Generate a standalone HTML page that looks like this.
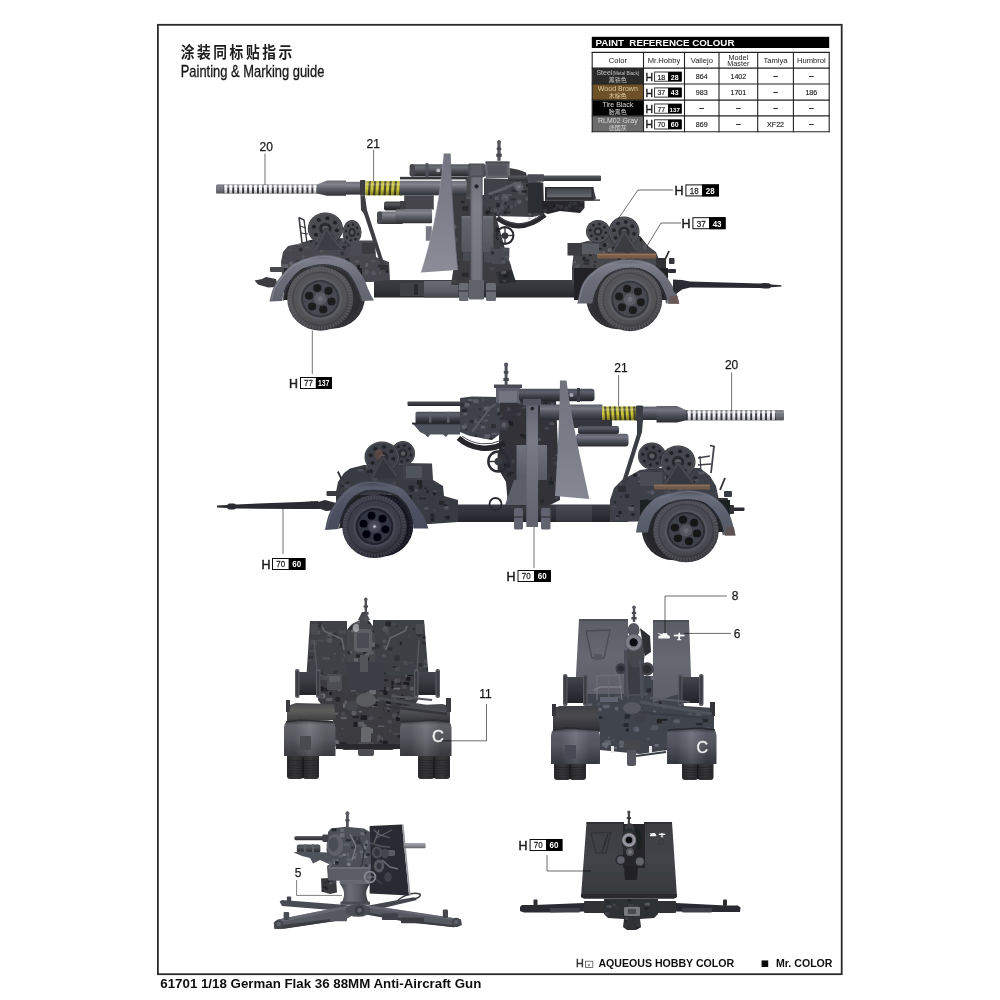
<!DOCTYPE html>
<html lang="zh">
<head>
<meta charset="utf-8">
<title>61701 1/18 German Flak 36 88MM Anti-Aircraft Gun - Painting &amp; Marking guide</title>
<style>
html,body{margin:0;padding:0;background:#fff;}
body{width:1000px;height:1000px;overflow:hidden;position:relative;font-family:"Liberation Sans","Noto Sans CJK SC",sans-serif;}
svg{position:absolute;left:0;top:0;display:block;}
</style>
</head>
<body>
<svg width="1000" height="1000" viewBox="0 0 1000 1000">
<defs>
<filter id="soft" x="-5%" y="-5%" width="110%" height="110%"><feGaussianBlur stdDeviation="0.7"/></filter>
<filter id="soft2" x="-5%" y="-5%" width="110%" height="110%"><feGaussianBlur stdDeviation="0.5"/></filter>
<linearGradient id="g1" x1="0" y1="0" x2="0" y2="1"><stop offset="0" stop-color="#6b6c75"/><stop offset="0.25" stop-color="#83848d"/><stop offset="0.55" stop-color="#5d5e66"/><stop offset="1" stop-color="#303136"/></linearGradient>
<linearGradient id="g2" x1="0" y1="0" x2="0" y2="1"><stop offset="0" stop-color="#55565e"/><stop offset="0.25" stop-color="#6c6d76"/><stop offset="0.6" stop-color="#484950"/><stop offset="1" stop-color="#26272b"/></linearGradient>
<linearGradient id="g3" x1="0" y1="0" x2="0" y2="1"><stop offset="0" stop-color="#3f4046"/><stop offset="0.3" stop-color="#55565d"/><stop offset="0.6" stop-color="#36373c"/><stop offset="1" stop-color="#1e1f22"/></linearGradient>
<linearGradient id="g4" x1="0" y1="0" x2="0" y2="1"><stop offset="0" stop-color="#3c3d43"/><stop offset="0.5" stop-color="#34353a"/><stop offset="1" stop-color="#26272b"/></linearGradient>
<linearGradient id="g5" x1="0" y1="0" x2="0" y2="1"><stop offset="0" stop-color="#6a6b74"/><stop offset="0.6" stop-color="#5c5d66"/><stop offset="1" stop-color="#44454c"/></linearGradient>
<clipPath id="c1"><polygon points="281,262 283,252 288,246 300,243.5 310,240 345,238 350,240.5 375,240.5 376,257 389,262 390,280 372,282 300,282 282,275"/></clipPath>
<radialGradient id="g6" cx="0.45" cy="0.38" r="0.64"><stop offset="0" stop-color="#55555a"/><stop offset="0.72" stop-color="#525257"/><stop offset="0.86" stop-color="#47474b"/><stop offset="1" stop-color="#343437"/></radialGradient>
<linearGradient id="g7" x1="0" y1="0" x2="0" y2="1"><stop offset="0" stop-color="#5a5c68"/><stop offset="0.12" stop-color="#7b7d8a"/><stop offset="0.5" stop-color="#6a6c78"/><stop offset="1" stop-color="#62646f"/></linearGradient>
<clipPath id="c2"><polygon points="572,268 574,250 580,243 592,240 600,236 640,236 648,246 656,252 660,262 664,272 664,282 572,284"/></clipPath>
<radialGradient id="g8" cx="0.45" cy="0.38" r="0.64"><stop offset="0" stop-color="#55555a"/><stop offset="0.72" stop-color="#525257"/><stop offset="0.86" stop-color="#47474b"/><stop offset="1" stop-color="#343437"/></radialGradient>
<linearGradient id="g9" x1="0" y1="0" x2="0" y2="1"><stop offset="0" stop-color="#5a5c68"/><stop offset="0.12" stop-color="#7b7d8a"/><stop offset="0.5" stop-color="#6a6c78"/><stop offset="1" stop-color="#62646f"/></linearGradient>
<linearGradient id="g10" x1="0" y1="0" x2="0" y2="1"><stop offset="0" stop-color="#000"/><stop offset="0.18" stop-color="#fff"/><stop offset="0.5" stop-color="#000"/><stop offset="1" stop-color="#000"/></linearGradient>
<linearGradient id="g11" x1="0" y1="0" x2="0" y2="1"><stop offset="0" stop-color="#000" stop-opacity="0.15"/><stop offset="0.22" stop-color="#fff" stop-opacity="0.1"/><stop offset="0.5" stop-color="#000" stop-opacity="0.0"/><stop offset="1" stop-color="#000" stop-opacity="0.3"/></linearGradient>
<linearGradient id="g12" x1="0" y1="0" x2="0" y2="1"><stop offset="0" stop-color="#000"/><stop offset="0.18" stop-color="#fff"/><stop offset="0.5" stop-color="#000"/><stop offset="1" stop-color="#000"/></linearGradient>
<linearGradient id="g13" x1="0" y1="0" x2="0" y2="1"><stop offset="0" stop-color="#000" stop-opacity="0.15"/><stop offset="0.22" stop-color="#fff" stop-opacity="0.25"/><stop offset="0.5" stop-color="#000" stop-opacity="0.0"/><stop offset="1" stop-color="#000" stop-opacity="0.4"/></linearGradient>
<clipPath id="c3"><polygon points="335,400 640,400 640,540 700,760 740,870 760,960 640,1000 340,1000 355,900"/></clipPath>
<linearGradient id="g14" x1="0" y1="0" x2="0" y2="1"><stop offset="0" stop-color="#70717a"/><stop offset="0.1" stop-color="#62636b"/><stop offset="1" stop-color="#55565d"/></linearGradient>
<linearGradient id="g15" x1="0" y1="0" x2="0" y2="1"><stop offset="0" stop-color="#70717a"/><stop offset="0.1" stop-color="#62636b"/><stop offset="1" stop-color="#55565d"/></linearGradient>
<linearGradient id="g16" x1="0" y1="0" x2="0" y2="1"><stop offset="0" stop-color="#5f6068"/><stop offset="0.25" stop-color="#70717a"/><stop offset="1" stop-color="#606169"/></linearGradient>
<linearGradient id="g17" x1="0" y1="0" x2="1" y2="0"><stop offset="0" stop-color="#000"/><stop offset="0.2" stop-color="#fff"/><stop offset="0.8" stop-color="#fff"/><stop offset="1" stop-color="#000"/></linearGradient>
<clipPath id="c4"><polygon points="560,288 850,296 955,318 962,528 885,546 640,540 598,500 560,478"/></clipPath>
<linearGradient id="g18" x1="0" y1="0" x2="0" y2="1"><stop offset="0" stop-color="#5c5d64"/><stop offset="0.4" stop-color="#4a4b51"/><stop offset="1" stop-color="#2c2d31"/></linearGradient>
<clipPath id="c5"><polygon points="600,748 730,752 728,820 700,862 615,860 596,810"/></clipPath>
<linearGradient id="g19" x1="0" y1="0" x2="0" y2="1"><stop offset="0" stop-color="#737481"/><stop offset="0.5" stop-color="#7e7f8b"/><stop offset="1" stop-color="#8b8c98"/></linearGradient>
<linearGradient id="g20" x1="0" y1="0" x2="0" y2="1"><stop offset="0" stop-color="#44454c"/><stop offset="0.5" stop-color="#55565e"/><stop offset="1" stop-color="#6a6b74"/></linearGradient>
<clipPath id="c6"><polygon points="542,201 584.5,201 584.5,208 580,213 560,211 548,214 542,212"/></clipPath>
<clipPath id="c7"><polygon points="496,272 512,270 516,282 500,284"/></clipPath>
<linearGradient id="g21" x1="0" y1="0" x2="0" y2="1"><stop offset="0" stop-color="#5c5e69"/><stop offset="0.25" stop-color="#747682"/><stop offset="0.55" stop-color="#4f515b"/><stop offset="1" stop-color="#2a2b31"/></linearGradient>
<linearGradient id="g22" x1="0" y1="0" x2="0" y2="1"><stop offset="0" stop-color="#4a4c56"/><stop offset="0.25" stop-color="#5e606b"/><stop offset="0.6" stop-color="#3e4049"/><stop offset="1" stop-color="#222328"/></linearGradient>
<linearGradient id="g23" x1="0" y1="0" x2="0" y2="1"><stop offset="0" stop-color="#3a3b42"/><stop offset="0.5" stop-color="#303137"/><stop offset="1" stop-color="#24252a"/></linearGradient>
<linearGradient id="g24" x1="0" y1="0" x2="0" y2="1"><stop offset="0" stop-color="#4a4c55"/><stop offset="1" stop-color="#34353c"/></linearGradient>
<clipPath id="c8"><polygon points="336,492 338,482 344,473 350,468.5 364,465 400,463 432,463.5 433,480 443,486 444,496 458,500 458,522 430,524 336,524"/></clipPath>
<radialGradient id="g25" cx="0.45" cy="0.38" r="0.64"><stop offset="0" stop-color="#3f3f4b"/><stop offset="0.72" stop-color="#3c3c48"/><stop offset="0.86" stop-color="#31313c"/><stop offset="1" stop-color="#1e1e28"/></radialGradient>
<linearGradient id="g26" x1="0" y1="0" x2="0" y2="1"><stop offset="0" stop-color="#5a5c68"/><stop offset="0.12" stop-color="#7b7d8a"/><stop offset="0.5" stop-color="#6a6c78"/><stop offset="1" stop-color="#62646f"/></linearGradient>
<linearGradient id="g27" x1="0" y1="0" x2="0" y2="1"><stop offset="0" stop-color="#3e4150"/><stop offset="0.15" stop-color="#5a5e6e"/><stop offset="0.6" stop-color="#4c5060"/><stop offset="1" stop-color="#484c5a"/></linearGradient>
<clipPath id="c9"><polygon points="610,500 614,488 622,480 640,470 655,468 700,468 710,476 716,486 719,500 722,512 722,520 610,522"/></clipPath>
<radialGradient id="g28" cx="0.45" cy="0.38" r="0.64"><stop offset="0" stop-color="#4d4d54"/><stop offset="0.72" stop-color="#4a4a51"/><stop offset="0.86" stop-color="#3f3f45"/><stop offset="1" stop-color="#2c2c31"/></radialGradient>
<linearGradient id="g29" x1="0" y1="0" x2="0" y2="1"><stop offset="0" stop-color="#5a5c68"/><stop offset="0.12" stop-color="#7b7d8a"/><stop offset="0.5" stop-color="#6a6c78"/><stop offset="1" stop-color="#62646f"/></linearGradient>
<linearGradient id="g30" x1="0" y1="0" x2="0" y2="1"><stop offset="0" stop-color="#484b59"/><stop offset="0.15" stop-color="#686c7b"/><stop offset="0.6" stop-color="#5a5e6c"/><stop offset="1" stop-color="#565a68"/></linearGradient>
<clipPath id="c10"><polygon points="500,400 556,400 560,500 548,506 508,506 506,482 499,470 499,440"/></clipPath>
<linearGradient id="g31" x1="0" y1="0" x2="0" y2="1"><stop offset="0" stop-color="#4a4c55"/><stop offset="0.5" stop-color="#3a3b42"/><stop offset="1" stop-color="#26272c"/></linearGradient>
<clipPath id="c11"><polygon points="460,398 472,396.5 497,397 500,404 500,434 492,440 470,436 460,432"/></clipPath>
<linearGradient id="g32" x1="0" y1="0" x2="0" y2="1"><stop offset="0" stop-color="#000"/><stop offset="0.18" stop-color="#fff"/><stop offset="0.5" stop-color="#000"/><stop offset="1" stop-color="#000"/></linearGradient>
<linearGradient id="g33" x1="0" y1="0" x2="0" y2="1"><stop offset="0" stop-color="#000" stop-opacity="0.15"/><stop offset="0.22" stop-color="#fff" stop-opacity="0.25"/><stop offset="0.5" stop-color="#000" stop-opacity="0.0"/><stop offset="1" stop-color="#000" stop-opacity="0.4"/></linearGradient>
<linearGradient id="g34" x1="0" y1="0" x2="0" y2="1"><stop offset="0" stop-color="#000"/><stop offset="0.18" stop-color="#fff"/><stop offset="0.5" stop-color="#000"/><stop offset="1" stop-color="#000"/></linearGradient>
<linearGradient id="g35" x1="0" y1="0" x2="0" y2="1"><stop offset="0" stop-color="#000" stop-opacity="0.15"/><stop offset="0.22" stop-color="#fff" stop-opacity="0.1"/><stop offset="0.5" stop-color="#000" stop-opacity="0.0"/><stop offset="1" stop-color="#000" stop-opacity="0.3"/></linearGradient>
<linearGradient id="g36" x1="0" y1="0" x2="0" y2="1"><stop offset="0" stop-color="#000"/><stop offset="0.18" stop-color="#fff"/><stop offset="0.5" stop-color="#000"/><stop offset="1" stop-color="#000"/></linearGradient>
<linearGradient id="g37" x1="0" y1="0" x2="0" y2="1"><stop offset="0" stop-color="#000" stop-opacity="0.15"/><stop offset="0.22" stop-color="#fff" stop-opacity="0.2"/><stop offset="0.5" stop-color="#000" stop-opacity="0.0"/><stop offset="1" stop-color="#000" stop-opacity="0.3"/></linearGradient>
<linearGradient id="g38" x1="0" y1="0" x2="0" y2="1"><stop offset="0" stop-color="#70727e"/><stop offset="1" stop-color="#585a65"/></linearGradient>
<linearGradient id="g39" x1="0" y1="0" x2="0" y2="1"><stop offset="0" stop-color="#70727e"/><stop offset="1" stop-color="#585a65"/></linearGradient>
<linearGradient id="g40" x1="0" y1="0" x2="0" y2="1"><stop offset="0" stop-color="#636571"/><stop offset="0.3" stop-color="#787a86"/><stop offset="1" stop-color="#60626d"/></linearGradient>
<linearGradient id="g41" x1="0" y1="0" x2="0" y2="1"><stop offset="0" stop-color="#70727e"/><stop offset="0.5" stop-color="#7a7c88"/><stop offset="1" stop-color="#858793"/></linearGradient>
<linearGradient id="g42" x1="0" y1="0" x2="1" y2="0"><stop offset="0" stop-color="#2a2a2d"/><stop offset="0.5" stop-color="#38383b"/><stop offset="1" stop-color="#2a2a2d"/></linearGradient>
<linearGradient id="g43" x1="0" y1="0" x2="1" y2="0"><stop offset="0" stop-color="#2a2a2d"/><stop offset="0.5" stop-color="#38383b"/><stop offset="1" stop-color="#2a2a2d"/></linearGradient>
<clipPath id="c12"><polygon points="320,672 414,672 418,700 402,722 400,746 392,750 344,750 335,746 334,722 318,700"/></clipPath>
<clipPath id="c13"><polygon points="310,621 347,621 347,675 306.5,675"/></clipPath>
<clipPath id="c14"><polygon points="373,620 424,620 428.5,675 373,675"/></clipPath>
<clipPath id="c15"><polygon points="347,630 352,624 360,620 368,620 373,626 375,640 375,670 347,670"/></clipPath>
<linearGradient id="g44" x1="0" y1="0" x2="0" y2="1"><stop offset="0" stop-color="#44454b"/><stop offset="0.4" stop-color="#3a3b41"/><stop offset="1" stop-color="#232428"/></linearGradient>
<linearGradient id="g45" x1="0" y1="0" x2="0" y2="1"><stop offset="0" stop-color="#44454b"/><stop offset="0.4" stop-color="#3a3b41"/><stop offset="1" stop-color="#232428"/></linearGradient>
<linearGradient id="g46" x1="0" y1="0" x2="0" y2="1"><stop offset="0" stop-color="#4a4a4c"/><stop offset="0.4" stop-color="#5e5d5c"/><stop offset="1" stop-color="#3a3a3c"/></linearGradient>
<linearGradient id="g47" x1="0" y1="0" x2="0" y2="1"><stop offset="0" stop-color="#45464a"/><stop offset="0.4" stop-color="#505156"/><stop offset="1" stop-color="#333437"/></linearGradient>
<linearGradient id="g48" x1="0" y1="0" x2="0" y2="1"><stop offset="0" stop-color="#3e3f45"/><stop offset="0.12" stop-color="#6c6d74"/><stop offset="0.5" stop-color="#606168"/><stop offset="1" stop-color="#3e3f45"/></linearGradient>
<linearGradient id="g49" x1="0" y1="0" x2="1" y2="0"><stop offset="0" stop-color="#000"/><stop offset="0.2" stop-color="#000"/><stop offset="0.5" stop-color="#fff"/><stop offset="0.8" stop-color="#000"/><stop offset="1" stop-color="#000"/></linearGradient>
<linearGradient id="g50" x1="0" y1="0" x2="0" y2="1"><stop offset="0" stop-color="#3c3d43"/><stop offset="0.12" stop-color="#696a71"/><stop offset="0.5" stop-color="#5c5d64"/><stop offset="1" stop-color="#3c3d43"/></linearGradient>
<linearGradient id="g51" x1="0" y1="0" x2="1" y2="0"><stop offset="0" stop-color="#000"/><stop offset="0.2" stop-color="#000"/><stop offset="0.5" stop-color="#fff"/><stop offset="0.8" stop-color="#000"/><stop offset="1" stop-color="#000"/></linearGradient>
<linearGradient id="g52" x1="0" y1="0" x2="1" y2="0"><stop offset="0" stop-color="#2a2a2d"/><stop offset="0.5" stop-color="#38383b"/><stop offset="1" stop-color="#2a2a2d"/></linearGradient>
<linearGradient id="g53" x1="0" y1="0" x2="1" y2="0"><stop offset="0" stop-color="#2a2a2d"/><stop offset="0.5" stop-color="#38383b"/><stop offset="1" stop-color="#2a2a2d"/></linearGradient>
<clipPath id="c16"><polygon points="588,676 680,676 684,706 714,708 714,730 668,732 667,750 640,754 600,750 600,732 553,730 553,710 586,706"/></clipPath>
<linearGradient id="g54" x1="0" y1="0" x2="0" y2="1"><stop offset="0" stop-color="#5c5d66"/><stop offset="0.5" stop-color="#666771"/><stop offset="1" stop-color="#5e5f69"/></linearGradient>
<radialGradient id="g55" cx="0.5" cy="0.5" r="0.5"><stop offset="0" stop-color="#111"/><stop offset="0.42" stop-color="#15161a"/><stop offset="0.5" stop-color="#6e707b"/><stop offset="0.75" stop-color="#858792"/><stop offset="1" stop-color="#50525c"/></radialGradient>
<linearGradient id="g56" x1="0" y1="0" x2="0" y2="1"><stop offset="0" stop-color="#44454b"/><stop offset="0.4" stop-color="#34353c"/><stop offset="1" stop-color="#232428"/></linearGradient>
<linearGradient id="g57" x1="0" y1="0" x2="0" y2="1"><stop offset="0" stop-color="#44454b"/><stop offset="0.4" stop-color="#34353c"/><stop offset="1" stop-color="#232428"/></linearGradient>
<linearGradient id="g58" x1="0" y1="0" x2="0" y2="1"><stop offset="0" stop-color="#3e3f45"/><stop offset="0.4" stop-color="#4a4a4e"/><stop offset="1" stop-color="#2e2f34"/></linearGradient>
<linearGradient id="g59" x1="0" y1="0" x2="0" y2="1"><stop offset="0" stop-color="#3a3c45"/><stop offset="0.12" stop-color="#656773"/><stop offset="0.5" stop-color="#5a5c67"/><stop offset="1" stop-color="#3a3c45"/></linearGradient>
<linearGradient id="g60" x1="0" y1="0" x2="1" y2="0"><stop offset="0" stop-color="#000"/><stop offset="0.2" stop-color="#000"/><stop offset="0.5" stop-color="#fff"/><stop offset="0.8" stop-color="#000"/><stop offset="1" stop-color="#000"/></linearGradient>
<linearGradient id="g61" x1="0" y1="0" x2="0" y2="1"><stop offset="0" stop-color="#383a43"/><stop offset="0.12" stop-color="#636571"/><stop offset="0.5" stop-color="#585a65"/><stop offset="1" stop-color="#383a43"/></linearGradient>
<linearGradient id="g62" x1="0" y1="0" x2="1" y2="0"><stop offset="0" stop-color="#000"/><stop offset="0.2" stop-color="#000"/><stop offset="0.5" stop-color="#fff"/><stop offset="0.8" stop-color="#000"/><stop offset="1" stop-color="#000"/></linearGradient>
<linearGradient id="g63" x1="0" y1="0" x2="1" y2="0"><stop offset="0" stop-color="#42444b"/><stop offset="0.3" stop-color="#6c6e77"/><stop offset="0.65" stop-color="#585a63"/><stop offset="1" stop-color="#33353b"/></linearGradient>
<clipPath id="c17"><polygon points="255,392 330,388 335,462 300,470 258,458"/></clipPath>
<clipPath id="c18"><polygon points="290,160 305,142 380,134 470,142 500,160 505,330 500,402 290,402 285,330 300,320 282,250 288,200"/></clipPath>
<linearGradient id="g64" x1="0" y1="0" x2="0" y2="1"><stop offset="0" stop-color="#6a6c74"/><stop offset="0.4" stop-color="#44464d"/><stop offset="1" stop-color="#2a2b30"/></linearGradient>
<linearGradient id="g65" x1="0" y1="0" x2="0" y2="1"><stop offset="0" stop-color="#45474e"/><stop offset="0.3" stop-color="#585a62"/><stop offset="1" stop-color="#1f2024"/></linearGradient>
<linearGradient id="g66" x1="0" y1="0" x2="0" y2="1"><stop offset="0" stop-color="#a8a9b0"/><stop offset="0.5" stop-color="#8c8d94"/><stop offset="1" stop-color="#64656c"/></linearGradient>
<clipPath id="c19"><polygon points="604,899 658,899 658,914 654,918 640,919 641,927 636,930 627,930 623,927 624,919 608,918 604,914"/></clipPath>
<linearGradient id="g67" x1="0" y1="0" x2="0" y2="1"><stop offset="0" stop-color="#3c3d42"/><stop offset="0.5" stop-color="#424348"/><stop offset="1" stop-color="#36373b"/></linearGradient>
<radialGradient id="g68" cx="0.5" cy="0.5" r="0.5"><stop offset="0" stop-color="#0c0c0d"/><stop offset="0.4" stop-color="#101012"/><stop offset="0.5" stop-color="#7c7d84"/><stop offset="0.78" stop-color="#a0a1a8"/><stop offset="1" stop-color="#45464c"/></radialGradient>
</defs>
<rect x="0" y="0" width="1000" height="1000" fill="#ffffff"/>
<g filter="url(#soft2)">
<rect x="157.9" y="24.8" width="683.8" height="949.4" fill="none" stroke="#2b2b2b" stroke-width="1.8"/>
<g transform="translate(180.8,57.7) scale(0.88,1)">
<text x="0" y="0" font-family="&quot;Liberation Sans&quot;, &quot;Noto Sans CJK SC&quot;, sans-serif" font-size="15.6" font-weight="bold" fill="#1a1a1a" text-anchor="start" letter-spacing="2.9">涂装同标贴指示</text>
</g>
<g transform="translate(180.7,77.3) scale(0.752,1)">
<text x="0" y="0" font-family="&quot;Liberation Sans&quot;, sans-serif" font-size="17.2" font-weight="normal" fill="#1a1a1a" text-anchor="start" stroke="#1a1a1a" stroke-width="0.35">Painting &amp; Marking guide</text>
</g>
<text x="160.3" y="987.8" font-family="&quot;Liberation Sans&quot;, sans-serif" font-size="13.3" font-weight="bold" fill="#111" text-anchor="start">61701 1/18 German Flak 36 88MM Anti-Aircraft Gun</text>
<text x="576" y="967.2" font-family="&quot;Liberation Sans&quot;, sans-serif" font-size="10.8" font-weight="normal" fill="#333" text-anchor="start" stroke="#333" stroke-width="0.4">H</text>
<rect x="585.4" y="961.2" width="7.4" height="6.2" fill="#fff" stroke="#555" stroke-width="0.8"/>
<text x="589.1" y="966.6" font-family="&quot;Liberation Sans&quot;, sans-serif" font-size="6" font-weight="normal" fill="#555" text-anchor="middle">×</text>
<text x="598.4" y="967.3" font-family="&quot;Liberation Sans&quot;, sans-serif" font-size="10.6" font-weight="bold" fill="#111" text-anchor="start">AQUEOUS HOBBY COLOR</text>
<rect x="761.6" y="960.4" width="6.6" height="6.6" fill="#111"/>
<text x="776" y="967.3" font-family="&quot;Liberation Sans&quot;, sans-serif" font-size="10.6" font-weight="bold" fill="#111" text-anchor="start">Mr. COLOR</text>
<rect x="591.8" y="36.8" width="237.4" height="11.2" fill="#000"/>
<text x="595.4" y="46.3" font-family="&quot;Liberation Sans&quot;, sans-serif" font-size="9.75" font-weight="bold" fill="#fff" text-anchor="start" style="white-space:pre">PAINT  REFERENCE COLOUR</text>
<rect x="592.2" y="68.1" width="51.3" height="15.9" fill="#2a2a2a"/>
<rect x="592.2" y="84" width="51.3" height="16.1" fill="#6e5126"/>
<rect x="592.2" y="100.1" width="51.3" height="15.8" fill="#050505"/>
<rect x="592.2" y="115.9" width="51.3" height="15.8" fill="#6c6c6c"/>
<line x1="592.2" y1="51.9" x2="592.2" y2="132.2" stroke="#222" stroke-width="1.1"/>
<line x1="643.5" y1="51.9" x2="643.5" y2="132.2" stroke="#222" stroke-width="1.1"/>
<line x1="684.5" y1="51.9" x2="684.5" y2="132.2" stroke="#222" stroke-width="1.1"/>
<line x1="719" y1="51.9" x2="719" y2="132.2" stroke="#222" stroke-width="1.1"/>
<line x1="757.7" y1="51.9" x2="757.7" y2="132.2" stroke="#222" stroke-width="1.1"/>
<line x1="793.4" y1="51.9" x2="793.4" y2="132.2" stroke="#222" stroke-width="1.1"/>
<line x1="829.2" y1="51.9" x2="829.2" y2="132.2" stroke="#222" stroke-width="1.1"/>
<line x1="591.7" y1="52.4" x2="829.7" y2="52.4" stroke="#222" stroke-width="1.1"/>
<line x1="591.7" y1="68.1" x2="829.7" y2="68.1" stroke="#222" stroke-width="1.1"/>
<line x1="591.7" y1="84" x2="829.7" y2="84" stroke="#222" stroke-width="1.1"/>
<line x1="591.7" y1="100.1" x2="829.7" y2="100.1" stroke="#222" stroke-width="1.1"/>
<line x1="591.7" y1="115.9" x2="829.7" y2="115.9" stroke="#222" stroke-width="1.1"/>
<line x1="591.7" y1="131.7" x2="829.7" y2="131.7" stroke="#222" stroke-width="1.1"/>
<text x="617.85" y="63.2" font-family="&quot;Liberation Sans&quot;, sans-serif" font-size="7.6" font-weight="normal" fill="#222" text-anchor="middle">Color</text>
<text x="664" y="63.2" font-family="&quot;Liberation Sans&quot;, sans-serif" font-size="7.6" font-weight="normal" fill="#222" text-anchor="middle">Mr.Hobby</text>
<text x="701.75" y="63.2" font-family="&quot;Liberation Sans&quot;, sans-serif" font-size="7.6" font-weight="normal" fill="#222" text-anchor="middle">Vallejo</text>
<text x="775.55" y="63.2" font-family="&quot;Liberation Sans&quot;, sans-serif" font-size="7.6" font-weight="normal" fill="#222" text-anchor="middle">Tamiya</text>
<text x="811.3" y="63.2" font-family="&quot;Liberation Sans&quot;, sans-serif" font-size="7.6" font-weight="normal" fill="#222" text-anchor="middle">Humbrol</text>
<text x="738.35" y="59.6" font-family="&quot;Liberation Sans&quot;, sans-serif" font-size="7.2" font-weight="normal" fill="#222" text-anchor="middle">Model</text>
<text x="738.35" y="65.6" font-family="&quot;Liberation Sans&quot;, sans-serif" font-size="7.2" font-weight="normal" fill="#222" text-anchor="middle">Master</text>
<text x="617.85" y="75.1" font-family="&quot;Liberation Sans&quot;, sans-serif" font-size="7.0" font-weight="normal" fill="#c0c0c0" text-anchor="middle">Steel<tspan font-size="4.6">(Metal Black)</tspan></text>
<text x="617.85" y="82.3" font-family="&quot;Liberation Sans&quot;, &quot;Noto Sans CJK SC&quot;, sans-serif" font-size="6.0" font-weight="normal" fill="#c0c0c0" text-anchor="middle">黑铁色</text>
<text x="617.85" y="91" font-family="&quot;Liberation Sans&quot;, sans-serif" font-size="7.0" font-weight="normal" fill="#dccba4" text-anchor="middle">Wood Brown</text>
<text x="617.85" y="98.2" font-family="&quot;Liberation Sans&quot;, &quot;Noto Sans CJK SC&quot;, sans-serif" font-size="6.0" font-weight="normal" fill="#dccba4" text-anchor="middle">木棕色</text>
<text x="617.85" y="107.1" font-family="&quot;Liberation Sans&quot;, sans-serif" font-size="7.0" font-weight="normal" fill="#d4d4d4" text-anchor="middle">Tire Black</text>
<text x="617.85" y="114.3" font-family="&quot;Liberation Sans&quot;, &quot;Noto Sans CJK SC&quot;, sans-serif" font-size="6.0" font-weight="normal" fill="#d4d4d4" text-anchor="middle">胎黑色</text>
<text x="617.85" y="122.9" font-family="&quot;Liberation Sans&quot;, sans-serif" font-size="7.0" font-weight="normal" fill="#dadada" text-anchor="middle">RLM02 Gray</text>
<text x="617.85" y="130.1" font-family="&quot;Liberation Sans&quot;, &quot;Noto Sans CJK SC&quot;, sans-serif" font-size="6.0" font-weight="normal" fill="#dadada" text-anchor="middle">德国灰</text>
<text x="701.75" y="78.9" font-family="&quot;Liberation Sans&quot;, sans-serif" font-size="7.1" font-weight="normal" fill="#222" text-anchor="middle" stroke="#222" stroke-width="0.15">864</text>
<text x="738.35" y="78.9" font-family="&quot;Liberation Sans&quot;, sans-serif" font-size="7.1" font-weight="normal" fill="#222" text-anchor="middle" stroke="#222" stroke-width="0.15">1402</text>
<text x="775.55" y="78.7" font-family="&quot;Liberation Sans&quot;, sans-serif" font-size="9.5" font-weight="bold" fill="#222" text-anchor="middle">–</text>
<text x="811.3" y="78.7" font-family="&quot;Liberation Sans&quot;, sans-serif" font-size="9.5" font-weight="bold" fill="#222" text-anchor="middle">–</text>
<text x="701.75" y="94.8" font-family="&quot;Liberation Sans&quot;, sans-serif" font-size="7.1" font-weight="normal" fill="#222" text-anchor="middle" stroke="#222" stroke-width="0.15">983</text>
<text x="738.35" y="94.8" font-family="&quot;Liberation Sans&quot;, sans-serif" font-size="7.1" font-weight="normal" fill="#222" text-anchor="middle" stroke="#222" stroke-width="0.15">1701</text>
<text x="775.55" y="94.6" font-family="&quot;Liberation Sans&quot;, sans-serif" font-size="9.5" font-weight="bold" fill="#222" text-anchor="middle">–</text>
<text x="811.3" y="94.8" font-family="&quot;Liberation Sans&quot;, sans-serif" font-size="7.1" font-weight="normal" fill="#222" text-anchor="middle" stroke="#222" stroke-width="0.15">186</text>
<text x="701.75" y="110.7" font-family="&quot;Liberation Sans&quot;, sans-serif" font-size="9.5" font-weight="bold" fill="#222" text-anchor="middle">–</text>
<text x="738.35" y="110.7" font-family="&quot;Liberation Sans&quot;, sans-serif" font-size="9.5" font-weight="bold" fill="#222" text-anchor="middle">–</text>
<text x="775.55" y="110.7" font-family="&quot;Liberation Sans&quot;, sans-serif" font-size="9.5" font-weight="bold" fill="#222" text-anchor="middle">–</text>
<text x="811.3" y="110.7" font-family="&quot;Liberation Sans&quot;, sans-serif" font-size="9.5" font-weight="bold" fill="#222" text-anchor="middle">–</text>
<text x="701.75" y="126.7" font-family="&quot;Liberation Sans&quot;, sans-serif" font-size="7.1" font-weight="normal" fill="#222" text-anchor="middle" stroke="#222" stroke-width="0.15">869</text>
<text x="738.35" y="126.5" font-family="&quot;Liberation Sans&quot;, sans-serif" font-size="9.5" font-weight="bold" fill="#222" text-anchor="middle">–</text>
<text x="775.55" y="126.7" font-family="&quot;Liberation Sans&quot;, sans-serif" font-size="7.1" font-weight="normal" fill="#222" text-anchor="middle" stroke="#222" stroke-width="0.15">XF22</text>
<text x="811.3" y="126.5" font-family="&quot;Liberation Sans&quot;, sans-serif" font-size="9.5" font-weight="bold" fill="#222" text-anchor="middle">–</text>
<text x="645.6" y="80.6" font-family="&quot;Liberation Sans&quot;, sans-serif" font-size="10.4" font-weight="normal" fill="#1c1c1c" text-anchor="start" stroke="#1c1c1c" stroke-width="0.4">H</text>
<rect x="654.6" y="72" width="26.6" height="9.2" fill="#fff" stroke="#222" stroke-width="0.9"/>
<rect x="668" y="72" width="13.6" height="9.2" fill="#000"/>
<text x="661.3" y="79.5" font-family="&quot;Liberation Sans&quot;, sans-serif" font-size="7" font-weight="normal" fill="#222" text-anchor="middle" stroke="#222" stroke-width="0.2">18</text>
<text x="674.7" y="79.5" font-family="&quot;Liberation Sans&quot;, sans-serif" font-size="7" font-weight="bold" fill="#fff" text-anchor="middle">28</text>
<text x="645.6" y="96.5" font-family="&quot;Liberation Sans&quot;, sans-serif" font-size="10.4" font-weight="normal" fill="#1c1c1c" text-anchor="start" stroke="#1c1c1c" stroke-width="0.4">H</text>
<rect x="654.6" y="87.9" width="26.6" height="9.2" fill="#fff" stroke="#222" stroke-width="0.9"/>
<rect x="668" y="87.9" width="13.6" height="9.2" fill="#000"/>
<text x="661.3" y="95.4" font-family="&quot;Liberation Sans&quot;, sans-serif" font-size="7" font-weight="normal" fill="#222" text-anchor="middle" stroke="#222" stroke-width="0.2">37</text>
<text x="674.7" y="95.4" font-family="&quot;Liberation Sans&quot;, sans-serif" font-size="7" font-weight="bold" fill="#fff" text-anchor="middle">43</text>
<text x="645.6" y="112.6" font-family="&quot;Liberation Sans&quot;, sans-serif" font-size="10.4" font-weight="normal" fill="#1c1c1c" text-anchor="start" stroke="#1c1c1c" stroke-width="0.4">H</text>
<rect x="654.6" y="104" width="26.6" height="9.2" fill="#fff" stroke="#222" stroke-width="0.9"/>
<rect x="668" y="104" width="13.6" height="9.2" fill="#000"/>
<text x="661.3" y="111.5" font-family="&quot;Liberation Sans&quot;, sans-serif" font-size="7" font-weight="normal" fill="#222" text-anchor="middle" stroke="#222" stroke-width="0.2">77</text>
<text x="674.7" y="111.5" font-family="&quot;Liberation Sans&quot;, sans-serif" font-size="6.2" font-weight="bold" fill="#fff" text-anchor="middle">137</text>
<text x="645.6" y="128.4" font-family="&quot;Liberation Sans&quot;, sans-serif" font-size="10.4" font-weight="normal" fill="#1c1c1c" text-anchor="start" stroke="#1c1c1c" stroke-width="0.4">H</text>
<rect x="654.6" y="119.8" width="26.6" height="9.2" fill="#fff" stroke="#222" stroke-width="0.9"/>
<rect x="668" y="119.8" width="13.6" height="9.2" fill="#000"/>
<text x="661.3" y="127.3" font-family="&quot;Liberation Sans&quot;, sans-serif" font-size="7" font-weight="normal" fill="#222" text-anchor="middle" stroke="#222" stroke-width="0.2">70</text>
<text x="674.7" y="127.3" font-family="&quot;Liberation Sans&quot;, sans-serif" font-size="7" font-weight="bold" fill="#fff" text-anchor="middle">60</text>
</g>
<g filter="url(#soft)">
<rect x="374" y="280" width="226" height="17.5" fill="url(#g4)"/>
<rect x="424" y="281" width="34.5" height="16.5" fill="url(#g5)"/>
<rect x="400" y="283" width="24" height="13" fill="#3f4047"/>
<rect x="414" y="284" width="4" height="11" fill="#2a2b2f"/>
<polygon points="254.5,280.5 262,279 266,277 276,279 278,287 268,287.5 258,284.5" fill="#3a3b40"/>
<rect x="270" y="267" width="13" height="5" fill="#47484e" rx="1"/>
<polygon points="281,262 283,252 288,246 300,243.5 310,240 345,238 350,240.5 375,240.5 376,257 389,262 390,280 372,282 300,282 282,275" fill="#46474d"/>
<g clip-path="url(#c1)" opacity="0.8">
<circle cx="350.99" cy="241.12" r="1.18" fill="#303136"/>
<circle cx="303.96" cy="241.61" r="1.65" fill="#1c1d20"/>
<rect x="370.34" y="243.28" width="1.91" height="2.65" fill="#5a5b62" rx="0.5"/>
<circle cx="343.62" cy="240.14" r="1.65" fill="#5a5b62"/>
<rect x="296.34" y="243.05" width="5.36" height="2.28" fill="#6a6b72" rx="0.5"/>
<rect x="341.96" y="246.1" width="4.57" height="1.78" fill="#26272b" rx="0.5"/>
<rect x="303.27" y="267.37" width="1.78" height="1.66" fill="#1c1d20" rx="0.5"/>
<rect x="319.76" y="248.43" width="3.6" height="3.99" fill="#5a5b62" rx="0.5"/>
<circle cx="337.56" cy="275.17" r="1.04" fill="#1c1d20"/>
<rect x="325.34" y="270.63" width="5.91" height="1.82" fill="#5a5b62" rx="0.5"/>
<rect x="289.33" y="261.41" width="3.4" height="4.1" fill="#6a6b72" rx="0.5"/>
<rect x="366.64" y="240.93" width="3.08" height="2.84" fill="#26272b" rx="0.5"/>
<rect x="287.5" y="267.71" width="3.63" height="3.29" fill="#303136" rx="0.5"/>
<rect x="322.05" y="266.66" width="5.2" height="2.27" fill="#26272b" rx="0.5"/>
<circle cx="334.05" cy="247.26" r="1.24" fill="#6a6b72"/>
<rect x="374.85" y="241.44" width="2.61" height="2.56" fill="#1c1d20" rx="0.5"/>
<rect x="327.33" y="261.7" width="2.75" height="1.87" fill="#1c1d20" rx="0.5"/>
<circle cx="305.62" cy="241.55" r="1.83" fill="#5a5b62"/>
<circle cx="344.46" cy="249.19" r="1.02" fill="#26272b"/>
<rect x="315.11" y="243.32" width="3.91" height="3.15" fill="#303136" rx="0.5"/>
<rect x="329.76" y="274.8" width="4.45" height="3.5" fill="#303136" rx="0.5"/>
<rect x="349.09" y="240.68" width="3.3" height="1.78" fill="#26272b" rx="0.5"/>
<circle cx="345.43" cy="242.41" r="1.39" fill="#303136"/>
<rect x="283.75" y="275.39" width="1.96" height="2.48" fill="#303136" rx="0.5"/>
<rect x="345.34" y="257.9" width="4.35" height="4.08" fill="#26272b" rx="0.5"/>
<rect x="332.29" y="241.66" width="5.97" height="2.76" fill="#26272b" rx="0.5"/>
<rect x="354.76" y="260" width="4.83" height="2.79" fill="#5a5b62" rx="0.5"/>
<circle cx="339.15" cy="239.16" r="1.55" fill="#303136"/>
<rect x="371.3" y="260.36" width="4.39" height="1.75" fill="#5a5b62" rx="0.5"/>
<rect x="335.16" y="265.06" width="2.5" height="2.96" fill="#303136" rx="0.5"/>
<circle cx="366.47" cy="272.45" r="2.37" fill="#5a5b62"/>
<circle cx="387.03" cy="271.39" r="1.49" fill="#1c1d20"/>
<rect x="328.72" y="277.32" width="4.62" height="4.08" fill="#6a6b72" rx="0.5"/>
<rect x="305.37" y="246.45" width="3.14" height="2.1" fill="#5a5b62" rx="0.5"/>
<rect x="281.2" y="276.57" width="5.93" height="3.15" fill="#6a6b72" rx="0.5"/>
<rect x="379.31" y="271.14" width="1.88" height="3.28" fill="#5a5b62" rx="0.5"/>
<rect x="316.86" y="271.78" width="2.3" height="3.63" fill="#1c1d20" rx="0.5"/>
<circle cx="297.93" cy="280.84" r="1.94" fill="#26272b"/>
<rect x="296.53" y="272.85" width="5.57" height="3.68" fill="#1c1d20" rx="0.5"/>
<rect x="295.08" y="238.61" width="3.08" height="2.98" fill="#26272b" rx="0.5"/>
<circle cx="373.53" cy="273.25" r="2.28" fill="#5a5b62"/>
<rect x="363.3" y="251.88" width="2.46" height="2.85" fill="#303136" rx="0.5"/>
<rect x="319.19" y="257.25" width="2.09" height="3.96" fill="#303136" rx="0.5"/>
<rect x="375.04" y="243.51" width="3.83" height="3.73" fill="#5a5b62" rx="0.5"/>
<circle cx="300.81" cy="238.17" r="0.63" fill="#5a5b62"/>
<rect x="340.65" y="251.78" width="3.63" height="3.46" fill="#303136" rx="0.5"/>
<circle cx="375.65" cy="240.4" r="1.47" fill="#5a5b62"/>
<rect x="340.83" y="270.35" width="4.98" height="2.87" fill="#26272b" rx="0.5"/>
<rect x="335.74" y="267.49" width="4.26" height="2.86" fill="#1c1d20" rx="0.5"/>
<rect x="307.36" y="260.27" width="5.13" height="2.87" fill="#6a6b72" rx="0.5"/>
<rect x="328.55" y="255.91" width="5.52" height="2.05" fill="#1c1d20" rx="0.5"/>
<rect x="288.9" y="266.74" width="1.83" height="2.15" fill="#26272b" rx="0.5"/>
<rect x="352.24" y="244.05" width="2.2" height="3.43" fill="#5a5b62" rx="0.5"/>
<circle cx="323.91" cy="258.45" r="1" fill="#5a5b62"/>
<circle cx="317.38" cy="246.33" r="1.38" fill="#6a6b72"/>
<rect x="330.27" y="268.09" width="3.15" height="2.41" fill="#1c1d20" rx="0.5"/>
<rect x="287.87" y="279.92" width="4.31" height="2.88" fill="#5a5b62" rx="0.5"/>
<rect x="285.28" y="271.41" width="1.97" height="2.22" fill="#6a6b72" rx="0.5"/>
<circle cx="352.93" cy="277.83" r="2.08" fill="#1c1d20"/>
<rect x="355.37" y="241.8" width="5.64" height="3.04" fill="#26272b" rx="0.5"/>
<rect x="310" y="238.71" width="2.33" height="3.92" fill="#26272b" rx="0.5"/>
<circle cx="288.2" cy="274.32" r="0.75" fill="#1c1d20"/>
<rect x="378.05" y="264.54" width="5.97" height="2.63" fill="#26272b" rx="0.5"/>
<rect x="298.39" y="240.17" width="2.57" height="1.8" fill="#5a5b62" rx="0.5"/>
<circle cx="302.99" cy="256.96" r="1.73" fill="#5a5b62"/>
<rect x="284.93" y="238.77" width="5.12" height="4.19" fill="#303136" rx="0.5"/>
<rect x="381.78" y="242.53" width="2.35" height="2.78" fill="#1c1d20" rx="0.5"/>
<rect x="384.84" y="250.94" width="3.96" height="3.9" fill="#5a5b62" rx="0.5"/>
<rect x="356.96" y="264.79" width="3.04" height="3.75" fill="#1c1d20" rx="0.5"/>
<rect x="282.51" y="264.34" width="5.92" height="3.76" fill="#6a6b72" rx="0.5"/>
<rect x="322.18" y="259.43" width="1.75" height="3.3" fill="#6a6b72" rx="0.5"/>
<circle cx="300.78" cy="249.62" r="1.85" fill="#26272b"/>
<circle cx="339.04" cy="248.25" r="2.33" fill="#6a6b72"/>
<circle cx="290.05" cy="249.94" r="0.93" fill="#5a5b62"/>
<circle cx="368.02" cy="244.2" r="2" fill="#303136"/>
<rect x="306.19" y="263.09" width="1.6" height="2.32" fill="#303136" rx="0.5"/>
<rect x="365.6" y="263.08" width="2.2" height="3.91" fill="#6a6b72" rx="0.5"/>
<rect x="347.29" y="244.21" width="3.72" height="2.27" fill="#303136" rx="0.5"/>
<rect x="295.85" y="260.08" width="4.8" height="3.69" fill="#303136" rx="0.5"/>
<circle cx="354.05" cy="272.49" r="2.06" fill="#5a5b62"/>
</g>
<polyline points="299,217.5 302,243" fill="none" stroke="#3a3b40" stroke-width="1.6"/>
<polyline points="299,217.5 304,220 307,243" fill="none" stroke="#3a3b40" stroke-width="1.4"/>
<line x1="300" y1="226" x2="306" y2="228" stroke="#3a3b40" stroke-width="1.2"/>
<line x1="301" y1="233" x2="308" y2="234" stroke="#3a3b40" stroke-width="1.2"/>
<ellipse cx="352" cy="232.5" rx="9.5" ry="12.5" fill="#2c2d31"/>
<ellipse cx="352" cy="232.5" rx="8.6" ry="11.6" fill="#4a4b51"/>
<ellipse cx="352" cy="232.5" rx="8.6" ry="11.6" fill="none" stroke="#5e5f66" stroke-width="0.9" opacity="0.8"/>
<ellipse cx="358.17" cy="233.93" rx="1.14" ry="1.5" fill="#1f2023" opacity="0.9"/>
<ellipse cx="355.6" cy="239.26" rx="1.14" ry="1.5" fill="#1f2023" opacity="0.9"/>
<ellipse cx="350.91" cy="240.62" rx="1.14" ry="1.5" fill="#1f2023" opacity="0.9"/>
<ellipse cx="346.86" cy="237.23" rx="1.14" ry="1.5" fill="#1f2023" opacity="0.9"/>
<ellipse cx="345.83" cy="231.07" rx="1.14" ry="1.5" fill="#1f2023" opacity="0.9"/>
<ellipse cx="348.4" cy="225.74" rx="1.14" ry="1.5" fill="#1f2023" opacity="0.9"/>
<ellipse cx="353.09" cy="224.38" rx="1.14" ry="1.5" fill="#1f2023" opacity="0.9"/>
<ellipse cx="357.14" cy="227.77" rx="1.14" ry="1.5" fill="#1f2023" opacity="0.9"/>
<ellipse cx="352" cy="232.5" rx="3.42" ry="4.5" fill="#2a2b2f"/>
<ellipse cx="352" cy="232.5" rx="1.71" ry="2.25" fill="#5a5b62"/>
<ellipse cx="325.4" cy="228.6" rx="17.6" ry="16" fill="#2c2d31"/>
<ellipse cx="325.4" cy="228.6" rx="16.7" ry="15.1" fill="#4a4b51"/>
<ellipse cx="325.4" cy="228.6" rx="16.7" ry="15.1" fill="none" stroke="#5e5f66" stroke-width="0.9" opacity="0.8"/>
<ellipse cx="336.84" cy="230.43" rx="2.11" ry="1.92" fill="#1f2023" opacity="0.9"/>
<ellipse cx="332.06" cy="237.25" rx="2.11" ry="1.92" fill="#1f2023" opacity="0.9"/>
<ellipse cx="323.38" cy="239" rx="2.11" ry="1.92" fill="#1f2023" opacity="0.9"/>
<ellipse cx="315.88" cy="234.66" rx="2.11" ry="1.92" fill="#1f2023" opacity="0.9"/>
<ellipse cx="313.96" cy="226.77" rx="2.11" ry="1.92" fill="#1f2023" opacity="0.9"/>
<ellipse cx="318.74" cy="219.95" rx="2.11" ry="1.92" fill="#1f2023" opacity="0.9"/>
<ellipse cx="327.42" cy="218.2" rx="2.11" ry="1.92" fill="#1f2023" opacity="0.9"/>
<ellipse cx="334.92" cy="222.54" rx="2.11" ry="1.92" fill="#1f2023" opacity="0.9"/>
<ellipse cx="325.4" cy="228.6" rx="6.34" ry="5.76" fill="#2a2b2f"/>
<ellipse cx="325.4" cy="228.6" rx="3.17" ry="2.88" fill="#5a5b62"/>
<polygon points="324,228 328,228 342,250 316,250 319,240" fill="#3d3e44"/>
<line x1="326" y1="229" x2="316" y2="250" stroke="#4a4b52" stroke-width="2"/>
<line x1="326" y1="229" x2="341" y2="249" stroke="#4a4b52" stroke-width="2"/>
<rect x="350.5" y="241" width="24" height="14.5" fill="#4b4c53"/>
<rect x="362" y="243" width="12.5" height="11" fill="#3a3b41"/>
<polygon points="360.5,196 365,196 367,210 385,266 381.5,267 364,214 361,210" fill="#3c3d43"/>
<rect x="380" y="265" width="8" height="5" fill="#303136"/>
<rect x="284" y="268" width="78" height="32" fill="#232326"/>
<ellipse cx="332.3" cy="297.2" rx="32.6" ry="31.5" fill="#2e2e31"/>
<ellipse cx="332.3" cy="297.2" rx="30.1" ry="29" fill="none" stroke="#3d3d41" stroke-width="2.5" stroke-dasharray="1.4 1.6"/>
<ellipse cx="320.3" cy="298.7" rx="33.1" ry="32" fill="url(#g6)"/>
<ellipse cx="320.3" cy="298.7" rx="30.7" ry="29.6" fill="none" stroke="#6a6a6f" stroke-width="3.6" stroke-dasharray="1.5 1.5" opacity="0.5"/>
<ellipse cx="320.3" cy="298.7" rx="27.5" ry="26.4" fill="none" stroke="#37373b" stroke-width="0.9" opacity="0.6"/>
<ellipse cx="320.3" cy="298.7" rx="21.85" ry="21.12" fill="#5c5d63"/>
<ellipse cx="320.3" cy="298.7" rx="19.36" ry="18.72" fill="#36373c"/>
<ellipse cx="320.3" cy="298.7" rx="17.21" ry="16.64" fill="#494a51"/>
<ellipse cx="331.49" cy="301.6" rx="4.14" ry="4" fill="#1b1c1f"/>
<ellipse cx="323.3" cy="309.52" rx="4.14" ry="4" fill="#1b1c1f"/>
<ellipse cx="312.11" cy="306.62" rx="4.14" ry="4" fill="#1b1c1f"/>
<ellipse cx="309.11" cy="295.8" rx="4.14" ry="4" fill="#1b1c1f"/>
<ellipse cx="317.3" cy="287.88" rx="4.14" ry="4" fill="#1b1c1f"/>
<ellipse cx="328.49" cy="290.78" rx="4.14" ry="4" fill="#1b1c1f"/>
<ellipse cx="320.3" cy="298.7" rx="6.29" ry="6.08" fill="#5c5d64"/>
<ellipse cx="320.3" cy="298.7" rx="2.65" ry="2.56" fill="#6e6f77"/>
<path d="M269.5,301.5 C270.08,299.42 271.25,293 273,289 C274.75,285 276.33,281.83 280,277.5 C283.67,273.17 288,266.8 295,263 C302,259.2 314.33,255.53 322,254.7 C329.67,253.87 335.5,256.12 341,258 C346.5,259.88 351.17,262.5 355,266 C358.83,269.5 361.67,274.83 364,279 C366.33,283.17 367.33,287.42 369,291 C370.67,294.58 373.17,298.92 374,300.5 L362,301 C361.5,299.5 360.17,295 359,292 C357.83,289 356.92,286.33 355,283 C353.08,279.67 350.5,274.75 347.5,272 C344.5,269.25 341.25,267.83 337,266.5 C332.75,265.17 328,263.5 322,264 C316,264.5 306.75,266.17 301,269.5 C295.25,272.83 290.33,280.25 287.5,284 C284.67,287.75 284.92,289.17 284,292 C283.08,294.83 282.33,299.5 282,301 Z" fill="url(#g7)"/>
<path d="M271.5,300 C272.08,298 273.25,291.75 275,288 C276.75,284.25 278.5,281.42 282,277.5 C285.5,273.58 289.33,268 296,264.5 C302.67,261 314.5,257.33 322,256.5 C329.5,255.67 337.83,259 341,259.5 " fill="none" stroke="#8a8c99" stroke-width="1.2" opacity="0.7"/>
<path d="M283,300.5 C283.33,299.08 284.08,294.67 285,292 C285.92,289.33 285.67,288.08 288.5,284.5 C291.33,280.92 296.42,273.75 302,270.5 C307.58,267.25 316.17,265.5 322,265 C327.83,264.5 332.83,266.17 337,267.5 C341.17,268.83 344.08,270.25 347,273 C349.92,275.75 352.58,280.67 354.5,284 C356.42,287.33 357.42,290.25 358.5,293 C359.58,295.75 360.58,299.25 361,300.5 " fill="none" stroke="#3a3b42" stroke-width="1.6" opacity="0.8"/>
<polygon points="572,268 574,250 580,243 592,240 600,236 640,236 648,246 656,252 660,262 664,272 664,282 572,284" fill="#45464c"/>
<g clip-path="url(#c2)" opacity="0.8">
<rect x="659.47" y="253.47" width="1.69" height="3.22" fill="#1c1d20" rx="0.5"/>
<rect x="633.15" y="258.71" width="4.32" height="3.19" fill="#26272b" rx="0.5"/>
<circle cx="653.79" cy="240.23" r="0.73" fill="#303136"/>
<circle cx="578.67" cy="248.46" r="1.93" fill="#5a5b62"/>
<rect x="647.92" y="239.58" width="4.42" height="2.74" fill="#6a6b72" rx="0.5"/>
<rect x="578.96" y="242.84" width="4.28" height="3.24" fill="#6a6b72" rx="0.5"/>
<circle cx="583.97" cy="258.39" r="1.85" fill="#1c1d20"/>
<circle cx="632.64" cy="249.47" r="1.81" fill="#303136"/>
<rect x="661.6" y="261.38" width="3.6" height="3.57" fill="#6a6b72" rx="0.5"/>
<rect x="612.91" y="274.72" width="5.71" height="1.55" fill="#1c1d20" rx="0.5"/>
<circle cx="656.1" cy="239.43" r="1.3" fill="#26272b"/>
<circle cx="583.94" cy="273.7" r="1.54" fill="#303136"/>
<circle cx="617.31" cy="276.97" r="0.8" fill="#1c1d20"/>
<rect x="613.13" y="250.07" width="1.52" height="2.83" fill="#5a5b62" rx="0.5"/>
<rect x="601.95" y="251.28" width="3.19" height="1.83" fill="#6a6b72" rx="0.5"/>
<circle cx="636.87" cy="277.47" r="0.82" fill="#6a6b72"/>
<rect x="651.26" y="239.57" width="1.79" height="2.55" fill="#1c1d20" rx="0.5"/>
<circle cx="576.61" cy="267.03" r="2.14" fill="#5a5b62"/>
<rect x="589.21" y="253.38" width="2.7" height="2.88" fill="#1c1d20" rx="0.5"/>
<circle cx="653.68" cy="279.65" r="2.06" fill="#303136"/>
<rect x="609.42" y="264.28" width="1.86" height="4.02" fill="#5a5b62" rx="0.5"/>
<rect x="655.97" y="242.01" width="2.79" height="1.63" fill="#1c1d20" rx="0.5"/>
<rect x="638.94" y="266.62" width="2.77" height="2.19" fill="#1c1d20" rx="0.5"/>
<circle cx="607.72" cy="243.78" r="1.14" fill="#5a5b62"/>
<rect x="621.6" y="256.91" width="3.75" height="3.69" fill="#6a6b72" rx="0.5"/>
<rect x="589.36" y="240.27" width="3.52" height="1.88" fill="#6a6b72" rx="0.5"/>
<rect x="645.27" y="245.45" width="2.94" height="2.49" fill="#26272b" rx="0.5"/>
<rect x="619.34" y="253.6" width="3.36" height="2.62" fill="#6a6b72" rx="0.5"/>
<rect x="604.46" y="267.92" width="3.74" height="3.05" fill="#303136" rx="0.5"/>
<rect x="596.2" y="247.67" width="5.38" height="2.08" fill="#1c1d20" rx="0.5"/>
<circle cx="645.52" cy="281.33" r="1.38" fill="#5a5b62"/>
<circle cx="614.43" cy="263.03" r="1.88" fill="#26272b"/>
<circle cx="619.06" cy="257.53" r="2.27" fill="#1c1d20"/>
<circle cx="619.54" cy="268.09" r="0.8" fill="#1c1d20"/>
<rect x="583.25" y="262.9" width="5" height="1.5" fill="#26272b" rx="0.5"/>
<circle cx="594.8" cy="265.95" r="1.15" fill="#26272b"/>
<circle cx="589.36" cy="247.99" r="1.14" fill="#303136"/>
<rect x="597.09" y="250.52" width="3.92" height="4.19" fill="#5a5b62" rx="0.5"/>
<circle cx="659.15" cy="269.06" r="1.02" fill="#6a6b72"/>
<rect x="630.77" y="239.73" width="2.37" height="3.89" fill="#5a5b62" rx="0.5"/>
<rect x="575.04" y="251.87" width="5.66" height="2.11" fill="#1c1d20" rx="0.5"/>
<circle cx="598.39" cy="275.93" r="1.31" fill="#26272b"/>
<circle cx="645.04" cy="246.81" r="2.35" fill="#5a5b62"/>
<rect x="627.66" y="264.74" width="5.5" height="1.79" fill="#5a5b62" rx="0.5"/>
<circle cx="625.06" cy="279.49" r="2.24" fill="#26272b"/>
<rect x="576.62" y="238.83" width="5.88" height="1.88" fill="#1c1d20" rx="0.5"/>
<rect x="582.15" y="239.72" width="4.7" height="2.35" fill="#5a5b62" rx="0.5"/>
<rect x="639.79" y="237.47" width="2.33" height="4.03" fill="#1c1d20" rx="0.5"/>
<rect x="581.7" y="239.65" width="5.93" height="2.69" fill="#26272b" rx="0.5"/>
<rect x="657.92" y="245.77" width="5.8" height="1.83" fill="#6a6b72" rx="0.5"/>
<rect x="579.95" y="268.56" width="2.89" height="3.67" fill="#5a5b62" rx="0.5"/>
<rect x="604.48" y="278.15" width="5.64" height="2.02" fill="#26272b" rx="0.5"/>
<circle cx="608.71" cy="253.43" r="1.05" fill="#1c1d20"/>
<rect x="638.64" y="278.14" width="5.64" height="2.19" fill="#6a6b72" rx="0.5"/>
<rect x="575.94" y="270.31" width="3.01" height="4.08" fill="#6a6b72" rx="0.5"/>
<circle cx="625.95" cy="273.28" r="1.14" fill="#26272b"/>
<rect x="658.8" y="280.46" width="2.55" height="2.78" fill="#1c1d20" rx="0.5"/>
<rect x="583.84" y="258.92" width="5.61" height="3.7" fill="#26272b" rx="0.5"/>
<rect x="641.23" y="264.02" width="4.82" height="3.72" fill="#6a6b72" rx="0.5"/>
<rect x="625.74" y="259.64" width="3.57" height="3.62" fill="#1c1d20" rx="0.5"/>
<circle cx="575.07" cy="262.06" r="1.05" fill="#6a6b72"/>
<circle cx="578.52" cy="265.42" r="1.37" fill="#5a5b62"/>
<rect x="612.28" y="246.84" width="3.74" height="3.42" fill="#1c1d20" rx="0.5"/>
<rect x="620.06" y="272.32" width="5.51" height="2.13" fill="#26272b" rx="0.5"/>
<circle cx="596.25" cy="247.91" r="1.13" fill="#6a6b72"/>
<circle cx="585.91" cy="277.48" r="1.05" fill="#303136"/>
<rect x="594.41" y="260.69" width="1.79" height="2.18" fill="#26272b" rx="0.5"/>
<rect x="614.26" y="274.59" width="5.96" height="1.78" fill="#1c1d20" rx="0.5"/>
<circle cx="582.87" cy="244.88" r="0.67" fill="#303136"/>
<circle cx="588.19" cy="264.08" r="0.74" fill="#26272b"/>
<circle cx="591.57" cy="253.11" r="1.67" fill="#5a5b62"/>
<rect x="637.17" y="279.14" width="6" height="1.6" fill="#26272b" rx="0.5"/>
<rect x="628.1" y="239.64" width="3.34" height="2.5" fill="#26272b" rx="0.5"/>
<circle cx="581.13" cy="254.64" r="1.59" fill="#303136"/>
<rect x="607.82" y="248.57" width="3.9" height="3.26" fill="#6a6b72" rx="0.5"/>
<rect x="639.31" y="277.69" width="3.38" height="1.64" fill="#1c1d20" rx="0.5"/>
<circle cx="604.49" cy="245.05" r="2.16" fill="#1c1d20"/>
<rect x="610.66" y="273.76" width="1.53" height="3.93" fill="#1c1d20" rx="0.5"/>
<rect x="583.75" y="238.39" width="3.14" height="3.59" fill="#5a5b62" rx="0.5"/>
<circle cx="627.5" cy="253.48" r="2.24" fill="#303136"/>
</g>
<ellipse cx="598" cy="231.5" rx="12" ry="11.5" fill="#2c2d31"/>
<ellipse cx="598" cy="231.5" rx="11.1" ry="10.6" fill="#4a4b51"/>
<ellipse cx="598" cy="231.5" rx="11.1" ry="10.6" fill="none" stroke="#5e5f66" stroke-width="0.9" opacity="0.8"/>
<ellipse cx="605.8" cy="232.82" rx="1.44" ry="1.38" fill="#1f2023" opacity="0.9"/>
<ellipse cx="602.54" cy="237.72" rx="1.44" ry="1.38" fill="#1f2023" opacity="0.9"/>
<ellipse cx="596.62" cy="238.97" rx="1.44" ry="1.38" fill="#1f2023" opacity="0.9"/>
<ellipse cx="591.51" cy="235.85" rx="1.44" ry="1.38" fill="#1f2023" opacity="0.9"/>
<ellipse cx="590.2" cy="230.18" rx="1.44" ry="1.38" fill="#1f2023" opacity="0.9"/>
<ellipse cx="593.46" cy="225.28" rx="1.44" ry="1.38" fill="#1f2023" opacity="0.9"/>
<ellipse cx="599.38" cy="224.03" rx="1.44" ry="1.38" fill="#1f2023" opacity="0.9"/>
<ellipse cx="604.49" cy="227.15" rx="1.44" ry="1.38" fill="#1f2023" opacity="0.9"/>
<ellipse cx="598" cy="231.5" rx="4.32" ry="4.14" fill="#2a2b2f"/>
<ellipse cx="598" cy="231.5" rx="2.16" ry="2.07" fill="#5a5b62"/>
<ellipse cx="624" cy="232" rx="15.5" ry="15.5" fill="#2c2d31"/>
<ellipse cx="624" cy="232" rx="14.6" ry="14.6" fill="#4a4b51"/>
<ellipse cx="624" cy="232" rx="14.6" ry="14.6" fill="none" stroke="#5e5f66" stroke-width="0.9" opacity="0.8"/>
<ellipse cx="634.07" cy="233.78" rx="1.86" ry="1.86" fill="#1f2023" opacity="0.9"/>
<ellipse cx="629.87" cy="240.38" rx="1.86" ry="1.86" fill="#1f2023" opacity="0.9"/>
<ellipse cx="622.22" cy="242.07" rx="1.86" ry="1.86" fill="#1f2023" opacity="0.9"/>
<ellipse cx="615.62" cy="237.87" rx="1.86" ry="1.86" fill="#1f2023" opacity="0.9"/>
<ellipse cx="613.93" cy="230.22" rx="1.86" ry="1.86" fill="#1f2023" opacity="0.9"/>
<ellipse cx="618.13" cy="223.62" rx="1.86" ry="1.86" fill="#1f2023" opacity="0.9"/>
<ellipse cx="625.78" cy="221.93" rx="1.86" ry="1.86" fill="#1f2023" opacity="0.9"/>
<ellipse cx="632.38" cy="226.13" rx="1.86" ry="1.86" fill="#1f2023" opacity="0.9"/>
<ellipse cx="624" cy="232" rx="5.58" ry="5.58" fill="#2a2b2f"/>
<ellipse cx="624" cy="232" rx="2.79" ry="2.79" fill="#5a5b62"/>
<polygon points="622,231 626,231 638,252 612,252" fill="#3a3b41"/>
<line x1="624" y1="232" x2="613" y2="252" stroke="#4a4b52" stroke-width="2"/>
<line x1="624" y1="232" x2="637" y2="251" stroke="#4a4b52" stroke-width="2"/>
<rect x="597" y="253.4" width="59" height="5.2" fill="#7a5c46" rx="1"/>
<rect x="597" y="253.8" width="59" height="1.4" fill="#94745a" rx="0.5"/>
<rect x="567.5" y="243" width="15.5" height="12.5" fill="#3a3b41"/>
<rect x="582" y="243.5" width="17" height="10.5" fill="#5a5b63"/>
<polyline points="669,251 664,262" fill="none" stroke="#2e2f33" stroke-width="1.8"/>
<rect x="669" y="258" width="5.5" height="6" fill="#34353a" rx="1"/>
<rect x="668" y="269" width="8" height="4" fill="#2c2d31" rx="1"/>
<rect x="656" y="258" width="10" height="14" fill="#303136"/>
<rect x="574" y="268" width="94" height="32" fill="#232326"/>
<ellipse cx="618" cy="297.9" rx="31.8" ry="31.3" fill="#2e2e31"/>
<ellipse cx="618" cy="297.9" rx="29.3" ry="28.8" fill="none" stroke="#3d3d41" stroke-width="2.5" stroke-dasharray="1.4 1.6"/>
<ellipse cx="630" cy="299.4" rx="32.3" ry="31.8" fill="url(#g8)"/>
<ellipse cx="630" cy="299.4" rx="29.9" ry="29.4" fill="none" stroke="#6a6a6f" stroke-width="3.6" stroke-dasharray="1.5 1.5" opacity="0.5"/>
<ellipse cx="630" cy="299.4" rx="26.7" ry="26.2" fill="none" stroke="#37373b" stroke-width="0.9" opacity="0.6"/>
<ellipse cx="630" cy="299.4" rx="21.32" ry="20.99" fill="#5c5d63"/>
<ellipse cx="630" cy="299.4" rx="18.9" ry="18.6" fill="#36373c"/>
<ellipse cx="630" cy="299.4" rx="16.8" ry="16.54" fill="#494a51"/>
<ellipse cx="640.92" cy="302.28" rx="4.04" ry="3.98" fill="#1b1c1f"/>
<ellipse cx="632.93" cy="310.15" rx="4.04" ry="3.98" fill="#1b1c1f"/>
<ellipse cx="622.01" cy="307.27" rx="4.04" ry="3.98" fill="#1b1c1f"/>
<ellipse cx="619.08" cy="296.52" rx="4.04" ry="3.98" fill="#1b1c1f"/>
<ellipse cx="627.07" cy="288.65" rx="4.04" ry="3.98" fill="#1b1c1f"/>
<ellipse cx="637.99" cy="291.53" rx="4.04" ry="3.98" fill="#1b1c1f"/>
<ellipse cx="630" cy="299.4" rx="6.14" ry="6.04" fill="#5c5d64"/>
<ellipse cx="630" cy="299.4" rx="2.58" ry="2.54" fill="#6e6f77"/>
<path d="M577.3,303.5 C578.17,300.25 579.63,289.5 582.5,284 C585.37,278.5 589.5,274.25 594.5,270.5 C599.5,266.75 606.25,263.38 612.5,261.5 C618.75,259.62 625.75,258.95 632,259.2 C638.25,259.45 644.5,260.37 650,263 C655.5,265.63 660.75,270.25 665,275 C669.25,279.75 673.12,286.7 675.5,291.5 C677.88,296.3 678.67,301.75 679.3,303.8 L668,303.8 C667.5,302 666.75,297.05 665,293 C663.25,288.95 660.75,283.25 657.5,279.5 C654.25,275.75 649.75,272.5 645.5,270.5 C641.25,268.5 636.75,267.63 632,267.5 C627.25,267.37 621.5,268.2 617,269.7 C612.5,271.2 608.5,273.12 605,276.5 C601.5,279.88 598.12,285.5 596,290 C593.88,294.5 592.92,301.25 592.3,303.5 Z" fill="url(#g9)"/>
<path d="M579,302 C579.83,299.1 581.25,289.67 584,284.6 C586.75,279.53 590.67,275.2 595.5,271.6 C600.33,268 606.92,264.82 613,263 C619.08,261.18 625.83,260.45 632,260.7 C638.17,260.95 647,263.87 650,264.5 " fill="none" stroke="#8a8c99" stroke-width="1.2" opacity="0.6"/>
<path d="M593.3,303 C593.92,300.92 594.88,294.78 597,290.5 C599.12,286.22 602.58,280.6 606,277.3 C609.42,274 613.17,272.17 617.5,270.7 C621.83,269.23 627.42,268.37 632,268.5 C636.58,268.63 640.88,269.53 645,271.5 C649.12,273.47 653.53,276.63 656.7,280.3 C659.87,283.97 662.28,289.63 664,293.5 C665.72,297.37 666.5,301.83 667,303.5 " fill="none" stroke="#35363c" stroke-width="1.6" opacity="0.8"/>
<polygon points="670,296 677.5,296 679.3,303.8 669,303.8" fill="#6b5348" opacity="0.7"/>
<polygon points="673,279.5 682,280 690,281.5 760,283.6 764,283 769,283.2 771,284.6 781.5,285.2 781.5,286.6 771,287.2 769,288.4 764,288.6 760,288 690,287.5 682,289.5 676,294 673,290" fill="#2b2c30"/>
<rect x="216" y="184.6" width="8.5" height="8.9" fill="#777880" rx="1.5"/>
<rect x="223.6" y="184.6" width="93.9" height="8.9" fill="#3f4047"/>
<g opacity="1.0">
<rect x="224.3" y="184.6" width="2.97" height="8.9" fill="#f6f6f8"/>
<rect x="229.25" y="184.6" width="2.97" height="8.9" fill="#f6f6f8"/>
<rect x="234.2" y="184.6" width="2.97" height="8.9" fill="#f6f6f8"/>
<rect x="239.15" y="184.6" width="2.97" height="8.9" fill="#f6f6f8"/>
<rect x="244.1" y="184.6" width="2.97" height="8.9" fill="#f6f6f8"/>
<rect x="249.05" y="184.6" width="2.97" height="8.9" fill="#f6f6f8"/>
<rect x="254" y="184.6" width="2.97" height="8.9" fill="#f6f6f8"/>
<rect x="258.95" y="184.6" width="2.97" height="8.9" fill="#f6f6f8"/>
<rect x="263.9" y="184.6" width="2.97" height="8.9" fill="#f6f6f8"/>
<rect x="268.85" y="184.6" width="2.97" height="8.9" fill="#f6f6f8"/>
<rect x="273.8" y="184.6" width="2.97" height="8.9" fill="#f6f6f8"/>
<rect x="278.75" y="184.6" width="2.97" height="8.9" fill="#f6f6f8"/>
<rect x="283.7" y="184.6" width="2.97" height="8.9" fill="#f6f6f8"/>
<rect x="288.65" y="184.6" width="2.97" height="8.9" fill="#f6f6f8"/>
<rect x="293.6" y="184.6" width="2.97" height="8.9" fill="#f6f6f8"/>
<rect x="298.55" y="184.6" width="2.97" height="8.9" fill="#f6f6f8"/>
<rect x="303.5" y="184.6" width="2.97" height="8.9" fill="#f6f6f8"/>
<rect x="308.45" y="184.6" width="2.97" height="8.9" fill="#f6f6f8"/>
<rect x="313.4" y="184.6" width="2.97" height="8.9" fill="#f6f6f8"/>
</g>
<rect x="224.3" y="184.8" width="92.7" height="2.8" fill="#ffffff" opacity="0.45"/>
<rect x="216" y="184.6" width="101.5" height="8.9" fill="url(#g11)"/>
<polygon points="317,184.6 327,180.6 346,180.6 346,195.8 327,195.8 317,193.5" fill="url(#g1)"/>
<rect x="346" y="181.8" width="14.5" height="12.8" fill="url(#g1)"/>
<rect x="360" y="180" width="5.4" height="15.8" fill="#3a3b41" rx="1"/>
<rect x="365.4" y="181.2" width="36.6" height="14.1" fill="#d3cc3e"/>
<g opacity="1.0">
<polygon points="368.8,181.2 370.98,181.2 369.98,195.3 367.8,195.3" fill="#4e4d2c"/>
<polygon points="374,181.2 376.18,181.2 375.18,195.3 373,195.3" fill="#4e4d2c"/>
<polygon points="379.2,181.2 381.38,181.2 380.38,195.3 378.2,195.3" fill="#4e4d2c"/>
<polygon points="384.4,181.2 386.58,181.2 385.58,195.3 383.4,195.3" fill="#4e4d2c"/>
<polygon points="389.6,181.2 391.78,181.2 390.78,195.3 388.6,195.3" fill="#4e4d2c"/>
<polygon points="394.8,181.2 396.98,181.2 395.98,195.3 393.8,195.3" fill="#4e4d2c"/>
<polygon points="400,181.2 402.18,181.2 401.18,195.3 399,195.3" fill="#4e4d2c"/>
</g>
<rect x="365.4" y="181.2" width="36.6" height="14.1" fill="url(#g13)"/>
<rect x="384" y="201.5" width="20" height="9" fill="url(#g3)" rx="2"/>
<rect x="377" y="211.5" width="27" height="12.5" fill="url(#g1)" rx="3"/>
<rect x="377" y="211.5" width="5" height="12.5" fill="#4a4b52" rx="2"/>
<g transform="translate(400,135) scale(0.15)">
<polygon points="335,400 640,400 640,540 700,760 740,870 760,960 640,1000 340,1000 355,900" fill="#3a3b41"/>
<g clip-path="url(#c3)" opacity="0.8">
<rect x="405.99" y="439.75" width="23.48" height="15.16" fill="#1c1d20" rx="0.5"/>
<rect x="415.07" y="474.04" width="38.56" height="30.85" fill="#26272b" rx="0.5"/>
<rect x="715.69" y="630.21" width="27.93" height="13.04" fill="#4a4b52" rx="0.5"/>
<circle cx="583.88" cy="515.3" r="16.11" fill="#1c1d20"/>
<circle cx="550.13" cy="626.35" r="7.68" fill="#26272b"/>
<rect x="412.61" y="917.99" width="44.03" height="27.91" fill="#26272b" rx="0.5"/>
<rect x="523.51" y="901.08" width="22.7" height="19.6" fill="#5c5d65" rx="0.5"/>
<circle cx="496.1" cy="617.37" r="8.87" fill="#1c1d20"/>
<rect x="529.92" y="661.11" width="12.12" height="31.23" fill="#1c1d20" rx="0.5"/>
<circle cx="362.23" cy="611.59" r="15.5" fill="#5c5d65"/>
<rect x="351.78" y="774.88" width="26.58" height="21.95" fill="#26272b" rx="0.5"/>
<rect x="368.09" y="841.44" width="22.35" height="26.05" fill="#1c1d20" rx="0.5"/>
<circle cx="361.95" cy="764.63" r="15.15" fill="#26272b"/>
<rect x="720.34" y="939.74" width="44.4" height="21.59" fill="#4a4b52" rx="0.5"/>
<circle cx="674.13" cy="761.29" r="14.32" fill="#5c5d65"/>
<circle cx="664.68" cy="484.9" r="16.63" fill="#1c1d20"/>
<rect x="467.31" y="421.7" width="20.67" height="21.87" fill="#4a4b52" rx="0.5"/>
<circle cx="468.92" cy="622.82" r="13.2" fill="#5c5d65"/>
<circle cx="482.6" cy="913.12" r="11.81" fill="#26272b"/>
<rect x="637.67" y="617.55" width="29.68" height="28.7" fill="#1c1d20" rx="0.5"/>
<rect x="648.1" y="661.16" width="31.05" height="19.02" fill="#4a4b52" rx="0.5"/>
<rect x="543.09" y="583.29" width="43.61" height="17.78" fill="#5c5d65" rx="0.5"/>
<rect x="453.33" y="770.27" width="36.65" height="16.32" fill="#1c1d20" rx="0.5"/>
<circle cx="426.86" cy="787.11" r="16.62" fill="#26272b"/>
<rect x="549.28" y="715.68" width="30.71" height="17.92" fill="#1c1d20" rx="0.5"/>
<circle cx="590.36" cy="681.15" r="12.58" fill="#4a4b52"/>
<rect x="517.95" y="437.38" width="38.45" height="25.8" fill="#4a4b52" rx="0.5"/>
<rect x="442.31" y="406.78" width="37.81" height="19.84" fill="#5c5d65" rx="0.5"/>
<rect x="546.93" y="689.86" width="31.09" height="23.74" fill="#4a4b52" rx="0.5"/>
<rect x="504.81" y="539.94" width="13.45" height="22.36" fill="#26272b" rx="0.5"/>
<circle cx="609.06" cy="515.99" r="6.18" fill="#1c1d20"/>
<rect x="597.38" y="879.13" width="32.07" height="21.89" fill="#4a4b52" rx="0.5"/>
<rect x="750.47" y="825.82" width="14.1" height="24.21" fill="#1c1d20" rx="0.5"/>
<circle cx="647.16" cy="672.54" r="4.88" fill="#1c1d20"/>
<rect x="594.25" y="472.91" width="44.89" height="17.1" fill="#5c5d65" rx="0.5"/>
<circle cx="515.79" cy="864.08" r="8.31" fill="#5c5d65"/>
<circle cx="369.48" cy="696.99" r="17.06" fill="#4a4b52"/>
<circle cx="727.15" cy="837.8" r="7.92" fill="#5c5d65"/>
<rect x="491.56" y="901.05" width="24.83" height="23.72" fill="#1c1d20" rx="0.5"/>
<rect x="345.88" y="967.62" width="29.51" height="12.12" fill="#4a4b52" rx="0.5"/>
</g>
<rect x="438" y="278" width="40" height="132" fill="#47484e"/>
<rect x="65" y="195" width="510" height="81" fill="url(#g2)" rx="14"/>
<rect x="65" y="195" width="35" height="81" fill="#46474d" rx="14"/>
<rect x="170" y="188" width="20" height="94" fill="#50515a"/>
<circle cx="255" cy="236" r="13" fill="#b8b9c0"/>
<rect x="0" y="279" width="445" height="17" fill="#34353a"/>
<rect x="0" y="305" width="445" height="97" fill="url(#g1)"/>
<rect x="28" y="402" width="197" height="95" fill="#44454b"/>
<rect x="0" y="440" width="40" height="57" fill="#3c3d43"/>
<rect x="-30" y="495" width="244" height="93" fill="url(#g1)" rx="10"/>
<rect x="172" y="608" width="40" height="97" fill="#777884"/>
<rect x="410" y="540" width="62" height="242" fill="url(#g14)"/>
<rect x="553" y="540" width="69" height="242" fill="url(#g15)"/>
<rect x="420" y="782" width="45" height="58" fill="#4a4b52"/>
<rect x="560" y="782" width="52" height="68" fill="#4a4b52"/>
<rect x="470" y="270" width="81" height="825" fill="url(#g16)"/>
<rect x="470" y="270" width="81" height="825" fill="url(#g17)" opacity="0.10"/>
<circle cx="510" cy="342" r="14" fill="#26272b"/>
<rect x="455" y="190" width="110" height="92" fill="#4f5057" rx="8"/>
<rect x="470" y="200" width="80" height="70" fill="#5c5d64" rx="4"/>
<rect x="570" y="176" width="160" height="110" fill="#64656d" rx="5"/>
<rect x="585" y="196" width="127" height="76" fill="#55565d" rx="3"/>
<rect x="570" y="176" width="160" height="14" fill="#4c4d54" rx="4"/>
<polygon points="730,220 790,232 840,250 850,292 730,292" fill="#3a3b41"/>
<polygon points="560,288 850,296 955,318 962,528 885,546 640,540 598,500 560,478" fill="#3f4046"/>
<g clip-path="url(#c4)" opacity="0.8">
<circle cx="804.31" cy="307.54" r="7.69" fill="#55565e"/>
<rect x="928.42" y="374.92" width="10.81" height="11.92" fill="#55565e" rx="0.5"/>
<rect x="815.19" y="298.74" width="10.93" height="12.49" fill="#2a2b2f" rx="0.5"/>
<rect x="703.91" y="490.5" width="11.97" height="20.63" fill="#2a2b2f" rx="0.5"/>
<circle cx="708.03" cy="348.81" r="13.07" fill="#55565e"/>
<rect x="881.95" y="443.61" width="11.03" height="25.26" fill="#606169" rx="0.5"/>
<rect x="815.3" y="360.4" width="13.98" height="24.26" fill="#606169" rx="0.5"/>
<rect x="672.1" y="467.43" width="10.63" height="14.62" fill="#606169" rx="0.5"/>
<rect x="743.51" y="359.22" width="33.08" height="20.84" fill="#2a2b2f" rx="0.5"/>
<rect x="598.98" y="404.45" width="10.94" height="19.34" fill="#2a2b2f" rx="0.5"/>
<rect x="595.79" y="489.05" width="16.5" height="25.52" fill="#55565e" rx="0.5"/>
<rect x="852.06" y="301.51" width="25.71" height="15.19" fill="#606169" rx="0.5"/>
<rect x="631.89" y="409.58" width="24.74" height="24.34" fill="#606169" rx="0.5"/>
<rect x="621.85" y="490.02" width="25.45" height="20.4" fill="#55565e" rx="0.5"/>
<rect x="591.98" y="482.83" width="13.3" height="21.46" fill="#2a2b2f" rx="0.5"/>
<rect x="714.55" y="510.06" width="20.67" height="17.22" fill="#2a2b2f" rx="0.5"/>
<rect x="677.41" y="394.87" width="29.38" height="16.7" fill="#55565e" rx="0.5"/>
<rect x="736.87" y="421.36" width="36.52" height="14.2" fill="#2a2b2f" rx="0.5"/>
<circle cx="890.58" cy="454.59" r="7.92" fill="#606169"/>
<rect x="786.12" y="319.01" width="23.16" height="23.92" fill="#202124" rx="0.5"/>
<rect x="663.4" y="475.5" width="30.9" height="19.14" fill="#55565e" rx="0.5"/>
<rect x="790.53" y="373.93" width="39.24" height="23.02" fill="#55565e" rx="0.5"/>
<circle cx="847.24" cy="312.86" r="6.27" fill="#2a2b2f"/>
<circle cx="679.25" cy="362.85" r="5.81" fill="#606169"/>
<circle cx="639.98" cy="385.88" r="11.66" fill="#2a2b2f"/>
<rect x="645.46" y="532.31" width="35.63" height="17.86" fill="#606169" rx="0.5"/>
<rect x="719.81" y="471.43" width="14.25" height="20.87" fill="#202124" rx="0.5"/>
<rect x="888.41" y="453.09" width="27.62" height="21.65" fill="#55565e" rx="0.5"/>
<rect x="681.25" y="444.39" width="29.25" height="18.17" fill="#2a2b2f" rx="0.5"/>
<rect x="840.33" y="327.02" width="17.27" height="17.2" fill="#202124" rx="0.5"/>
<rect x="765.59" y="450.15" width="10.59" height="25.45" fill="#55565e" rx="0.5"/>
<circle cx="886.16" cy="517.69" r="7.94" fill="#2a2b2f"/>
<circle cx="864" cy="524.61" r="10.52" fill="#606169"/>
<rect x="838.58" y="415.09" width="27.24" height="19.74" fill="#606169" rx="0.5"/>
<rect x="642.11" y="455.3" width="22.31" height="27.06" fill="#202124" rx="0.5"/>
<circle cx="795.17" cy="445.12" r="15.19" fill="#606169"/>
<rect x="723.67" y="394.35" width="21.99" height="10.24" fill="#606169" rx="0.5"/>
<rect x="718.33" y="526.65" width="13.28" height="15.46" fill="#55565e" rx="0.5"/>
<rect x="622.95" y="519.28" width="38.83" height="18.32" fill="#2a2b2f" rx="0.5"/>
<rect x="777.79" y="344.22" width="29.03" height="18.44" fill="#55565e" rx="0.5"/>
<rect x="876.2" y="402.98" width="29.16" height="24.74" fill="#606169" rx="0.5"/>
<circle cx="741.78" cy="480.75" r="11.8" fill="#55565e"/>
<rect x="726.76" y="334.61" width="21.28" height="14.56" fill="#2a2b2f" rx="0.5"/>
<rect x="811.96" y="368.01" width="33.97" height="16.44" fill="#202124" rx="0.5"/>
<circle cx="700.42" cy="517.46" r="11.65" fill="#202124"/>
</g>
<rect x="852" y="320" width="100" height="202" fill="#2c2d32" rx="6"/>
<polyline points="598,392 700,356 770,322" fill="none" stroke="#5c5d65" stroke-width="20" stroke-linecap="round"/>
<circle cx="792" cy="344" r="30" fill="#5d5e66"/>
<circle cx="792" cy="344" r="13" fill="#74757d"/>
<circle cx="702" cy="416" r="25" fill="#55565d"/>
<circle cx="702" cy="416" r="10" fill="#6e6f77"/>
<polyline points="702,416 650,530" fill="none" stroke="#4c4d54" stroke-width="16"/>
<rect x="720" y="270" width="620" height="36" fill="url(#g18)" rx="6"/>
<rect x="850" y="262" width="110" height="50" fill="#4a4b52" rx="5"/>
<path d="M648,552 Q800,668 966,532" fill="none" stroke="#2a2b2f" stroke-width="34"/>
<path d="M660,548 Q800,646 955,528" fill="none" stroke="#4c4d53" stroke-width="5"/>
<circle cx="862" cy="556" r="9" fill="#d0d0d4"/>
<circle cx="905" cy="548" r="7" fill="#c0c0c6"/>
<circle cx="700" cy="670" r="56" fill="none" stroke="#2b2c30" stroke-width="14"/>
<line x1="645" y1="670" x2="755" y2="670" stroke="#303136" stroke-width="9"/>
<line x1="700" y1="615" x2="700" y2="725" stroke="#303136" stroke-width="9"/>
<circle cx="700" cy="672" r="22" fill="#34353a"/>
<polygon points="600,748 730,752 728,820 700,862 615,860 596,810" fill="#4a4b52"/>
<g clip-path="url(#c5)" opacity="0.8">
<rect x="690.65" y="762.6" width="26.56" height="19.96" fill="#5c5d65" rx="0.5"/>
<rect x="718.64" y="819.46" width="10.3" height="10.13" fill="#5c5d65" rx="0.5"/>
<circle cx="618.88" cy="795.14" r="8.63" fill="#4a4b52"/>
<rect x="672.17" y="820.97" width="18.05" height="15.88" fill="#26272b" rx="0.5"/>
<rect x="696.71" y="768.66" width="27.88" height="18.67" fill="#4a4b52" rx="0.5"/>
<rect x="703.32" y="807.16" width="24.84" height="14.82" fill="#5c5d65" rx="0.5"/>
<rect x="663.27" y="799.54" width="26.54" height="15.21" fill="#4a4b52" rx="0.5"/>
<rect x="671.87" y="827.41" width="14.93" height="11.81" fill="#4a4b52" rx="0.5"/>
<rect x="678.71" y="837.02" width="19.36" height="16.19" fill="#5c5d65" rx="0.5"/>
<circle cx="617.48" cy="785.94" r="12" fill="#26272b"/>
</g>
<rect x="630" y="700" width="38" height="60" fill="#3a3b41"/>
<rect x="649" y="40" width="22" height="132" fill="#55565d"/>
<circle cx="660" cy="46" r="13" fill="#5a5b62"/>
<rect x="645" y="84" width="30" height="16" fill="#46474d" rx="4"/>
<rect x="642" y="124" width="36" height="22" fill="#46474d" rx="5"/>
<path d="M292,124 L335,124 C345,420 365,700 386,900 L140,916 C210,700 270,420 292,124 Z" fill="url(#g19)"/>
<path d="M335,124 C345,420 365,700 386,900" fill="none" stroke="#6a6b78" stroke-width="5"/>
<path d="M292,124 C270,420 210,700 140,916" fill="none" stroke="#a4a5b2" stroke-width="4" opacity="0.6"/>
</g>
<rect x="545" y="187" width="48.5" height="13.5" fill="#2e2f34"/>
<rect x="547" y="188.6" width="44.5" height="8.6" fill="url(#g20)"/>
<rect x="545" y="199.4" width="55" height="1.4" fill="#3a3b41"/>
<polygon points="593,187 596,198.5 593,200.5" fill="#3a3b41"/>
<polygon points="542,201 584.5,201 584.5,208 580,213 560,211 548,214 542,212" fill="#26272b"/>
<g clip-path="url(#c6)" opacity="0.8">
<rect x="583.6" y="210.1" width="1.71" height="3.49" fill="#3a3b41" rx="0.5"/>
<rect x="543.38" y="208.93" width="3.68" height="3.92" fill="#3a3b41" rx="0.5"/>
<circle cx="560.89" cy="207.18" r="2.15" fill="#3a3b41"/>
<rect x="544.16" y="204.44" width="3.04" height="2.18" fill="#1a1b1e" rx="0.5"/>
<rect x="553.1" y="206.86" width="3.32" height="2.86" fill="#3a3b41" rx="0.5"/>
<rect x="554.67" y="204.53" width="5.06" height="2.39" fill="#3a3b41" rx="0.5"/>
<rect x="578.89" y="207.15" width="1.68" height="3.45" fill="#3a3b41" rx="0.5"/>
<rect x="576.12" y="206.79" width="1.99" height="1.63" fill="#3a3b41" rx="0.5"/>
<circle cx="566.48" cy="208.16" r="2.24" fill="#3a3b41"/>
<rect x="572.7" y="202.18" width="4.5" height="2.74" fill="#3a3b41" rx="0.5"/>
<rect x="579.97" y="201.16" width="3.4" height="1.77" fill="#3a3b41" rx="0.5"/>
<circle cx="554.23" cy="206.02" r="1.61" fill="#1a1b1e"/>
<rect x="578.99" y="206.71" width="4.05" height="3.06" fill="#3a3b41" rx="0.5"/>
<circle cx="569.83" cy="205.73" r="1.99" fill="#3a3b41"/>
<rect x="580.33" y="212.23" width="3.24" height="3.1" fill="#1a1b1e" rx="0.5"/>
<rect x="561.13" y="211.87" width="3.97" height="1.72" fill="#3a3b41" rx="0.5"/>
<rect x="583.17" y="210.74" width="1.54" height="3.31" fill="#3a3b41" rx="0.5"/>
<rect x="571.82" y="203.96" width="2.08" height="1.55" fill="#3a3b41" rx="0.5"/>
<circle cx="570.44" cy="202.63" r="1.26" fill="#3a3b41"/>
<rect x="569.11" y="211.3" width="4.01" height="2.84" fill="#3a3b41" rx="0.5"/>
</g>
<rect x="459" y="283" width="9.5" height="18" fill="#6b6c75" rx="1.5"/>
<rect x="486" y="283" width="10" height="18" fill="#6b6c75" rx="1.5"/>
<rect x="459" y="290" width="9.5" height="2" fill="#4a4b52"/>
<rect x="486" y="290" width="10" height="2" fill="#4a4b52"/>
<rect x="469" y="280" width="15" height="19.3" fill="#62636b"/>
<polygon points="496,272 512,270 516,282 500,284" fill="#2c2d31"/>
<g clip-path="url(#c7)" opacity="0.8">
<rect x="508.51" y="280.81" width="1.55" height="1.54" fill="#26272b" rx="0.5"/>
<rect x="513.76" y="280.39" width="2.91" height="3.12" fill="#26272b" rx="0.5"/>
<rect x="504.04" y="272.04" width="5.77" height="3.46" fill="#26272b" rx="0.5"/>
<rect x="503.44" y="274.78" width="4.4" height="3.2" fill="#1c1d20" rx="0.5"/>
<rect x="501.11" y="270.76" width="5.03" height="3.03" fill="#5c5d65" rx="0.5"/>
<rect x="498.66" y="281.01" width="4.77" height="1.54" fill="#1c1d20" rx="0.5"/>
<rect x="503.03" y="279.82" width="2.61" height="2.55" fill="#4a4b52" rx="0.5"/>
<circle cx="500.9" cy="275.6" r="1.11" fill="#26272b"/>
</g>
</g>
<g filter="url(#soft)">
<rect x="428" y="504.5" width="200" height="17.5" fill="url(#g23)"/>
<rect x="556" y="505.5" width="36" height="16" fill="url(#g24)"/>
<polygon points="310,501.5 318,502 325,500 336,503 337,510 326,511 318,508 310,508" fill="#2e2f35"/>
<rect x="326.5" y="491" width="11.5" height="5" fill="#3a3b42" rx="1"/>
<polygon points="217,505.4 227,505 229,503.6 234,503.6 236,504.4 300,502 318,501 320,509 300,509 236,508.6 234,509.4 229,509.4 227,508 217,507.4" fill="#2b2c31"/>
<polygon points="336,492 338,482 344,473 350,468.5 364,465 400,463 432,463.5 433,480 443,486 444,496 458,500 458,522 430,524 336,524" fill="#393b43"/>
<g clip-path="url(#c8)" opacity="0.8">
<rect x="456.07" y="471.68" width="2.13" height="3.9" fill="#1a1b1e" rx="0.5"/>
<rect x="432.53" y="474.93" width="1.88" height="2.99" fill="#4a4c55" rx="0.5"/>
<rect x="421.79" y="518.3" width="1.76" height="2.57" fill="#222327" rx="0.5"/>
<rect x="432.96" y="509.43" width="3.57" height="1.74" fill="#4a4c55" rx="0.5"/>
<circle cx="436.06" cy="482.23" r="1.54" fill="#4a4c55"/>
<rect x="420.7" y="484.77" width="2.37" height="1.99" fill="#5a5c67" rx="0.5"/>
<rect x="341.36" y="522.88" width="3.83" height="1.9" fill="#5a5c67" rx="0.5"/>
<rect x="345.84" y="481.83" width="3.17" height="2.75" fill="#222327" rx="0.5"/>
<rect x="340.03" y="522.64" width="3.84" height="1.56" fill="#1a1b1e" rx="0.5"/>
<rect x="369.79" y="468.73" width="2.46" height="4" fill="#1a1b1e" rx="0.5"/>
<rect x="366.33" y="465.23" width="5.18" height="4.1" fill="#4a4c55" rx="0.5"/>
<rect x="340.19" y="485.26" width="3.2" height="1.57" fill="#1a1b1e" rx="0.5"/>
<rect x="438.99" y="500.78" width="5.31" height="3.92" fill="#222327" rx="0.5"/>
<circle cx="364.23" cy="468.37" r="0.76" fill="#1a1b1e"/>
<circle cx="364.06" cy="506.06" r="2.13" fill="#4a4c55"/>
<circle cx="444.94" cy="517.07" r="1.06" fill="#222327"/>
<circle cx="427.47" cy="491.64" r="1.52" fill="#222327"/>
<rect x="416.92" y="480.62" width="4.9" height="4.04" fill="#1a1b1e" rx="0.5"/>
<rect x="367.1" y="470.43" width="1.97" height="2.37" fill="#1a1b1e" rx="0.5"/>
<rect x="445.95" y="515.78" width="3.49" height="3.68" fill="#1a1b1e" rx="0.5"/>
<rect x="448.07" y="476.28" width="2.38" height="1.6" fill="#5a5c67" rx="0.5"/>
<rect x="347.73" y="518.4" width="2.13" height="2.71" fill="#222327" rx="0.5"/>
<circle cx="434.96" cy="491.55" r="1.41" fill="#5a5c67"/>
<rect x="422.18" y="496.3" width="2.5" height="1.65" fill="#4a4c55" rx="0.5"/>
<rect x="365.84" y="464.52" width="2.17" height="2.63" fill="#5a5c67" rx="0.5"/>
<circle cx="374.45" cy="516.82" r="0.9" fill="#222327"/>
<rect x="430.59" y="517.96" width="3.81" height="3.2" fill="#1a1b1e" rx="0.5"/>
<rect x="453.44" y="488.59" width="2.04" height="3.54" fill="#5a5c67" rx="0.5"/>
<rect x="370.49" y="516.88" width="5.66" height="1.76" fill="#222327" rx="0.5"/>
<rect x="412.17" y="489.55" width="5.9" height="1.89" fill="#5a5c67" rx="0.5"/>
<rect x="449.48" y="479.95" width="3.49" height="3.63" fill="#5a5c67" rx="0.5"/>
<rect x="404.1" y="471.28" width="5.6" height="2.09" fill="#4a4c55" rx="0.5"/>
<rect x="408.52" y="512.75" width="2.54" height="1.97" fill="#1a1b1e" rx="0.5"/>
<rect x="416.96" y="500.75" width="2.29" height="1.87" fill="#4a4c55" rx="0.5"/>
<rect x="424.51" y="487.55" width="2.41" height="1.68" fill="#222327" rx="0.5"/>
<circle cx="413" cy="519.62" r="1.23" fill="#222327"/>
<rect x="439.95" y="478.87" width="5.6" height="2.79" fill="#4a4c55" rx="0.5"/>
<rect x="419.59" y="497.61" width="5.94" height="1.6" fill="#222327" rx="0.5"/>
<rect x="344.5" y="484.03" width="5.69" height="4.12" fill="#4a4c55" rx="0.5"/>
<circle cx="420.85" cy="485.81" r="2.16" fill="#222327"/>
<circle cx="390.02" cy="464.52" r="0.79" fill="#4a4c55"/>
<rect x="357.72" y="469.16" width="5.85" height="2.1" fill="#5a5c67" rx="0.5"/>
<circle cx="446.32" cy="507.49" r="2.32" fill="#5a5c67"/>
<rect x="398.7" y="504.79" width="4.2" height="3.06" fill="#222327" rx="0.5"/>
<circle cx="369.05" cy="490.89" r="0.77" fill="#5a5c67"/>
<circle cx="401.52" cy="476.43" r="0.82" fill="#4a4c55"/>
<rect x="355.71" y="511.93" width="4.08" height="3.52" fill="#1a1b1e" rx="0.5"/>
<rect x="340.34" y="520.68" width="4.19" height="3.13" fill="#222327" rx="0.5"/>
<rect x="376.37" y="489.1" width="3.02" height="2.15" fill="#5a5c67" rx="0.5"/>
<circle cx="397.74" cy="520.64" r="2.13" fill="#5a5c67"/>
<rect x="379.84" y="494.53" width="3.4" height="3.21" fill="#222327" rx="0.5"/>
<rect x="363.24" y="487.97" width="2.4" height="3.31" fill="#1a1b1e" rx="0.5"/>
<circle cx="432.42" cy="515.53" r="2.29" fill="#222327"/>
<rect x="417.28" y="479.38" width="4.39" height="2.22" fill="#222327" rx="0.5"/>
<circle cx="388.34" cy="519.62" r="1.05" fill="#5a5c67"/>
<circle cx="343.27" cy="520.57" r="1.23" fill="#5a5c67"/>
<rect x="388.76" y="493.18" width="4.16" height="4.02" fill="#5a5c67" rx="0.5"/>
<rect x="424.28" y="507.34" width="4.1" height="2.24" fill="#5a5c67" rx="0.5"/>
<rect x="413.96" y="474.97" width="4.24" height="3.04" fill="#5a5c67" rx="0.5"/>
<rect x="392.28" y="481.45" width="3.97" height="3.15" fill="#4a4c55" rx="0.5"/>
<circle cx="453.15" cy="486.59" r="0.94" fill="#5a5c67"/>
<circle cx="374.77" cy="479.15" r="2.31" fill="#4a4c55"/>
<rect x="343.98" y="515.31" width="4.97" height="1.93" fill="#1a1b1e" rx="0.5"/>
<rect x="378.52" y="508.1" width="3.83" height="3.75" fill="#4a4c55" rx="0.5"/>
<rect x="385.9" y="502.42" width="4.55" height="4.02" fill="#4a4c55" rx="0.5"/>
<circle cx="434.43" cy="493.6" r="1.71" fill="#1a1b1e"/>
<circle cx="420.3" cy="487.53" r="1.74" fill="#222327"/>
<rect x="395.51" y="520.24" width="4.95" height="3.08" fill="#4a4c55" rx="0.5"/>
<rect x="408.57" y="485.42" width="5.03" height="3.86" fill="#1a1b1e" rx="0.5"/>
<rect x="378.57" y="494.45" width="2.8" height="2.45" fill="#1a1b1e" rx="0.5"/>
<circle cx="455.99" cy="485.55" r="0.61" fill="#5a5c67"/>
<rect x="405.38" y="497.93" width="2.87" height="1.89" fill="#222327" rx="0.5"/>
<circle cx="409.28" cy="477.3" r="1.19" fill="#5a5c67"/>
<circle cx="337.29" cy="465.8" r="1.37" fill="#1a1b1e"/>
<rect x="410.43" y="489.15" width="3.91" height="2.34" fill="#1a1b1e" rx="0.5"/>
<rect x="378.29" y="519.35" width="3.11" height="3.11" fill="#222327" rx="0.5"/>
<rect x="384.52" y="496.54" width="1.95" height="2.51" fill="#4a4c55" rx="0.5"/>
<rect x="388.41" y="500.22" width="5.84" height="2.81" fill="#5a5c67" rx="0.5"/>
<rect x="379.37" y="485.05" width="4.86" height="1.75" fill="#222327" rx="0.5"/>
<rect x="443.43" y="504.46" width="3.81" height="1.8" fill="#1a1b1e" rx="0.5"/>
</g>
<line x1="337.8" y1="471.5" x2="341.5" y2="479" stroke="#2e2f35" stroke-width="1.8"/>
<ellipse cx="403" cy="453.5" rx="12" ry="12.5" fill="#2c2d31"/>
<ellipse cx="403" cy="453.5" rx="11.1" ry="11.6" fill="#3c3e46"/>
<ellipse cx="403" cy="453.5" rx="11.1" ry="11.6" fill="none" stroke="#5e5f66" stroke-width="0.9" opacity="0.8"/>
<ellipse cx="410.8" cy="454.93" rx="1.44" ry="1.5" fill="#1f2023" opacity="0.9"/>
<ellipse cx="407.54" cy="460.26" rx="1.44" ry="1.5" fill="#1f2023" opacity="0.9"/>
<ellipse cx="401.62" cy="461.62" rx="1.44" ry="1.5" fill="#1f2023" opacity="0.9"/>
<ellipse cx="396.51" cy="458.23" rx="1.44" ry="1.5" fill="#1f2023" opacity="0.9"/>
<ellipse cx="395.2" cy="452.07" rx="1.44" ry="1.5" fill="#1f2023" opacity="0.9"/>
<ellipse cx="398.46" cy="446.74" rx="1.44" ry="1.5" fill="#1f2023" opacity="0.9"/>
<ellipse cx="404.38" cy="445.38" rx="1.44" ry="1.5" fill="#1f2023" opacity="0.9"/>
<ellipse cx="409.49" cy="448.77" rx="1.44" ry="1.5" fill="#1f2023" opacity="0.9"/>
<ellipse cx="403" cy="453.5" rx="4.32" ry="4.5" fill="#2a2b2f"/>
<ellipse cx="403" cy="453.5" rx="2.16" ry="2.25" fill="#5a5b62"/>
<ellipse cx="382" cy="457" rx="17.5" ry="15.5" fill="#2c2d31"/>
<ellipse cx="382" cy="457" rx="16.6" ry="14.6" fill="#3e4048"/>
<ellipse cx="382" cy="457" rx="16.6" ry="14.6" fill="none" stroke="#5e5f66" stroke-width="0.9" opacity="0.8"/>
<ellipse cx="393.37" cy="458.78" rx="2.1" ry="1.86" fill="#1f2023" opacity="0.9"/>
<ellipse cx="388.62" cy="465.38" rx="2.1" ry="1.86" fill="#1f2023" opacity="0.9"/>
<ellipse cx="379.99" cy="467.07" rx="2.1" ry="1.86" fill="#1f2023" opacity="0.9"/>
<ellipse cx="372.54" cy="462.87" rx="2.1" ry="1.86" fill="#1f2023" opacity="0.9"/>
<ellipse cx="370.63" cy="455.22" rx="2.1" ry="1.86" fill="#1f2023" opacity="0.9"/>
<ellipse cx="375.38" cy="448.62" rx="2.1" ry="1.86" fill="#1f2023" opacity="0.9"/>
<ellipse cx="384.01" cy="446.93" rx="2.1" ry="1.86" fill="#1f2023" opacity="0.9"/>
<ellipse cx="391.46" cy="451.13" rx="2.1" ry="1.86" fill="#1f2023" opacity="0.9"/>
<ellipse cx="382" cy="457" rx="6.3" ry="5.58" fill="#2a2b2f"/>
<ellipse cx="382" cy="457" rx="3.15" ry="2.79" fill="#5a5b62"/>
<ellipse cx="379" cy="455" rx="4" ry="6" fill="#6a5046" opacity="0.7"/>
<polygon points="381,456 385,456 398,478 372,478" fill="#34353c"/>
<line x1="383" y1="457" x2="372" y2="478" stroke="#42444c" stroke-width="2"/>
<line x1="383" y1="457" x2="397" y2="477" stroke="#42444c" stroke-width="2"/>
<rect x="403" y="464" width="29" height="16" fill="#3f4149"/>
<rect x="406" y="466" width="16" height="12" fill="#50525c"/>
<rect x="340" y="495" width="72" height="33" fill="#1f2023"/>
<ellipse cx="381.5" cy="525.5" rx="31.8" ry="31.1" fill="#181822"/>
<ellipse cx="381.5" cy="525.5" rx="29.3" ry="28.6" fill="none" stroke="#272732" stroke-width="2.5" stroke-dasharray="1.4 1.6"/>
<ellipse cx="374.5" cy="526.5" rx="32.3" ry="31.6" fill="url(#g25)"/>
<ellipse cx="374.5" cy="526.5" rx="29.9" ry="29.2" fill="none" stroke="#545460" stroke-width="3.6" stroke-dasharray="1.5 1.5" opacity="0.5"/>
<ellipse cx="374.5" cy="526.5" rx="26.7" ry="26" fill="none" stroke="#21212c" stroke-width="0.9" opacity="0.6"/>
<ellipse cx="374.5" cy="526.5" rx="21.32" ry="20.86" fill="#464754"/>
<ellipse cx="374.5" cy="526.5" rx="18.9" ry="18.49" fill="#20212d"/>
<ellipse cx="374.5" cy="526.5" rx="16.8" ry="16.43" fill="#333442"/>
<ellipse cx="385.42" cy="529.36" rx="4.04" ry="3.95" fill="#050610"/>
<ellipse cx="377.43" cy="537.18" rx="4.04" ry="3.95" fill="#050610"/>
<ellipse cx="366.51" cy="534.32" rx="4.04" ry="3.95" fill="#050610"/>
<ellipse cx="363.58" cy="523.64" rx="4.04" ry="3.95" fill="#050610"/>
<ellipse cx="371.57" cy="515.82" rx="4.04" ry="3.95" fill="#050610"/>
<ellipse cx="382.49" cy="518.68" rx="4.04" ry="3.95" fill="#050610"/>
<ellipse cx="374.5" cy="526.5" rx="6.14" ry="6" fill="#464755"/>
<ellipse cx="374.5" cy="526.5" rx="2.58" ry="2.53" fill="#585968"/>
<circle cx="374.5" cy="526.5" r="1.3" fill="#c8c8cc"/>
<path d="M325,530 C325.75,527.17 327,518.58 329.5,513 C332,507.42 335.75,501.25 340,496.5 C344.25,491.75 349.25,487.13 355,484.5 C360.75,481.87 367,480.2 374.5,480.7 C382,481.2 393.25,483.62 400,487.5 C406.75,491.38 411,499 415,504 C419,509 421.75,513.42 424,517.5 C426.25,521.58 427.75,526.67 428.5,528.5 L413.5,528.5 C413.25,526.67 413.25,521.58 412,517.5 C410.75,513.42 409,508 406,504 C403,500 399.25,495.88 394,493.5 C388.75,491.12 380,489.95 374.5,489.7 C369,489.45 365.25,490.12 361,492 C356.75,493.88 352.25,497 349,501 C345.75,505 343.25,511.33 341.5,516 C339.75,520.67 339,526.83 338.5,529 Z" fill="url(#g27)"/>
<path d="M339.5,528.5 C340,526.42 340.75,520.47 342.5,516 C344.25,511.53 346.83,505.53 350,501.7 C353.17,497.87 357.42,494.83 361.5,493 C365.58,491.17 369.17,490.45 374.5,490.7 C379.83,490.95 388.42,492.2 393.5,494.5 C398.58,496.8 402.08,500.67 405,504.5 C407.92,508.33 409.75,513.58 411,517.5 C412.25,521.42 412.25,526.25 412.5,528 " fill="none" stroke="#2a2c34" stroke-width="1.5" opacity="0.8"/>
<path d="M327,528 C327.75,525.5 329.08,518.05 331.5,513 C333.92,507.95 337.5,502.2 341.5,497.7 C345.5,493.2 350,488.57 355.5,486 C361,483.43 367.25,481.85 374.5,482.3 C381.75,482.75 394.92,487.63 399,488.7 " fill="none" stroke="#6a6e7e" stroke-width="1.1" opacity="0.6"/>
<polygon points="610,500 614,488 622,480 640,470 655,468 700,468 710,476 716,486 719,500 722,512 722,520 610,522" fill="#3e4048"/>
<g clip-path="url(#c9)" opacity="0.8">
<circle cx="632.87" cy="514.58" r="1.54" fill="#1a1b1e"/>
<rect x="648.79" y="520.11" width="4.34" height="3.13" fill="#222327" rx="0.5"/>
<rect x="689.04" y="497.44" width="1.55" height="1.51" fill="#5e606b" rx="0.5"/>
<rect x="613.28" y="477.33" width="1.94" height="1.54" fill="#5e606b" rx="0.5"/>
<circle cx="625.7" cy="478.43" r="2.21" fill="#222327"/>
<rect x="613.2" y="472" width="3.83" height="2.88" fill="#1a1b1e" rx="0.5"/>
<circle cx="616.82" cy="468.65" r="1.7" fill="#5e606b"/>
<rect x="613.64" y="501.24" width="2.57" height="2.24" fill="#222327" rx="0.5"/>
<rect x="616.03" y="514.96" width="3.52" height="2.54" fill="#222327" rx="0.5"/>
<rect x="614.83" y="517.25" width="4.29" height="2.17" fill="#4d4f58" rx="0.5"/>
<rect x="643.17" y="499.42" width="5.54" height="3.7" fill="#1a1b1e" rx="0.5"/>
<rect x="684.98" y="498.61" width="1.8" height="3.33" fill="#1a1b1e" rx="0.5"/>
<circle cx="696.63" cy="480.8" r="2.18" fill="#4d4f58"/>
<circle cx="707.4" cy="489.08" r="1.28" fill="#5e606b"/>
<rect x="654.37" y="471.45" width="3.9" height="2.54" fill="#222327" rx="0.5"/>
<circle cx="652.3" cy="492.52" r="2.24" fill="#5e606b"/>
<circle cx="647.96" cy="476.16" r="0.66" fill="#4d4f58"/>
<circle cx="624.14" cy="491.11" r="1.09" fill="#4d4f58"/>
<circle cx="651.63" cy="518.1" r="1.24" fill="#4d4f58"/>
<rect x="704.58" y="503.77" width="3.64" height="2.05" fill="#5e606b" rx="0.5"/>
<circle cx="668.95" cy="488.98" r="1.39" fill="#4d4f58"/>
<circle cx="620.02" cy="512.58" r="1.95" fill="#1a1b1e"/>
<rect x="611.64" y="505.71" width="4.73" height="1.89" fill="#4d4f58" rx="0.5"/>
<rect x="708.7" y="471.61" width="2.54" height="2.01" fill="#5e606b" rx="0.5"/>
<circle cx="688.73" cy="472.66" r="1.97" fill="#5e606b"/>
<rect x="654.23" y="516.05" width="4.73" height="2.26" fill="#4d4f58" rx="0.5"/>
<circle cx="698.61" cy="504.45" r="0.92" fill="#1a1b1e"/>
<circle cx="719.66" cy="489.08" r="1.87" fill="#222327"/>
<rect x="691.47" y="505.07" width="2.02" height="3.96" fill="#222327" rx="0.5"/>
<rect x="693.18" y="476.23" width="4.24" height="2.66" fill="#222327" rx="0.5"/>
<rect x="672.01" y="479.83" width="4.33" height="4.04" fill="#1a1b1e" rx="0.5"/>
<circle cx="685.74" cy="486.38" r="1.06" fill="#222327"/>
<rect x="708.7" y="513.83" width="4.94" height="3.27" fill="#222327" rx="0.5"/>
<rect x="644.95" y="509.34" width="4.56" height="1.6" fill="#5e606b" rx="0.5"/>
<circle cx="653.72" cy="507.11" r="0.76" fill="#4d4f58"/>
<rect x="657.08" y="516.35" width="1.9" height="4.06" fill="#1a1b1e" rx="0.5"/>
<rect x="683.86" y="512.84" width="4.54" height="2.06" fill="#4d4f58" rx="0.5"/>
<rect x="701.45" y="497.05" width="2.35" height="4.07" fill="#4d4f58" rx="0.5"/>
<circle cx="669.33" cy="481.08" r="2.34" fill="#222327"/>
<rect x="680.31" y="475.29" width="3.06" height="1.75" fill="#1a1b1e" rx="0.5"/>
<rect x="667.06" y="491.55" width="2.57" height="2.15" fill="#5e606b" rx="0.5"/>
<rect x="675.19" y="480.59" width="2.1" height="3.41" fill="#222327" rx="0.5"/>
<rect x="683.01" y="499.74" width="4.92" height="1.96" fill="#1a1b1e" rx="0.5"/>
<circle cx="686.15" cy="468.66" r="1.33" fill="#1a1b1e"/>
<rect x="631.9" y="505.1" width="1.77" height="2.26" fill="#1a1b1e" rx="0.5"/>
<circle cx="673.12" cy="483.24" r="0.89" fill="#222327"/>
<rect x="663.5" y="506.8" width="3.61" height="4.15" fill="#5e606b" rx="0.5"/>
<rect x="663.77" y="491.06" width="4.04" height="1.79" fill="#4d4f58" rx="0.5"/>
<rect x="620.05" y="483.09" width="2.95" height="2.47" fill="#5e606b" rx="0.5"/>
<circle cx="612.81" cy="488.65" r="0.74" fill="#4d4f58"/>
<circle cx="703.73" cy="516.55" r="0.93" fill="#4d4f58"/>
<rect x="677.62" y="488.04" width="4.73" height="2.34" fill="#5e606b" rx="0.5"/>
<circle cx="650.78" cy="511.65" r="1.26" fill="#4d4f58"/>
<rect x="712.25" y="520.16" width="1.98" height="3.67" fill="#1a1b1e" rx="0.5"/>
<rect x="664.51" y="476.28" width="5.75" height="2.83" fill="#5e606b" rx="0.5"/>
<circle cx="634.99" cy="475.34" r="1.73" fill="#1a1b1e"/>
<circle cx="631.21" cy="506.07" r="0.67" fill="#222327"/>
<rect x="666.18" y="475.46" width="4.25" height="3.75" fill="#222327" rx="0.5"/>
<rect x="647.28" y="491.11" width="3.82" height="2.64" fill="#4d4f58" rx="0.5"/>
<rect x="659.14" y="497.77" width="2.24" height="2.3" fill="#5e606b" rx="0.5"/>
<rect x="666.95" y="490.5" width="3.61" height="2.97" fill="#4d4f58" rx="0.5"/>
<rect x="698.48" y="471.15" width="5.83" height="3.17" fill="#5e606b" rx="0.5"/>
<circle cx="715.36" cy="493.23" r="1.13" fill="#4d4f58"/>
<rect x="613.08" y="477.83" width="3.05" height="3.89" fill="#1a1b1e" rx="0.5"/>
<rect x="671.55" y="517.49" width="2.16" height="3.06" fill="#5e606b" rx="0.5"/>
<rect x="622.57" y="477.52" width="4.04" height="2.57" fill="#4d4f58" rx="0.5"/>
<rect x="638.14" y="472.95" width="2.01" height="3.83" fill="#5e606b" rx="0.5"/>
<rect x="669.94" y="504.67" width="2.52" height="2.74" fill="#222327" rx="0.5"/>
<rect x="624.73" y="494.25" width="4.56" height="3.66" fill="#222327" rx="0.5"/>
<rect x="660.18" y="504.05" width="5.82" height="2.89" fill="#4d4f58" rx="0.5"/>
<rect x="620.32" y="487.64" width="2.36" height="2.78" fill="#222327" rx="0.5"/>
<circle cx="688.02" cy="518.83" r="0.68" fill="#1a1b1e"/>
<rect x="707.45" y="500.72" width="4.68" height="2.65" fill="#4d4f58" rx="0.5"/>
<rect x="628.34" y="506.82" width="5.63" height="3.85" fill="#5e606b" rx="0.5"/>
<rect x="638.01" y="480.74" width="4.81" height="1.53" fill="#5e606b" rx="0.5"/>
<circle cx="621.08" cy="496.78" r="0.68" fill="#222327"/>
<rect x="648.7" y="504.72" width="5.6" height="2.15" fill="#222327" rx="0.5"/>
<circle cx="612.3" cy="473.86" r="1.65" fill="#5e606b"/>
<rect x="685.59" y="488.13" width="3.99" height="2.28" fill="#4d4f58" rx="0.5"/>
<circle cx="694.28" cy="481.95" r="1.05" fill="#1a1b1e"/>
</g>
<polyline points="710,445.5 714,446.5 711,473" fill="none" stroke="#3f4149" stroke-width="1.8"/>
<polyline points="698,458 710,456" fill="none" stroke="#3f4149" stroke-width="1.3"/>
<polyline points="698,465 711,464" fill="none" stroke="#3f4149" stroke-width="1.3"/>
<line x1="700" y1="456" x2="701" y2="472" stroke="#3f4149" stroke-width="1.3"/>
<ellipse cx="652" cy="456" rx="14" ry="13.5" fill="#2c2d31"/>
<ellipse cx="652" cy="456" rx="13.1" ry="12.6" fill="#3f4149"/>
<ellipse cx="652" cy="456" rx="13.1" ry="12.6" fill="none" stroke="#5e5f66" stroke-width="0.9" opacity="0.8"/>
<ellipse cx="661.1" cy="457.55" rx="1.68" ry="1.62" fill="#1f2023" opacity="0.9"/>
<ellipse cx="657.3" cy="463.3" rx="1.68" ry="1.62" fill="#1f2023" opacity="0.9"/>
<ellipse cx="650.4" cy="464.77" rx="1.68" ry="1.62" fill="#1f2023" opacity="0.9"/>
<ellipse cx="644.43" cy="461.11" rx="1.68" ry="1.62" fill="#1f2023" opacity="0.9"/>
<ellipse cx="642.9" cy="454.45" rx="1.68" ry="1.62" fill="#1f2023" opacity="0.9"/>
<ellipse cx="646.7" cy="448.7" rx="1.68" ry="1.62" fill="#1f2023" opacity="0.9"/>
<ellipse cx="653.6" cy="447.23" rx="1.68" ry="1.62" fill="#1f2023" opacity="0.9"/>
<ellipse cx="659.57" cy="450.89" rx="1.68" ry="1.62" fill="#1f2023" opacity="0.9"/>
<ellipse cx="652" cy="456" rx="5.04" ry="4.86" fill="#2a2b2f"/>
<ellipse cx="652" cy="456" rx="2.52" ry="2.43" fill="#5a5b62"/>
<ellipse cx="678" cy="462" rx="17.5" ry="16.5" fill="#2c2d31"/>
<ellipse cx="678" cy="462" rx="16.6" ry="15.6" fill="#454750"/>
<ellipse cx="678" cy="462" rx="16.6" ry="15.6" fill="none" stroke="#5e5f66" stroke-width="0.9" opacity="0.8"/>
<ellipse cx="689.37" cy="463.89" rx="2.1" ry="1.98" fill="#1f2023" opacity="0.9"/>
<ellipse cx="684.62" cy="470.92" rx="2.1" ry="1.98" fill="#1f2023" opacity="0.9"/>
<ellipse cx="675.99" cy="472.72" rx="2.1" ry="1.98" fill="#1f2023" opacity="0.9"/>
<ellipse cx="668.54" cy="468.25" rx="2.1" ry="1.98" fill="#1f2023" opacity="0.9"/>
<ellipse cx="666.63" cy="460.11" rx="2.1" ry="1.98" fill="#1f2023" opacity="0.9"/>
<ellipse cx="671.38" cy="453.08" rx="2.1" ry="1.98" fill="#1f2023" opacity="0.9"/>
<ellipse cx="680.01" cy="451.28" rx="2.1" ry="1.98" fill="#1f2023" opacity="0.9"/>
<ellipse cx="687.46" cy="455.75" rx="2.1" ry="1.98" fill="#1f2023" opacity="0.9"/>
<ellipse cx="678" cy="462" rx="6.3" ry="5.94" fill="#2a2b2f"/>
<ellipse cx="678" cy="462" rx="3.15" ry="2.97" fill="#5a5b62"/>
<polygon points="676,462 680,462 694,484 664,484" fill="#363840"/>
<line x1="678" y1="463" x2="665" y2="484" stroke="#464850" stroke-width="2"/>
<line x1="678" y1="463" x2="693" y2="483" stroke="#464850" stroke-width="2"/>
<rect x="640" y="472" width="22" height="14" fill="#4a4c55"/>
<rect x="654" y="484.4" width="56" height="5.2" fill="#6f5a48" rx="1"/>
<rect x="654" y="484.8" width="56" height="1.4" fill="#8a7259" rx="0.5"/>
<polyline points="725,478 720,490" fill="none" stroke="#2e2f35" stroke-width="1.8"/>
<rect x="724" y="491" width="8" height="6" fill="#3a3c44" rx="1"/>
<rect x="718" y="498" width="10" height="6" fill="#34353c" rx="1"/>
<rect x="727" y="507.5" width="17.5" height="3.5" fill="#2a2b30" rx="1"/>
<rect x="722" y="505" width="12" height="9" fill="#303238" rx="1"/>
<polygon points="637,420 643,420 642,432 624,489 620,488 637,434" fill="#3a3c44"/>
<rect x="618" y="486" width="8" height="6" fill="#2c2d33"/>
<rect x="640" y="500" width="90" height="32" fill="#1f2023"/>
<ellipse cx="674" cy="529" rx="32.3" ry="31.3" fill="#26262b"/>
<ellipse cx="674" cy="529" rx="29.8" ry="28.8" fill="none" stroke="#35353b" stroke-width="2.5" stroke-dasharray="1.4 1.6"/>
<ellipse cx="686" cy="530.5" rx="32.8" ry="31.8" fill="url(#g28)"/>
<ellipse cx="686" cy="530.5" rx="30.4" ry="29.4" fill="none" stroke="#626269" stroke-width="3.6" stroke-dasharray="1.5 1.5" opacity="0.5"/>
<ellipse cx="686" cy="530.5" rx="27.2" ry="26.2" fill="none" stroke="#2f2f35" stroke-width="0.9" opacity="0.6"/>
<ellipse cx="686" cy="530.5" rx="21.65" ry="20.99" fill="#54555d"/>
<ellipse cx="686" cy="530.5" rx="19.19" ry="18.6" fill="#2e2f36"/>
<ellipse cx="686" cy="530.5" rx="17.06" ry="16.54" fill="#41424b"/>
<ellipse cx="697.09" cy="533.38" rx="4.1" ry="3.98" fill="#131419"/>
<ellipse cx="688.97" cy="541.25" rx="4.1" ry="3.98" fill="#131419"/>
<ellipse cx="677.88" cy="538.37" rx="4.1" ry="3.98" fill="#131419"/>
<ellipse cx="674.91" cy="527.62" rx="4.1" ry="3.98" fill="#131419"/>
<ellipse cx="683.03" cy="519.75" rx="4.1" ry="3.98" fill="#131419"/>
<ellipse cx="694.12" cy="522.63" rx="4.1" ry="3.98" fill="#131419"/>
<ellipse cx="686" cy="530.5" rx="6.23" ry="6.04" fill="#54555e"/>
<ellipse cx="686" cy="530.5" rx="2.62" ry="2.54" fill="#666771"/>
<path d="M636,532.5 C636.5,530.25 637.33,523.25 639,519 C640.67,514.75 642.5,510.83 646,507 C649.5,503.17 653.33,498.83 660,496 C666.67,493.17 678.33,490.5 686,490 C693.67,489.5 700.33,491 706,493 C711.67,495 716.17,498.5 720,502 C723.83,505.5 726.83,510.17 729,514 C731.17,517.83 731.92,521.42 733,525 C734.08,528.58 735.08,533.75 735.5,535.5 L724.5,535.5 C724.17,534.08 723.42,529.92 722.5,527 C721.58,524.08 720.75,521.08 719,518 C717.25,514.92 714.83,511.25 712,508.5 C709.17,505.75 706.33,503.08 702,501.5 C697.67,499.92 691.5,498.83 686,499 C680.5,499.17 673.83,500.5 669,502.5 C664.17,504.5 660,507.92 657,511 C654,514.08 652.5,517.42 651,521 C649.5,524.58 648.5,530.58 648,532.5 Z" fill="url(#g30)"/>
<path d="M649,532 C649.5,530.17 650.5,524.38 652,521 C653.5,517.62 655.08,514.62 658,511.7 C660.92,508.78 664.83,505.45 669.5,503.5 C674.17,501.55 680.58,500.17 686,500 C691.42,499.83 697.75,500.92 702,502.5 C706.25,504.08 708.83,506.83 711.5,509.5 C714.17,512.17 716.33,515.58 718,518.5 C719.67,521.42 720.58,524.25 721.5,527 C722.42,529.75 723.17,533.67 723.5,535 " fill="none" stroke="#2a2c34" stroke-width="1.5" opacity="0.8"/>
<path d="M660.5,497.5 C664.75,496.5 678.42,492 686,491.5 C693.58,491 700.5,492.58 706,494.5 C711.5,496.42 716.83,501.58 719,503 " fill="none" stroke="#7a7e8e" stroke-width="1.1" opacity="0.6"/>
<polygon points="726,527 734,527 735.5,535.5 725,535.5" fill="#5e4d48" opacity="0.7"/>
<polygon points="500,400 556,400 560,500 548,506 508,506 506,482 499,470 499,440" fill="#303238"/>
<g clip-path="url(#c10)" opacity="0.8">
<circle cx="528.85" cy="491.71" r="1.22" fill="#222327"/>
<rect x="534.31" y="487.99" width="4.29" height="3.24" fill="#45474f" rx="0.5"/>
<rect x="555.75" y="454.25" width="3.52" height="2.12" fill="#50525c" rx="0.5"/>
<rect x="534.21" y="404.54" width="2.47" height="3.91" fill="#45474f" rx="0.5"/>
<circle cx="526.45" cy="498.24" r="1.91" fill="#50525c"/>
<rect x="500.21" y="448.15" width="4.11" height="2.4" fill="#222327" rx="0.5"/>
<rect x="521.53" y="406.67" width="4.77" height="1.89" fill="#50525c" rx="0.5"/>
<rect x="507.2" y="472.98" width="4.08" height="3.08" fill="#222327" rx="0.5"/>
<rect x="536.13" y="437.89" width="4.98" height="3.21" fill="#50525c" rx="0.5"/>
<rect x="507.43" y="407.5" width="2.57" height="3.65" fill="#50525c" rx="0.5"/>
<rect x="519.71" y="457.49" width="3.79" height="3.22" fill="#1a1b1e" rx="0.5"/>
<rect x="550.84" y="481.66" width="4.67" height="3.31" fill="#50525c" rx="0.5"/>
<rect x="507.81" y="421.34" width="5.14" height="4.19" fill="#1a1b1e" rx="0.5"/>
<rect x="554.17" y="461.15" width="3.28" height="3.59" fill="#45474f" rx="0.5"/>
<circle cx="531.83" cy="497.74" r="1.16" fill="#50525c"/>
<rect x="533.99" y="431.64" width="2.36" height="4" fill="#50525c" rx="0.5"/>
<rect x="524.46" y="490.48" width="3.11" height="3.59" fill="#222327" rx="0.5"/>
<rect x="552.44" y="457.39" width="2.94" height="1.97" fill="#45474f" rx="0.5"/>
<rect x="501.85" y="447.13" width="2.57" height="1.55" fill="#50525c" rx="0.5"/>
<circle cx="542.15" cy="501.11" r="1.77" fill="#222327"/>
<circle cx="518.93" cy="414.22" r="2.06" fill="#45474f"/>
<rect x="517.99" y="402.9" width="4.39" height="1.54" fill="#50525c" rx="0.5"/>
<circle cx="522.74" cy="470.87" r="1.95" fill="#50525c"/>
<rect x="504.08" y="463.84" width="5.38" height="3.65" fill="#1a1b1e" rx="0.5"/>
<rect x="550.83" y="402.68" width="3.3" height="4.04" fill="#50525c" rx="0.5"/>
<circle cx="534.63" cy="476.16" r="2.38" fill="#50525c"/>
<rect x="530.88" y="488.24" width="1.58" height="2.07" fill="#50525c" rx="0.5"/>
<circle cx="533.9" cy="458.01" r="1.36" fill="#50525c"/>
<rect x="527.11" y="403.29" width="4.28" height="3.7" fill="#50525c" rx="0.5"/>
<circle cx="532.01" cy="437.69" r="1.59" fill="#50525c"/>
<circle cx="538.47" cy="480.98" r="0.62" fill="#50525c"/>
<circle cx="556.6" cy="498.11" r="1.73" fill="#45474f"/>
<rect x="544.89" y="427.2" width="3.94" height="2.05" fill="#50525c" rx="0.5"/>
<rect x="548.82" y="481.08" width="5.56" height="3.85" fill="#222327" rx="0.5"/>
<rect x="549.43" y="422.31" width="4.69" height="2.69" fill="#50525c" rx="0.5"/>
<circle cx="545.9" cy="402.78" r="1.3" fill="#222327"/>
<rect x="549.8" y="406.28" width="4.4" height="2.59" fill="#1a1b1e" rx="0.5"/>
<circle cx="535.49" cy="423.3" r="2.25" fill="#50525c"/>
<rect x="519.78" y="434.21" width="4.69" height="2.15" fill="#1a1b1e" rx="0.5"/>
<rect x="511.91" y="459.18" width="2.84" height="4.18" fill="#45474f" rx="0.5"/>
<circle cx="554.49" cy="414.23" r="2.28" fill="#50525c"/>
<circle cx="552.02" cy="416.9" r="1.2" fill="#1a1b1e"/>
<rect x="550.19" y="476.64" width="1.73" height="3.61" fill="#222327" rx="0.5"/>
<rect x="549.38" y="504.46" width="5.39" height="1.99" fill="#50525c" rx="0.5"/>
<circle cx="552.34" cy="414.01" r="2.05" fill="#50525c"/>
<rect x="508.89" y="471.77" width="4.81" height="1.76" fill="#222327" rx="0.5"/>
<rect x="522.33" y="435.03" width="4.39" height="3.3" fill="#222327" rx="0.5"/>
<rect x="499.92" y="414.08" width="2.41" height="3.19" fill="#45474f" rx="0.5"/>
<rect x="501.84" y="493.22" width="4.64" height="3.47" fill="#222327" rx="0.5"/>
<circle cx="507.15" cy="444.82" r="0.82" fill="#45474f"/>
</g>
<rect x="407.5" y="401.5" width="54.5" height="4.5" fill="url(#g31)" rx="1"/>
<rect x="415.5" y="411.8" width="45.5" height="11.5" fill="url(#g22)" rx="1.5"/>
<rect x="429" y="411.8" width="2.5" height="11.5" fill="#5a5c67"/>
<rect x="447" y="411.8" width="2.5" height="11.5" fill="#5a5c67"/>
<polygon points="412.5,423.3 460,423.3 460,434.5 448,434.5 446,437 443,434.5 430,434.5 428,437.5 425,434.5 420,432" fill="#50525d"/>
<rect x="412" y="422.6" width="48" height="1.8" fill="#2a2b30"/>
<polygon points="460,398 472,396.5 497,397 500,404 500,434 492,440 470,436 460,432" fill="#40424b"/>
<g clip-path="url(#c11)" opacity="0.8">
<rect x="480.75" y="438.12" width="3.93" height="3.21" fill="#636570" rx="0.5"/>
<rect x="496" y="432.88" width="5.81" height="1.71" fill="#555762" rx="0.5"/>
<circle cx="470.22" cy="399.43" r="1.09" fill="#2a2b31"/>
<rect x="497.26" y="407.64" width="1.72" height="3.63" fill="#636570" rx="0.5"/>
<rect x="480.73" y="425.5" width="4.44" height="2.97" fill="#636570" rx="0.5"/>
<rect x="497.49" y="412.83" width="2.93" height="2.63" fill="#1e1f23" rx="0.5"/>
<rect x="483.77" y="406.43" width="5.12" height="3.92" fill="#636570" rx="0.5"/>
<rect x="491.05" y="423.97" width="4.78" height="4.18" fill="#2a2b31" rx="0.5"/>
<rect x="461.86" y="425.33" width="5.03" height="3.95" fill="#636570" rx="0.5"/>
<rect x="477.42" y="420.68" width="3.49" height="3.3" fill="#1e1f23" rx="0.5"/>
<rect x="482.11" y="438.34" width="5.34" height="2.88" fill="#555762" rx="0.5"/>
<rect x="473.31" y="399.17" width="5.06" height="3.85" fill="#636570" rx="0.5"/>
<rect x="483.73" y="419.48" width="4.55" height="2.37" fill="#555762" rx="0.5"/>
<rect x="491.56" y="432.86" width="4.94" height="2.21" fill="#636570" rx="0.5"/>
<rect x="465.42" y="435.87" width="3.64" height="2.1" fill="#636570" rx="0.5"/>
<circle cx="469.08" cy="403.68" r="1.55" fill="#1e1f23"/>
<rect x="484.2" y="434.37" width="5.76" height="3.81" fill="#636570" rx="0.5"/>
<rect x="464.6" y="402.91" width="5.24" height="3.71" fill="#636570" rx="0.5"/>
<circle cx="480.08" cy="409.16" r="1.26" fill="#2a2b31"/>
<rect x="464.32" y="423.25" width="2.81" height="2.7" fill="#555762" rx="0.5"/>
<rect x="474.28" y="418.28" width="2.17" height="3.34" fill="#555762" rx="0.5"/>
<rect x="469.63" y="419.68" width="3.86" height="3.66" fill="#2a2b31" rx="0.5"/>
<circle cx="488.1" cy="408.17" r="0.7" fill="#636570"/>
<circle cx="480.3" cy="417.3" r="1.08" fill="#2a2b31"/>
<rect x="483.66" y="411.99" width="3.4" height="3.64" fill="#2a2b31" rx="0.5"/>
<rect x="488.92" y="437.9" width="3.19" height="1.61" fill="#1e1f23" rx="0.5"/>
<rect x="474.42" y="420.96" width="5.15" height="2.45" fill="#555762" rx="0.5"/>
<circle cx="462.37" cy="405.02" r="2.13" fill="#2a2b31"/>
<circle cx="475.86" cy="436.01" r="1.4" fill="#2a2b31"/>
<circle cx="486.62" cy="414.59" r="1.61" fill="#1e1f23"/>
<rect x="465.29" y="428.28" width="1.79" height="2.57" fill="#2a2b31" rx="0.5"/>
<rect x="461.53" y="425.19" width="4.83" height="2.58" fill="#636570" rx="0.5"/>
<circle cx="468.28" cy="399.79" r="1.99" fill="#2a2b31"/>
<rect x="482.04" y="398.8" width="1.9" height="3.53" fill="#555762" rx="0.5"/>
<rect x="486.37" y="414.34" width="3.67" height="1.65" fill="#555762" rx="0.5"/>
<circle cx="465.44" cy="410.4" r="2.07" fill="#2a2b31"/>
<rect x="463.29" y="412.63" width="3.92" height="2.9" fill="#636570" rx="0.5"/>
<rect x="461.95" y="409.34" width="3.8" height="2.63" fill="#1e1f23" rx="0.5"/>
<rect x="467.54" y="398.71" width="5.35" height="2.19" fill="#636570" rx="0.5"/>
<circle cx="465.34" cy="435.39" r="1.78" fill="#636570"/>
</g>
<path d="M458.5,438 A40,40 0 0 0 505,443" fill="none" stroke="#25262b" stroke-width="5.5"/>
<path d="M462,436 A38,38 0 0 0 502,440" fill="none" stroke="#4a4c55" stroke-width="1"/>
<polyline points="472,432 490,408 496,404" fill="none" stroke="#555762" stroke-width="2.6"/>
<circle cx="504" cy="425" r="5.2" fill="#3f4149"/>
<circle cx="504" cy="425" r="2.4" fill="#5a5c67"/>
<rect x="496" y="385.8" width="24.5" height="17.2" fill="#5f616d" rx="1"/>
<rect x="499" y="391" width="18" height="11" fill="#72747f"/>
<rect x="494" y="384.5" width="28" height="3.5" fill="#4a4c56"/>
<rect x="519" y="388.8" width="75.5" height="12.5" fill="url(#g22)" rx="3"/>
<rect x="577" y="388" width="3" height="14" fill="#3a3c44"/>
<circle cx="571.5" cy="395" r="2" fill="#a5a7b0"/>
<rect x="540" y="404.5" width="62.5" height="15.8" fill="url(#g21)"/>
<rect x="602" y="406.6" width="34" height="13.7" fill="#d1ca3c"/>
<g opacity="1.0">
<polygon points="604.1,406.6 606.12,406.6 607.12,420.3 605.1,420.3" fill="#4c4b2c"/>
<polygon points="608.9,406.6 610.92,406.6 611.92,420.3 609.9,420.3" fill="#4c4b2c"/>
<polygon points="613.7,406.6 615.72,406.6 616.72,420.3 614.7,420.3" fill="#4c4b2c"/>
<polygon points="618.5,406.6 620.52,406.6 621.52,420.3 619.5,420.3" fill="#4c4b2c"/>
<polygon points="623.3,406.6 625.32,406.6 626.32,420.3 624.3,420.3" fill="#4c4b2c"/>
<polygon points="628.1,406.6 630.12,406.6 631.12,420.3 629.1,420.3" fill="#4c4b2c"/>
<polygon points="632.9,406.6 634.92,406.6 635.92,420.3 633.9,420.3" fill="#4c4b2c"/>
</g>
<rect x="602" y="406.6" width="34" height="13.7" fill="url(#g33)"/>
<rect x="635.6" y="405.4" width="7.8" height="15.6" fill="#3a3c44" rx="1.5"/>
<rect x="643" y="406.6" width="14" height="13.4" fill="url(#g21)"/>
<polygon points="656.5,406 677,406 686.5,410.2 686.5,420.2 677,422.4 656.5,422.4" fill="url(#g21)"/>
<rect x="686" y="410.2" width="90.6" height="10.1" fill="#3d3f48"/>
<g opacity="1.0">
<rect x="687.8" y="410.2" width="2.97" height="10.1" fill="#f4f4f7"/>
<rect x="692.75" y="410.2" width="2.97" height="10.1" fill="#f4f4f7"/>
<rect x="697.7" y="410.2" width="2.97" height="10.1" fill="#f4f4f7"/>
<rect x="702.65" y="410.2" width="2.97" height="10.1" fill="#f4f4f7"/>
<rect x="707.6" y="410.2" width="2.97" height="10.1" fill="#f4f4f7"/>
<rect x="712.55" y="410.2" width="2.97" height="10.1" fill="#f4f4f7"/>
<rect x="717.5" y="410.2" width="2.97" height="10.1" fill="#f4f4f7"/>
<rect x="722.45" y="410.2" width="2.97" height="10.1" fill="#f4f4f7"/>
<rect x="727.4" y="410.2" width="2.97" height="10.1" fill="#f4f4f7"/>
<rect x="732.35" y="410.2" width="2.97" height="10.1" fill="#f4f4f7"/>
<rect x="737.3" y="410.2" width="2.97" height="10.1" fill="#f4f4f7"/>
<rect x="742.25" y="410.2" width="2.97" height="10.1" fill="#f4f4f7"/>
<rect x="747.2" y="410.2" width="2.97" height="10.1" fill="#f4f4f7"/>
<rect x="752.15" y="410.2" width="2.97" height="10.1" fill="#f4f4f7"/>
<rect x="757.1" y="410.2" width="2.97" height="10.1" fill="#f4f4f7"/>
<rect x="762.05" y="410.2" width="2.97" height="10.1" fill="#f4f4f7"/>
<rect x="767" y="410.2" width="2.97" height="10.1" fill="#f4f4f7"/>
<rect x="771.95" y="410.2" width="2.97" height="10.1" fill="#f4f4f7"/>
</g>
<rect x="687" y="410.4" width="89" height="3" fill="#ffffff" opacity="0.45"/>
<rect x="686" y="410.2" width="98" height="10.1" fill="url(#g35)"/>
<rect x="775.6" y="410.2" width="8.4" height="10.1" fill="#75767f" rx="1.5"/>
<rect x="775.6" y="410.2" width="8.4" height="10.1" fill="url(#g37)"/>
<rect x="572" y="420" width="40" height="8" fill="#34353c"/>
<rect x="578" y="426" width="41" height="8" fill="url(#g22)" rx="2"/>
<rect x="576" y="433.8" width="52.5" height="12.8" fill="url(#g21)" rx="3"/>
<rect x="516.5" y="445" width="10" height="35" fill="url(#g38)"/>
<rect x="538" y="445" width="9" height="35" fill="url(#g39)"/>
<polygon points="505,505 514,480 526.5,479 526.5,505" fill="#5c5e6a"/>
<rect x="526.3" y="403" width="11.7" height="124" fill="url(#g40)"/>
<circle cx="532.3" cy="408.6" r="1.8" fill="#202125"/>
<rect x="523" y="399" width="18" height="6.5" fill="#555762" rx="1"/>
<rect x="514" y="508" width="9" height="21.5" fill="#62646f" rx="1.5"/>
<rect x="541" y="508" width="9.5" height="21.5" fill="#62646f" rx="1.5"/>
<rect x="514" y="516" width="9" height="2" fill="#44464e"/>
<rect x="541" y="516" width="9.5" height="2" fill="#44464e"/>
<circle cx="498.3" cy="461.5" r="10" fill="none" stroke="#2a2b30" stroke-width="2.4"/>
<line x1="489" y1="461.5" x2="508" y2="461.5" stroke="#303238" stroke-width="1.4"/>
<line x1="498.3" y1="452" x2="498.3" y2="471" stroke="#303238" stroke-width="1.4"/>
<circle cx="498.3" cy="461.5" r="3.8" fill="#3a3c44"/>
<circle cx="495.5" cy="504" r="6" fill="none" stroke="#2a2b30" stroke-width="1.8"/>
<rect x="504.6" y="364" width="3" height="22" fill="#50525c"/>
<circle cx="506.1" cy="364.6" r="2.1" fill="#555762"/>
<rect x="503.8" y="371" width="4.6" height="2.6" fill="#44464e"/>
<rect x="503.4" y="378" width="5.4" height="3" fill="#44464e"/>
<path d="M560,380.5 L566.6,380.5 C568.5,398 571,410 572.5,418 C577,445 585,478 589.3,499 L555,496 C557.5,455 559.5,420 560,380.5 Z" fill="url(#g41)"/>
</g>
<g filter="url(#soft)">
<rect x="287" y="754" width="16.3" height="25" fill="url(#g42)" rx="3"/>
<rect x="302.7" y="754" width="16.3" height="25" fill="url(#g42)" rx="3"/>
<rect x="302.4" y="758" width="1.2" height="20" fill="#161617"/>
<line x1="288" y1="760" x2="302" y2="760.8" stroke="#1c1c1e" stroke-width="0.7" opacity="0.7"/>
<line x1="304" y1="760.8" x2="318" y2="760" stroke="#1c1c1e" stroke-width="0.7" opacity="0.7"/>
<line x1="288" y1="762.6" x2="302" y2="763.4" stroke="#1c1c1e" stroke-width="0.7" opacity="0.7"/>
<line x1="304" y1="763.4" x2="318" y2="762.6" stroke="#1c1c1e" stroke-width="0.7" opacity="0.7"/>
<line x1="288" y1="765.2" x2="302" y2="766" stroke="#1c1c1e" stroke-width="0.7" opacity="0.7"/>
<line x1="304" y1="766" x2="318" y2="765.2" stroke="#1c1c1e" stroke-width="0.7" opacity="0.7"/>
<line x1="288" y1="767.8" x2="302" y2="768.6" stroke="#1c1c1e" stroke-width="0.7" opacity="0.7"/>
<line x1="304" y1="768.6" x2="318" y2="767.8" stroke="#1c1c1e" stroke-width="0.7" opacity="0.7"/>
<line x1="288" y1="770.4" x2="302" y2="771.2" stroke="#1c1c1e" stroke-width="0.7" opacity="0.7"/>
<line x1="304" y1="771.2" x2="318" y2="770.4" stroke="#1c1c1e" stroke-width="0.7" opacity="0.7"/>
<line x1="288" y1="773" x2="302" y2="773.8" stroke="#1c1c1e" stroke-width="0.7" opacity="0.7"/>
<line x1="304" y1="773.8" x2="318" y2="773" stroke="#1c1c1e" stroke-width="0.7" opacity="0.7"/>
<line x1="288" y1="775.6" x2="302" y2="776.4" stroke="#1c1c1e" stroke-width="0.7" opacity="0.7"/>
<line x1="304" y1="776.4" x2="318" y2="775.6" stroke="#1c1c1e" stroke-width="0.7" opacity="0.7"/>
<rect x="418" y="754" width="16.3" height="25" fill="url(#g43)" rx="3"/>
<rect x="433.7" y="754" width="16.3" height="25" fill="url(#g43)" rx="3"/>
<rect x="433.4" y="758" width="1.2" height="20" fill="#161617"/>
<line x1="419" y1="760" x2="433" y2="760.8" stroke="#1c1c1e" stroke-width="0.7" opacity="0.7"/>
<line x1="435" y1="760.8" x2="449" y2="760" stroke="#1c1c1e" stroke-width="0.7" opacity="0.7"/>
<line x1="419" y1="762.6" x2="433" y2="763.4" stroke="#1c1c1e" stroke-width="0.7" opacity="0.7"/>
<line x1="435" y1="763.4" x2="449" y2="762.6" stroke="#1c1c1e" stroke-width="0.7" opacity="0.7"/>
<line x1="419" y1="765.2" x2="433" y2="766" stroke="#1c1c1e" stroke-width="0.7" opacity="0.7"/>
<line x1="435" y1="766" x2="449" y2="765.2" stroke="#1c1c1e" stroke-width="0.7" opacity="0.7"/>
<line x1="419" y1="767.8" x2="433" y2="768.6" stroke="#1c1c1e" stroke-width="0.7" opacity="0.7"/>
<line x1="435" y1="768.6" x2="449" y2="767.8" stroke="#1c1c1e" stroke-width="0.7" opacity="0.7"/>
<line x1="419" y1="770.4" x2="433" y2="771.2" stroke="#1c1c1e" stroke-width="0.7" opacity="0.7"/>
<line x1="435" y1="771.2" x2="449" y2="770.4" stroke="#1c1c1e" stroke-width="0.7" opacity="0.7"/>
<line x1="419" y1="773" x2="433" y2="773.8" stroke="#1c1c1e" stroke-width="0.7" opacity="0.7"/>
<line x1="435" y1="773.8" x2="449" y2="773" stroke="#1c1c1e" stroke-width="0.7" opacity="0.7"/>
<line x1="419" y1="775.6" x2="433" y2="776.4" stroke="#1c1c1e" stroke-width="0.7" opacity="0.7"/>
<line x1="435" y1="776.4" x2="449" y2="775.6" stroke="#1c1c1e" stroke-width="0.7" opacity="0.7"/>
<polygon points="320,672 414,672 418,700 402,722 400,746 392,750 344,750 335,746 334,722 318,700" fill="#3a3b40"/>
<g clip-path="url(#c12)" opacity="0.8">
<circle cx="322.95" cy="695.98" r="2.62" fill="#77787d"/>
<circle cx="321.41" cy="688.66" r="2.69" fill="#18191b"/>
<circle cx="375.61" cy="706.5" r="2.16" fill="#18191b"/>
<rect x="402.69" y="681.58" width="2.62" height="2.11" fill="#505156" rx="0.5"/>
<rect x="335.85" y="742.32" width="1.9" height="3.53" fill="#77787d" rx="0.5"/>
<rect x="389.18" y="729.55" width="2.4" height="2.25" fill="#505156" rx="0.5"/>
<circle cx="388.68" cy="711.2" r="0.95" fill="#18191b"/>
<rect x="358.26" y="721.83" width="5.81" height="4.73" fill="#66676d" rx="0.5"/>
<circle cx="403.11" cy="742.7" r="1.57" fill="#505156"/>
<rect x="340.56" y="716.67" width="6.1" height="2.5" fill="#66676d" rx="0.5"/>
<circle cx="343.1" cy="714.1" r="2.18" fill="#505156"/>
<circle cx="356" cy="674.49" r="2.36" fill="#18191b"/>
<rect x="386.34" y="687.09" width="3.1" height="3.73" fill="#505156" rx="0.5"/>
<rect x="329.22" y="735.05" width="3.86" height="3.81" fill="#222326" rx="0.5"/>
<rect x="369.73" y="677.55" width="2.66" height="3.73" fill="#18191b" rx="0.5"/>
<circle cx="408.37" cy="679.11" r="2.25" fill="#18191b"/>
<circle cx="392.43" cy="687.35" r="1.27" fill="#18191b"/>
<rect x="339.99" y="742.1" width="6.41" height="4.37" fill="#222326" rx="0.5"/>
<circle cx="337.24" cy="683.76" r="0.82" fill="#66676d"/>
<circle cx="342.33" cy="728.78" r="1.33" fill="#505156"/>
<circle cx="388.17" cy="706.52" r="2.43" fill="#77787d"/>
<circle cx="321.55" cy="675.03" r="0.96" fill="#77787d"/>
<rect x="374.34" y="699.18" width="5.06" height="1.95" fill="#66676d" rx="0.5"/>
<rect x="382.44" y="678.9" width="5.54" height="2.72" fill="#222326" rx="0.5"/>
<circle cx="332.43" cy="679.19" r="2.52" fill="#505156"/>
<rect x="329.51" y="707.71" width="4.23" height="3.32" fill="#505156" rx="0.5"/>
<circle cx="412.12" cy="693.78" r="0.69" fill="#77787d"/>
<circle cx="404.19" cy="710.56" r="0.88" fill="#222326"/>
<circle cx="394.46" cy="715.59" r="2.68" fill="#505156"/>
<rect x="416.6" y="704.15" width="2.44" height="4.36" fill="#77787d" rx="0.5"/>
<circle cx="326.3" cy="715.81" r="1.24" fill="#505156"/>
<rect x="397.55" y="734.73" width="5.76" height="3.24" fill="#222326" rx="0.5"/>
<rect x="377.69" y="725.4" width="6.91" height="1.64" fill="#66676d" rx="0.5"/>
<rect x="407.34" y="672.82" width="5.96" height="3.07" fill="#18191b" rx="0.5"/>
<circle cx="332.68" cy="710.82" r="0.67" fill="#505156"/>
<rect x="337.48" y="688.92" width="3.39" height="1.98" fill="#66676d" rx="0.5"/>
<rect x="405.25" y="674.91" width="1.87" height="1.51" fill="#77787d" rx="0.5"/>
<rect x="379.57" y="687.12" width="6.49" height="4.05" fill="#222326" rx="0.5"/>
<rect x="387.65" y="698.92" width="5.83" height="1.81" fill="#505156" rx="0.5"/>
<rect x="366.58" y="691.69" width="4.21" height="4.13" fill="#66676d" rx="0.5"/>
<rect x="395.97" y="716.77" width="5.6" height="4.33" fill="#18191b" rx="0.5"/>
<rect x="368.01" y="728.59" width="5.02" height="4.69" fill="#77787d" rx="0.5"/>
<rect x="411.6" y="732.68" width="6.7" height="1.89" fill="#66676d" rx="0.5"/>
<rect x="374.95" y="715.15" width="6.16" height="2.32" fill="#18191b" rx="0.5"/>
<rect x="322.85" y="722.26" width="6.63" height="4.52" fill="#18191b" rx="0.5"/>
<circle cx="398.41" cy="702.73" r="2.1" fill="#222326"/>
<rect x="382.6" y="740.63" width="5.2" height="4.19" fill="#18191b" rx="0.5"/>
<rect x="319.62" y="680.45" width="1.52" height="3.16" fill="#18191b" rx="0.5"/>
<rect x="350.73" y="688.34" width="4.83" height="3.06" fill="#66676d" rx="0.5"/>
<rect x="350.9" y="748.61" width="4.06" height="1.61" fill="#505156" rx="0.5"/>
<rect x="397.13" y="681.19" width="3.93" height="3.75" fill="#222326" rx="0.5"/>
<circle cx="350.2" cy="683.56" r="2.57" fill="#505156"/>
<rect x="404.53" y="702.05" width="6.39" height="3.57" fill="#18191b" rx="0.5"/>
<rect x="376.74" y="737.03" width="6.32" height="4.19" fill="#505156" rx="0.5"/>
<rect x="328.29" y="690.64" width="1.55" height="4.4" fill="#77787d" rx="0.5"/>
<rect x="327.95" y="714.36" width="2.88" height="2.7" fill="#77787d" rx="0.5"/>
<rect x="343.05" y="703.61" width="2.24" height="4.06" fill="#77787d" rx="0.5"/>
<rect x="353.47" y="722" width="3.94" height="4.76" fill="#18191b" rx="0.5"/>
<circle cx="381.51" cy="710.06" r="2.38" fill="#222326"/>
<rect x="372.04" y="706.07" width="6.09" height="3.82" fill="#77787d" rx="0.5"/>
<circle cx="321.41" cy="696.71" r="2.2" fill="#505156"/>
<circle cx="336.14" cy="742.49" r="2.66" fill="#77787d"/>
<circle cx="380.98" cy="693.34" r="1.46" fill="#505156"/>
<rect x="413.62" y="721.66" width="4.49" height="2.93" fill="#18191b" rx="0.5"/>
<rect x="405.19" y="696.85" width="6.86" height="2.72" fill="#77787d" rx="0.5"/>
<circle cx="406.58" cy="687.33" r="0.71" fill="#222326"/>
<rect x="348.33" y="676.12" width="5.56" height="2.08" fill="#66676d" rx="0.5"/>
<circle cx="385.35" cy="692.87" r="2.31" fill="#18191b"/>
<rect x="328.67" y="691.91" width="3.26" height="2.99" fill="#18191b" rx="0.5"/>
<rect x="328.92" y="742.77" width="5.86" height="3.11" fill="#77787d" rx="0.5"/>
<circle cx="393.49" cy="695.97" r="2.44" fill="#505156"/>
<circle cx="400.92" cy="703.34" r="1.78" fill="#222326"/>
<circle cx="370.01" cy="693.83" r="1.4" fill="#222326"/>
<rect x="398.29" y="715.72" width="5.74" height="1.64" fill="#66676d" rx="0.5"/>
<rect x="405.05" y="738.18" width="3.48" height="4.83" fill="#222326" rx="0.5"/>
<circle cx="396.66" cy="680.52" r="2.09" fill="#66676d"/>
<rect x="391.32" y="680.96" width="2.47" height="3.96" fill="#18191b" rx="0.5"/>
<rect x="351.03" y="701.83" width="6.67" height="4.02" fill="#66676d" rx="0.5"/>
<circle cx="370.51" cy="711.49" r="1.01" fill="#66676d"/>
<rect x="358.63" y="710.73" width="3.36" height="1.72" fill="#77787d" rx="0.5"/>
<circle cx="374.03" cy="692.96" r="1.87" fill="#505156"/>
<rect x="366.76" y="740.24" width="5.19" height="4.06" fill="#222326" rx="0.5"/>
<rect x="403.22" y="682" width="6.02" height="3.71" fill="#18191b" rx="0.5"/>
<rect x="377.43" y="735.58" width="3.01" height="1.73" fill="#66676d" rx="0.5"/>
<rect x="352.81" y="715.66" width="6.47" height="2.55" fill="#222326" rx="0.5"/>
<rect x="399.62" y="697.08" width="5.35" height="1.75" fill="#222326" rx="0.5"/>
<rect x="366.9" y="746.75" width="5.7" height="3.02" fill="#77787d" rx="0.5"/>
<circle cx="398.28" cy="680.53" r="2.38" fill="#505156"/>
<rect x="369.3" y="689.41" width="6.65" height="4.78" fill="#77787d" rx="0.5"/>
<circle cx="397.8" cy="712.72" r="1.06" fill="#222326"/>
<rect x="344.48" y="700.41" width="2.45" height="4.26" fill="#66676d" rx="0.5"/>
<rect x="368" y="717.08" width="4.72" height="2.86" fill="#505156" rx="0.5"/>
<circle cx="353.96" cy="713.01" r="2.54" fill="#66676d"/>
<rect x="362.46" y="724.58" width="4.13" height="1.95" fill="#77787d" rx="0.5"/>
<circle cx="357.61" cy="693.74" r="1.35" fill="#505156"/>
<rect x="393.24" y="733.02" width="6.44" height="1.56" fill="#505156" rx="0.5"/>
<rect x="400.71" y="694.5" width="2.61" height="4.07" fill="#222326" rx="0.5"/>
<rect x="324.1" y="687.63" width="5.47" height="3.95" fill="#222326" rx="0.5"/>
<rect x="370.42" y="714.38" width="5.03" height="4.04" fill="#505156" rx="0.5"/>
<rect x="328.36" y="728.67" width="3.24" height="2.71" fill="#66676d" rx="0.5"/>
<rect x="394.63" y="698.08" width="1.66" height="3.92" fill="#505156" rx="0.5"/>
<rect x="326.01" y="697.8" width="6.36" height="3.15" fill="#66676d" rx="0.5"/>
<rect x="328.56" y="715.4" width="6.02" height="1.94" fill="#77787d" rx="0.5"/>
<rect x="410.14" y="686.7" width="3.45" height="3.73" fill="#66676d" rx="0.5"/>
<circle cx="388.72" cy="701.39" r="2.76" fill="#18191b"/>
<rect x="376.07" y="701.13" width="1.57" height="2.23" fill="#222326" rx="0.5"/>
<rect x="393.36" y="687.73" width="6.85" height="1.79" fill="#77787d" rx="0.5"/>
<rect x="379.87" y="739.9" width="1.89" height="2.6" fill="#18191b" rx="0.5"/>
<circle cx="337.78" cy="699.39" r="2.59" fill="#222326"/>
<rect x="360.61" y="715.27" width="6.33" height="4.71" fill="#18191b" rx="0.5"/>
<rect x="402.17" y="684.85" width="4.64" height="3.95" fill="#505156" rx="0.5"/>
<rect x="377.35" y="680.97" width="4.08" height="4.49" fill="#18191b" rx="0.5"/>
<rect x="415.77" y="689.58" width="1.85" height="2.31" fill="#18191b" rx="0.5"/>
<circle cx="389.78" cy="721.79" r="2.24" fill="#505156"/>
<rect x="321.68" y="675.69" width="6.87" height="4.23" fill="#505156" rx="0.5"/>
<rect x="322.27" y="714.23" width="6.78" height="4.14" fill="#77787d" rx="0.5"/>
<rect x="319.8" y="730.29" width="2.95" height="2.02" fill="#222326" rx="0.5"/>
<rect x="331.87" y="712.79" width="6.35" height="1.83" fill="#77787d" rx="0.5"/>
<circle cx="406.04" cy="741.56" r="0.83" fill="#222326"/>
<rect x="326.49" y="714.77" width="1.66" height="3.7" fill="#77787d" rx="0.5"/>
</g>
<polygon points="310,621 347,621 347,675 306.5,675" fill="#404146"/>
<g clip-path="url(#c13)" opacity="0.7">
<rect x="308.52" y="649.96" width="6.7" height="1.82" fill="#4f5055" rx="0.5"/>
<rect x="314.33" y="630.76" width="5.86" height="3.8" fill="#5a5b60" rx="0.5"/>
<rect x="331.37" y="631.98" width="4.48" height="2" fill="#4f5055" rx="0.5"/>
<rect x="326.12" y="656.96" width="5.48" height="1.85" fill="#2c2d31" rx="0.5"/>
<rect x="310.25" y="639.93" width="7.02" height="4.98" fill="#4f5055" rx="0.5"/>
<circle cx="328.85" cy="638.49" r="1.37" fill="#2c2d31"/>
<rect x="333.86" y="652.74" width="1.99" height="1.97" fill="#5a5b60" rx="0.5"/>
<rect x="327.5" y="631.83" width="7.89" height="5.29" fill="#5a5b60" rx="0.5"/>
<rect x="308.83" y="659.8" width="2.02" height="1.59" fill="#5a5b60" rx="0.5"/>
<rect x="338.98" y="630.42" width="7.02" height="3.27" fill="#4f5055" rx="0.5"/>
<rect x="317.76" y="639.38" width="6.09" height="2.54" fill="#4f5055" rx="0.5"/>
<rect x="343.63" y="655.71" width="2.55" height="2.17" fill="#4f5055" rx="0.5"/>
<circle cx="334.37" cy="635.04" r="2.78" fill="#2c2d31"/>
<circle cx="327.17" cy="639.75" r="2" fill="#4f5055"/>
<circle cx="319.26" cy="625.18" r="2.6" fill="#2c2d31"/>
<circle cx="329.74" cy="640.31" r="2.75" fill="#5a5b60"/>
<rect x="308.54" y="656.04" width="4.48" height="2.37" fill="#2c2d31" rx="0.5"/>
<rect x="333.01" y="670.7" width="4.15" height="5.25" fill="#2c2d31" rx="0.5"/>
<rect x="341.08" y="657.93" width="2.92" height="4.6" fill="#4f5055" rx="0.5"/>
<rect x="322.5" y="657.33" width="7.93" height="2.22" fill="#5a5b60" rx="0.5"/>
<rect x="319.77" y="671.38" width="3.35" height="3.1" fill="#2c2d31" rx="0.5"/>
<circle cx="344.18" cy="654.91" r="1.14" fill="#5a5b60"/>
<circle cx="321.96" cy="625.14" r="0.78" fill="#5a5b60"/>
<rect x="312.15" y="626.93" width="1.59" height="2.98" fill="#4f5055" rx="0.5"/>
<circle cx="341.57" cy="644.15" r="1.93" fill="#2c2d31"/>
</g>
<polygon points="373,620 424,620 428.5,675 373,675" fill="#3e3f44"/>
<g clip-path="url(#c14)" opacity="0.7">
<rect x="382.26" y="672.26" width="4.07" height="4.36" fill="#2a2b2f" rx="0.5"/>
<circle cx="383.97" cy="640.79" r="1.8" fill="#4f5055"/>
<circle cx="391.14" cy="653.45" r="1.14" fill="#4f5055"/>
<circle cx="409.03" cy="636.42" r="0.83" fill="#5a5b60"/>
<rect x="426.34" y="640.7" width="2.43" height="1.9" fill="#2a2b2f" rx="0.5"/>
<rect x="373.8" y="666.14" width="2.95" height="1.77" fill="#4f5055" rx="0.5"/>
<rect x="382.45" y="639.63" width="3.81" height="3.72" fill="#5a5b60" rx="0.5"/>
<circle cx="420.29" cy="668.09" r="1.03" fill="#4f5055"/>
<rect x="384.99" y="630.22" width="3.98" height="4.64" fill="#4f5055" rx="0.5"/>
<circle cx="419.41" cy="634.13" r="2.82" fill="#2a2b2f"/>
<rect x="385.35" y="621.54" width="5.81" height="4.93" fill="#1f2023" rx="0.5"/>
<rect x="399.77" y="641.49" width="2.21" height="3.78" fill="#1f2023" rx="0.5"/>
<circle cx="396.86" cy="626.36" r="1.05" fill="#2a2b2f"/>
<rect x="391.05" y="623.08" width="4.39" height="2.48" fill="#4f5055" rx="0.5"/>
<circle cx="427.04" cy="669.2" r="1.16" fill="#1f2023"/>
<circle cx="385.39" cy="629.07" r="3.05" fill="#5a5b60"/>
<circle cx="423.34" cy="644.76" r="0.82" fill="#4f5055"/>
<circle cx="383.94" cy="655.53" r="1.78" fill="#5a5b60"/>
<rect x="386.5" y="647.15" width="6.07" height="3.45" fill="#2a2b2f" rx="0.5"/>
<rect x="407.05" y="661.86" width="5.96" height="1.63" fill="#4f5055" rx="0.5"/>
<rect x="424.32" y="658.95" width="2.44" height="4.79" fill="#5a5b60" rx="0.5"/>
<rect x="373.82" y="644.22" width="5.73" height="4.37" fill="#2a2b2f" rx="0.5"/>
<rect x="423.71" y="665.04" width="7.03" height="2.67" fill="#5a5b60" rx="0.5"/>
<rect x="394.25" y="655.53" width="5.29" height="5.35" fill="#2a2b2f" rx="0.5"/>
<rect x="392.87" y="666.17" width="4.65" height="1.77" fill="#1f2023" rx="0.5"/>
<rect x="383.4" y="644.65" width="2.88" height="5.21" fill="#5a5b60" rx="0.5"/>
<circle cx="424.2" cy="637.31" r="1.79" fill="#1f2023"/>
<rect x="403.37" y="660.66" width="4.18" height="4.41" fill="#4f5055" rx="0.5"/>
<circle cx="387.12" cy="644.07" r="0.6" fill="#1f2023"/>
<rect x="424.82" y="628.05" width="3.06" height="1.99" fill="#4f5055" rx="0.5"/>
<circle cx="413.91" cy="628.99" r="0.95" fill="#1f2023"/>
<rect x="394.61" y="667.37" width="5.31" height="3.35" fill="#4f5055" rx="0.5"/>
<rect x="421.65" y="641.9" width="7.72" height="2.6" fill="#2a2b2f" rx="0.5"/>
<rect x="420.08" y="623.69" width="6.83" height="5.47" fill="#4f5055" rx="0.5"/>
<rect x="418.31" y="662.91" width="4.23" height="3.67" fill="#2a2b2f" rx="0.5"/>
</g>
<polyline points="322,626 324,631 342,639 344,650" fill="none" stroke="#66676d" stroke-width="1.6"/>
<polyline points="407,626 405,631 390,638 386,650" fill="none" stroke="#66676d" stroke-width="1.6"/>
<line x1="314" y1="640" x2="317" y2="672" stroke="#56575d" stroke-width="1.5"/>
<line x1="419" y1="640" x2="417" y2="672" stroke="#56575d" stroke-width="1.5"/>
<rect x="311" y="624" width="7" height="10" fill="#4a4b51"/>
<rect x="416" y="624" width="7" height="10" fill="#4a4b51"/>
<polygon points="347,630 352,624 360,620 368,620 373,626 375,640 375,670 347,670" fill="#45464c"/>
<g clip-path="url(#c15)" opacity="0.8">
<rect x="364.76" y="637.94" width="3.75" height="2.93" fill="#5e5f66" rx="0.5"/>
<rect x="356.9" y="662.03" width="4.16" height="2.18" fill="#6c6d74" rx="0.5"/>
<rect x="353.78" y="659.43" width="3.35" height="4.08" fill="#2a2b2f" rx="0.5"/>
<rect x="367.94" y="620.46" width="3.62" height="3.31" fill="#1f2023" rx="0.5"/>
<rect x="369.72" y="642.33" width="4.92" height="4.08" fill="#6c6d74" rx="0.5"/>
<rect x="372.6" y="630.08" width="2.55" height="2.66" fill="#1f2023" rx="0.5"/>
<rect x="356.99" y="654.17" width="2.1" height="3.52" fill="#1f2023" rx="0.5"/>
<circle cx="352.68" cy="630.55" r="1.98" fill="#6c6d74"/>
<rect x="363.08" y="651.06" width="3.79" height="3.89" fill="#1f2023" rx="0.5"/>
<rect x="355.94" y="654.14" width="5.74" height="3.06" fill="#1f2023" rx="0.5"/>
<rect x="364.2" y="657.74" width="5.15" height="3.37" fill="#1f2023" rx="0.5"/>
<rect x="367.96" y="650.96" width="5.83" height="3.57" fill="#5e5f66" rx="0.5"/>
<circle cx="366.21" cy="634.74" r="2.34" fill="#6c6d74"/>
<circle cx="365.05" cy="657.29" r="0.72" fill="#2a2b2f"/>
<rect x="366.75" y="633.22" width="1.57" height="2.94" fill="#2a2b2f" rx="0.5"/>
<circle cx="353.31" cy="628.53" r="2.11" fill="#5e5f66"/>
<rect x="347.5" y="625.47" width="4.7" height="4.17" fill="#2a2b2f" rx="0.5"/>
<rect x="361.06" y="635.62" width="2.17" height="2.41" fill="#1f2023" rx="0.5"/>
<circle cx="370.44" cy="632.88" r="2.17" fill="#6c6d74"/>
<rect x="353.8" y="658.25" width="4.31" height="3.38" fill="#6c6d74" rx="0.5"/>
<rect x="371.29" y="647.46" width="3.71" height="2.01" fill="#2a2b2f" rx="0.5"/>
<rect x="354.49" y="620.81" width="5.28" height="2.64" fill="#6c6d74" rx="0.5"/>
<rect x="361.92" y="629.4" width="5.11" height="1.75" fill="#1f2023" rx="0.5"/>
<circle cx="349.38" cy="652.47" r="2.02" fill="#1f2023"/>
<rect x="349.89" y="650.72" width="2.37" height="3.07" fill="#5e5f66" rx="0.5"/>
<rect x="355.67" y="622.77" width="3.76" height="2.91" fill="#5e5f66" rx="0.5"/>
<rect x="364.12" y="653.77" width="2.49" height="2.29" fill="#5e5f66" rx="0.5"/>
<circle cx="364.75" cy="632.73" r="0.97" fill="#5e5f66"/>
<rect x="365.45" y="653.24" width="3.58" height="2.41" fill="#6c6d74" rx="0.5"/>
<circle cx="367.2" cy="635.41" r="1.54" fill="#6c6d74"/>
</g>
<rect x="354" y="629" width="18" height="23" fill="#5d5e65" rx="3"/>
<rect x="357" y="633" width="12" height="15" fill="#4b4c52" rx="1"/>
<ellipse cx="356" cy="628" rx="3" ry="4" fill="#d8d8dc" opacity="0.55"/>
<polygon points="358,620 370,620 366,612 362,612" fill="#4a4b51"/>
<rect x="347" y="662" width="37" height="28" fill="#3d3e44"/>
<rect x="360" y="655" width="8" height="17" fill="#55565c"/>
<rect x="364.6" y="599" width="2.4" height="22" fill="#4f5056"/>
<circle cx="365.8" cy="599.4" r="1.8" fill="#55565c"/>
<rect x="363.6" y="605.5" width="4.4" height="2" fill="#46474d"/>
<rect x="363" y="612" width="5.6" height="2.6" fill="#46474d"/>
<rect x="298" y="672" width="19.5" height="23" fill="url(#g44)"/>
<rect x="295" y="669" width="4.5" height="29" fill="#5a5b63" rx="2"/>
<rect x="316" y="669" width="4.5" height="29" fill="#5a5b63" rx="2"/>
<rect x="296.2" y="671" width="2.1" height="25" fill="#3a3b40" rx="1"/>
<rect x="317.2" y="671" width="2.1" height="25" fill="#3a3b40" rx="1"/>
<rect x="417" y="672" width="20" height="23" fill="url(#g45)"/>
<rect x="414" y="669" width="4.5" height="29" fill="#5a5b63" rx="2"/>
<rect x="435.5" y="669" width="4.5" height="29" fill="#5a5b63" rx="2"/>
<rect x="415.2" y="671" width="2.1" height="25" fill="#3a3b40" rx="1"/>
<rect x="436.7" y="671" width="2.1" height="25" fill="#3a3b40" rx="1"/>
<rect x="327" y="674" width="15" height="16" fill="#4c4d53" rx="1"/>
<rect x="329" y="676" width="11" height="6" fill="#5c5d63"/>
<polygon points="287,706 296,703 334,704 336,720 287,722" fill="url(#g46)"/>
<polygon points="400,706 442,704 450,706 450,722 400,722" fill="url(#g47)"/>
<rect x="286" y="700" width="4" height="12" fill="#3a3b40"/>
<rect x="446" y="698" width="5" height="14" fill="#3a3b40"/>
<line x1="378" y1="698" x2="447" y2="710" stroke="#4a4b51" stroke-width="3"/>
<line x1="384" y1="706" x2="447" y2="714" stroke="#34353a" stroke-width="2.5"/>
<line x1="392" y1="696" x2="432" y2="700" stroke="#55565c" stroke-width="2"/>
<ellipse cx="366" cy="700" rx="10" ry="7" fill="#5a5b60"/>
<ellipse cx="377" cy="712" rx="7" ry="6" fill="#3c3d42"/>
<ellipse cx="352" cy="706" rx="6" ry="5" fill="#45464b"/>
<rect x="361" y="727" width="10" height="21" fill="#66676c" rx="2"/>
<rect x="358" y="742" width="16" height="14" fill="#4c4d52" rx="2"/>
<rect x="336" y="744" width="64" height="5" fill="#2a2b2f"/>
<path d="M284,756 L284,727.5 Q284,720.5 292,720.5 L327.5,720.5 Q335.5,720.5 335.5,727.5 L335.5,756 Z" fill="url(#g48)"/>
<rect x="284" y="720.5" width="51.5" height="35.5" fill="url(#g49)" rx="6" opacity="0.10"/>
<path d="M400,756 L400,727.5 Q400,720.5 408,720.5 L443.5,720.5 Q451.5,720.5 451.5,727.5 L451.5,756 Z" fill="url(#g50)"/>
<rect x="400" y="720.5" width="51.5" height="35.5" fill="url(#g51)" rx="6" opacity="0.10"/>
<rect x="300" y="736" width="11" height="14" fill="#4a4b51" rx="1"/>
<polyline points="286,722 300,720 334,722" fill="none" stroke="#2e2f33" stroke-width="1.6"/>
<polyline points="401,722 436,720 450,722" fill="none" stroke="#2e2f33" stroke-width="1.6"/>
</g>
<g filter="url(#soft2)">
<text x="437.9" y="742.2" font-family="&quot;Liberation Sans&quot;, sans-serif" font-size="16.5" font-weight="normal" fill="#f4f4f4" text-anchor="middle" stroke="#f4f4f4" stroke-width="0.3">C</text>
</g>
<g filter="url(#soft)">
<rect x="554" y="761" width="16.3" height="19" fill="url(#g52)" rx="3"/>
<rect x="569.7" y="761" width="16.3" height="19" fill="url(#g52)" rx="3"/>
<rect x="569.4" y="765" width="1.2" height="14" fill="#161617"/>
<line x1="555" y1="767" x2="569" y2="767.8" stroke="#1c1c1e" stroke-width="0.7" opacity="0.7"/>
<line x1="571" y1="767.8" x2="585" y2="767" stroke="#1c1c1e" stroke-width="0.7" opacity="0.7"/>
<line x1="555" y1="769.6" x2="569" y2="770.4" stroke="#1c1c1e" stroke-width="0.7" opacity="0.7"/>
<line x1="571" y1="770.4" x2="585" y2="769.6" stroke="#1c1c1e" stroke-width="0.7" opacity="0.7"/>
<line x1="555" y1="772.2" x2="569" y2="773" stroke="#1c1c1e" stroke-width="0.7" opacity="0.7"/>
<line x1="571" y1="773" x2="585" y2="772.2" stroke="#1c1c1e" stroke-width="0.7" opacity="0.7"/>
<line x1="555" y1="774.8" x2="569" y2="775.6" stroke="#1c1c1e" stroke-width="0.7" opacity="0.7"/>
<line x1="571" y1="775.6" x2="585" y2="774.8" stroke="#1c1c1e" stroke-width="0.7" opacity="0.7"/>
<line x1="555" y1="777.4" x2="569" y2="778.2" stroke="#1c1c1e" stroke-width="0.7" opacity="0.7"/>
<line x1="571" y1="778.2" x2="585" y2="777.4" stroke="#1c1c1e" stroke-width="0.7" opacity="0.7"/>
<rect x="682" y="761" width="16.05" height="19" fill="url(#g53)" rx="3"/>
<rect x="697.45" y="761" width="16.05" height="19" fill="url(#g53)" rx="3"/>
<rect x="697.15" y="765" width="1.2" height="14" fill="#161617"/>
<line x1="683" y1="767" x2="696.75" y2="767.8" stroke="#1c1c1e" stroke-width="0.7" opacity="0.7"/>
<line x1="698.75" y1="767.8" x2="712.5" y2="767" stroke="#1c1c1e" stroke-width="0.7" opacity="0.7"/>
<line x1="683" y1="769.6" x2="696.75" y2="770.4" stroke="#1c1c1e" stroke-width="0.7" opacity="0.7"/>
<line x1="698.75" y1="770.4" x2="712.5" y2="769.6" stroke="#1c1c1e" stroke-width="0.7" opacity="0.7"/>
<line x1="683" y1="772.2" x2="696.75" y2="773" stroke="#1c1c1e" stroke-width="0.7" opacity="0.7"/>
<line x1="698.75" y1="773" x2="712.5" y2="772.2" stroke="#1c1c1e" stroke-width="0.7" opacity="0.7"/>
<line x1="683" y1="774.8" x2="696.75" y2="775.6" stroke="#1c1c1e" stroke-width="0.7" opacity="0.7"/>
<line x1="698.75" y1="775.6" x2="712.5" y2="774.8" stroke="#1c1c1e" stroke-width="0.7" opacity="0.7"/>
<line x1="683" y1="777.4" x2="696.75" y2="778.2" stroke="#1c1c1e" stroke-width="0.7" opacity="0.7"/>
<line x1="698.75" y1="778.2" x2="712.5" y2="777.4" stroke="#1c1c1e" stroke-width="0.7" opacity="0.7"/>
<polygon points="588,676 680,676 684,706 714,708 714,730 668,732 667,750 640,754 600,750 600,732 553,730 553,710 586,706" fill="#41444d"/>
<g clip-path="url(#c16)" opacity="0.8">
<circle cx="700.98" cy="743.54" r="1.73" fill="#18191b"/>
<rect x="667.48" y="742.04" width="3.26" height="4.17" fill="#18191b" rx="0.5"/>
<circle cx="564.08" cy="705.83" r="2.31" fill="#18191b"/>
<rect x="624.06" y="741.1" width="5.92" height="3.25" fill="#18191b" rx="0.5"/>
<circle cx="700.69" cy="747.44" r="1.42" fill="#747783"/>
<circle cx="698.87" cy="686.26" r="2.29" fill="#747783"/>
<rect x="600.69" y="681.22" width="4.06" height="3.61" fill="#676a76" rx="0.5"/>
<circle cx="568.05" cy="749.79" r="0.79" fill="#222327"/>
<circle cx="636.61" cy="729.29" r="2.6" fill="#676a76"/>
<rect x="579.85" y="689.17" width="4.43" height="4.33" fill="#18191b" rx="0.5"/>
<circle cx="625.95" cy="717.8" r="1.4" fill="#222327"/>
<rect x="696.06" y="711.8" width="5.57" height="4.53" fill="#565964" rx="0.5"/>
<rect x="667.18" y="732.12" width="3.09" height="3.08" fill="#565964" rx="0.5"/>
<circle cx="689.82" cy="715.2" r="2.61" fill="#565964"/>
<rect x="663.44" y="750.06" width="4.32" height="4.27" fill="#747783" rx="0.5"/>
<circle cx="607.58" cy="690.25" r="0.98" fill="#18191b"/>
<rect x="608.09" y="736.52" width="1.5" height="2.29" fill="#676a76" rx="0.5"/>
<rect x="604.6" y="740.17" width="6.45" height="4.74" fill="#676a76" rx="0.5"/>
<circle cx="615.88" cy="697.64" r="1.26" fill="#565964"/>
<rect x="674.92" y="719.07" width="5.22" height="4.07" fill="#565964" rx="0.5"/>
<rect x="693.97" y="689.23" width="5.04" height="1.68" fill="#565964" rx="0.5"/>
<circle cx="613.74" cy="739.93" r="1.16" fill="#565964"/>
<rect x="561.68" y="744.19" width="5.42" height="3.78" fill="#565964" rx="0.5"/>
<rect x="701.09" y="733.32" width="6.33" height="1.97" fill="#747783" rx="0.5"/>
<rect x="640.71" y="710.53" width="1.76" height="4.46" fill="#676a76" rx="0.5"/>
<circle cx="686.12" cy="731.42" r="1.62" fill="#676a76"/>
<rect x="557.16" y="737.09" width="2.05" height="2.61" fill="#565964" rx="0.5"/>
<rect x="561.33" y="741.7" width="4.88" height="3.19" fill="#18191b" rx="0.5"/>
<rect x="654.5" y="743.95" width="4.12" height="2.79" fill="#747783" rx="0.5"/>
<rect x="602.15" y="742.42" width="6.45" height="3.99" fill="#747783" rx="0.5"/>
<rect x="695.11" y="681.17" width="4.8" height="4.89" fill="#18191b" rx="0.5"/>
<rect x="585.82" y="703.58" width="6.34" height="3.76" fill="#676a76" rx="0.5"/>
<rect x="656.74" y="719.07" width="5.12" height="4.43" fill="#18191b" rx="0.5"/>
<circle cx="621.29" cy="683.02" r="1.55" fill="#747783"/>
<rect x="569.13" y="736.32" width="4.33" height="4.03" fill="#747783" rx="0.5"/>
<rect x="711.44" y="708.83" width="2.7" height="4.5" fill="#18191b" rx="0.5"/>
<rect x="605.37" y="751.9" width="1.92" height="2.92" fill="#747783" rx="0.5"/>
<rect x="632.92" y="727.02" width="2.53" height="3.36" fill="#565964" rx="0.5"/>
<rect x="696.29" y="688.44" width="3.58" height="4.33" fill="#222327" rx="0.5"/>
<circle cx="690.86" cy="703.48" r="1.81" fill="#222327"/>
<rect x="696.95" y="744.79" width="1.63" height="3.21" fill="#565964" rx="0.5"/>
<rect x="575.66" y="724.15" width="6.63" height="3.4" fill="#222327" rx="0.5"/>
<rect x="596.77" y="708.28" width="4.81" height="2.38" fill="#747783" rx="0.5"/>
<rect x="681.51" y="744.59" width="1.8" height="4.13" fill="#565964" rx="0.5"/>
<circle cx="635.46" cy="689.48" r="1.12" fill="#747783"/>
<rect x="666.89" y="684.3" width="6.3" height="4.82" fill="#18191b" rx="0.5"/>
<rect x="685.71" y="747.04" width="5.41" height="2.43" fill="#222327" rx="0.5"/>
<rect x="692.18" y="744.02" width="1.51" height="4.46" fill="#747783" rx="0.5"/>
<rect x="655.1" y="752.29" width="2.28" height="3.06" fill="#676a76" rx="0.5"/>
<rect x="589.03" y="741.68" width="5.47" height="4.89" fill="#676a76" rx="0.5"/>
<rect x="587.83" y="682.54" width="3.17" height="2.05" fill="#565964" rx="0.5"/>
<rect x="619.78" y="740.46" width="2.18" height="2.51" fill="#747783" rx="0.5"/>
<rect x="584.21" y="721.26" width="6.7" height="3.1" fill="#565964" rx="0.5"/>
<rect x="614.2" y="681.34" width="2.78" height="2.7" fill="#222327" rx="0.5"/>
<rect x="662.88" y="706.04" width="3.84" height="2.7" fill="#565964" rx="0.5"/>
<rect x="559.58" y="735.87" width="6.09" height="3.36" fill="#18191b" rx="0.5"/>
<circle cx="616.67" cy="708.74" r="1.99" fill="#676a76"/>
<rect x="553.62" y="728.16" width="5.09" height="4.04" fill="#676a76" rx="0.5"/>
<rect x="643.94" y="692.85" width="3.69" height="2.61" fill="#565964" rx="0.5"/>
<rect x="571.37" y="745.06" width="3.71" height="2.12" fill="#222327" rx="0.5"/>
<rect x="596.41" y="715.89" width="5.94" height="3" fill="#222327" rx="0.5"/>
<circle cx="654.49" cy="712.09" r="1.77" fill="#676a76"/>
<circle cx="688.91" cy="677.28" r="1.94" fill="#18191b"/>
<rect x="554.9" y="743.9" width="5.96" height="3.64" fill="#676a76" rx="0.5"/>
<rect x="556.48" y="690.69" width="2.38" height="3.85" fill="#222327" rx="0.5"/>
<rect x="588.05" y="709.5" width="2.27" height="2.56" fill="#222327" rx="0.5"/>
<rect x="702.87" y="717.7" width="5.46" height="4.6" fill="#222327" rx="0.5"/>
<rect x="559.37" y="713.68" width="2.32" height="4.35" fill="#18191b" rx="0.5"/>
<circle cx="581.45" cy="685.61" r="1.99" fill="#676a76"/>
<circle cx="556.49" cy="730.57" r="0.72" fill="#565964"/>
<rect x="650.36" y="727.74" width="2.39" height="2.12" fill="#565964" rx="0.5"/>
<rect x="614.59" y="695.38" width="6.88" height="2.98" fill="#565964" rx="0.5"/>
<rect x="697.2" y="688.6" width="1.63" height="3.79" fill="#565964" rx="0.5"/>
<rect x="623.63" y="723.37" width="4.94" height="3.73" fill="#222327" rx="0.5"/>
<rect x="555.19" y="709.25" width="4.51" height="4.51" fill="#222327" rx="0.5"/>
<rect x="703.3" y="741.81" width="3.35" height="2.85" fill="#747783" rx="0.5"/>
<rect x="577.89" y="725.16" width="4.23" height="3.84" fill="#747783" rx="0.5"/>
<rect x="553.89" y="736.95" width="5.82" height="3.25" fill="#18191b" rx="0.5"/>
<rect x="658.85" y="701.57" width="2.54" height="2.79" fill="#18191b" rx="0.5"/>
<rect x="602.89" y="704.7" width="6.61" height="3.59" fill="#676a76" rx="0.5"/>
<rect x="651.13" y="676.33" width="2.66" height="3.76" fill="#747783" rx="0.5"/>
<rect x="594.8" y="722.4" width="3.25" height="4.08" fill="#565964" rx="0.5"/>
<rect x="689.28" y="750.78" width="4.5" height="4.74" fill="#18191b" rx="0.5"/>
<rect x="673.37" y="720.14" width="5.66" height="2.01" fill="#676a76" rx="0.5"/>
<rect x="566.88" y="734.8" width="3.85" height="4.67" fill="#222327" rx="0.5"/>
<circle cx="621.72" cy="743.27" r="2.53" fill="#676a76"/>
<circle cx="558.67" cy="739.93" r="1.59" fill="#676a76"/>
<rect x="611.71" y="746.63" width="5.1" height="2.44" fill="#747783" rx="0.5"/>
<rect x="681.61" y="733.86" width="3.85" height="3.44" fill="#18191b" rx="0.5"/>
<rect x="664.14" y="748.92" width="3.25" height="3.82" fill="#222327" rx="0.5"/>
<rect x="561.56" y="751.2" width="2.3" height="3.81" fill="#747783" rx="0.5"/>
<rect x="687.23" y="741.76" width="6.66" height="2.7" fill="#676a76" rx="0.5"/>
<circle cx="566.92" cy="741.08" r="0.67" fill="#222327"/>
<circle cx="565.77" cy="698.05" r="1.92" fill="#747783"/>
<circle cx="572.2" cy="690.11" r="0.9" fill="#747783"/>
<circle cx="588.66" cy="740.93" r="0.96" fill="#565964"/>
<rect x="695.98" y="723.11" width="6.52" height="2.25" fill="#222327" rx="0.5"/>
<rect x="623.43" y="683.45" width="4.43" height="4.41" fill="#18191b" rx="0.5"/>
<rect x="589.75" y="711.21" width="5.25" height="4.03" fill="#747783" rx="0.5"/>
<rect x="660.85" y="718.65" width="6.58" height="2.05" fill="#18191b" rx="0.5"/>
<rect x="627.07" y="746.67" width="6.53" height="4.56" fill="#747783" rx="0.5"/>
<rect x="646.55" y="688.31" width="4.55" height="4.09" fill="#222327" rx="0.5"/>
<rect x="575.12" y="720.01" width="6.78" height="4.84" fill="#676a76" rx="0.5"/>
<rect x="557.55" y="691.69" width="4.51" height="2.57" fill="#222327" rx="0.5"/>
<rect x="676.7" y="747.88" width="4" height="2.76" fill="#676a76" rx="0.5"/>
<rect x="704.09" y="727.14" width="6.61" height="2.17" fill="#565964" rx="0.5"/>
<circle cx="706.71" cy="694.74" r="1.93" fill="#747783"/>
<rect x="585.97" y="714.72" width="1.55" height="3.38" fill="#222327" rx="0.5"/>
<rect x="598.76" y="683.76" width="2.8" height="1.88" fill="#565964" rx="0.5"/>
<rect x="560.79" y="708.95" width="5.42" height="1.51" fill="#676a76" rx="0.5"/>
<rect x="618.97" y="745.71" width="4.63" height="1.53" fill="#747783" rx="0.5"/>
<circle cx="710.86" cy="745.12" r="1" fill="#565964"/>
<rect x="691.84" y="715.59" width="6.63" height="2.41" fill="#676a76" rx="0.5"/>
<circle cx="557.28" cy="721.08" r="1.45" fill="#18191b"/>
<rect x="576.4" y="703.97" width="5.6" height="2.42" fill="#222327" rx="0.5"/>
<rect x="651.18" y="725.37" width="6.97" height="4.88" fill="#565964" rx="0.5"/>
<circle cx="699.36" cy="704.5" r="1.4" fill="#747783"/>
<rect x="647.06" y="737.66" width="2.37" height="2.01" fill="#565964" rx="0.5"/>
<rect x="631.8" y="711.72" width="4.62" height="1.83" fill="#222327" rx="0.5"/>
<circle cx="700.75" cy="676.44" r="1.12" fill="#676a76"/>
<circle cx="615" cy="701.65" r="0.8" fill="#222327"/>
<rect x="624.7" y="714.15" width="5.19" height="4.34" fill="#222327" rx="0.5"/>
<rect x="566.13" y="701.58" width="2.5" height="1.74" fill="#222327" rx="0.5"/>
<circle cx="564.87" cy="735.18" r="0.77" fill="#18191b"/>
<rect x="604.83" y="745.82" width="2.35" height="2.54" fill="#747783" rx="0.5"/>
<rect x="572.56" y="741.4" width="2.41" height="1.65" fill="#565964" rx="0.5"/>
<rect x="559.26" y="679.67" width="5.85" height="2.47" fill="#747783" rx="0.5"/>
<circle cx="579.61" cy="727.14" r="2.18" fill="#18191b"/>
<circle cx="627.27" cy="729.91" r="1.6" fill="#18191b"/>
<circle cx="598.78" cy="703.81" r="1.5" fill="#565964"/>
</g>
<polygon points="579,619 628,619 628,694 575,694" fill="url(#g54)"/>
<polygon points="653,620 689,620 691.5,690 653,702" fill="url(#g54)"/>
<rect x="579" y="619" width="49" height="2" fill="#4e4f57"/>
<rect x="653" y="620" width="36" height="2" fill="#4e4f57"/>
<polyline points="586,631 610,630 604,658 592,658 586,631" fill="none" stroke="#4c4d55" stroke-width="1.3"/>
<rect x="594" y="654" width="8" height="6" fill="#55565e"/>
</g>
<g filter="url(#soft2)">
<path d="M658.4,638.4 L658.2,636.6 L659.6,635.5 L661.3,635.2 L657.6,633.6 L657.9,633 L662.2,634.2 L663,633 L666.6,633 L667.8,635.2 L669.2,635.6 L670,637 L669.6,638.4 Z" fill="#f8f8f8"/>
<path d="M679.2,632.3 L680,633.4 L680.2,634.4 L684.6,634.8 L684.6,636.3 L680.2,636.5 L680,639 L681.4,639.4 L681.4,640.3 L677,640.3 L677,639.4 L678.4,639 L678.2,636.5 L673.8,636.3 L673.8,634.8 L678.2,634.4 L678.4,633.4 Z" fill="#f8f8f8"/>
</g>
<g filter="url(#soft)">
<rect x="624" y="650" width="20" height="46" fill="#4a4c55"/>
<rect x="628" y="656" width="12" height="38" fill="#3a3c44"/>
<ellipse cx="633.6" cy="630" rx="6" ry="7" fill="#55565f"/>
<ellipse cx="636" cy="652" rx="9" ry="16" fill="#44464e"/>
<circle cx="633.6" cy="642.4" r="8.8" fill="url(#g55)"/>
<circle cx="633.6" cy="642.4" r="3.6" fill="#101113"/>
<polygon points="640,628 650,636 651,652 645,656 642,640" fill="#2e2f35"/>
<circle cx="621" cy="668.5" r="5.5" fill="#3c3e46"/>
<circle cx="621" cy="668.5" r="3" fill="#2a2b30"/>
<circle cx="647" cy="669" r="6.8" fill="#3f4149"/>
<circle cx="647" cy="669" r="4" fill="#2c2d33"/>
<line x1="626" y1="660" x2="628" y2="698" stroke="#4f515b" stroke-width="2"/>
<line x1="640" y1="660" x2="642" y2="698" stroke="#4f515b" stroke-width="2"/>
<rect x="632.8" y="607" width="2.4" height="15" fill="#4f5059"/>
<circle cx="634" cy="607.2" r="1.8" fill="#555760"/>
<rect x="631.8" y="612" width="4.4" height="2" fill="#46474f"/>
<rect x="631.4" y="617" width="5.2" height="2.4" fill="#46474f"/>
<rect x="566" y="677" width="18.5" height="26" fill="url(#g56)"/>
<rect x="563" y="674" width="4.5" height="32" fill="#565862" rx="2"/>
<rect x="583" y="674" width="4.5" height="32" fill="#565862" rx="2"/>
<rect x="564.2" y="676" width="2.1" height="28" fill="#3a3b40" rx="1"/>
<rect x="584.2" y="676" width="2.1" height="28" fill="#3a3b40" rx="1"/>
<rect x="681" y="677" width="19.5" height="26" fill="url(#g57)"/>
<rect x="678" y="674" width="4.5" height="32" fill="#565862" rx="2"/>
<rect x="699" y="674" width="4.5" height="32" fill="#565862" rx="2"/>
<rect x="679.2" y="676" width="2.1" height="28" fill="#3a3b40" rx="1"/>
<rect x="700.2" y="676" width="2.1" height="28" fill="#3a3b40" rx="1"/>
<polyline points="597,676 619,675 622,700" fill="none" stroke="#70727d" stroke-width="1.2"/>
<polyline points="594,690 600,687 622,687" fill="none" stroke="#7a7c87" stroke-width="1.5"/>
<line x1="597" y1="676" x2="597" y2="700" stroke="#70727d" stroke-width="1.1"/>
<line x1="608" y1="676" x2="609" y2="700" stroke="#686a75" stroke-width="0.9"/>
<rect x="600" y="697" width="18" height="5" fill="#62646f"/>
<polygon points="553,708 560,706 598,706 600,730 553,730" fill="url(#g58)"/>
<rect x="552" y="704" width="4" height="12" fill="#34353b"/>
<rect x="710" y="702" width="5" height="14" fill="#34353b"/>
<line x1="640" y1="702" x2="712" y2="714" stroke="#50525c" stroke-width="3"/>
<line x1="636" y1="712" x2="708" y2="718" stroke="#3a3c44" stroke-width="2.6"/>
<line x1="650" y1="698" x2="690" y2="702" stroke="#5a5c66" stroke-width="2"/>
<ellipse cx="632" cy="708" rx="9" ry="6" fill="#565862"/>
<ellipse cx="640" cy="718" rx="7" ry="5" fill="#3f4149"/>
<rect x="627" y="742" width="9" height="24" fill="#54565f" rx="2"/>
<rect x="624" y="740" width="16" height="10" fill="#44464e" rx="2"/>
<line x1="636" y1="756" x2="666" y2="752" stroke="#3a3c44" stroke-width="2"/>
<rect x="611" y="746" width="3" height="7" fill="#e8e8ea"/>
<rect x="649" y="746" width="3" height="7" fill="#e8e8ea"/>
<path d="M551,764 L551,735.5 Q551,728.5 559,728.5 L592,728.5 Q600,728.5 600,735.5 L600,764 Z" fill="url(#g59)"/>
<rect x="551" y="728.5" width="49" height="35.5" fill="url(#g60)" rx="6" opacity="0.10"/>
<path d="M667,764 L667,735.5 Q667,728.5 675,728.5 L708.5,728.5 Q716.5,728.5 716.5,735.5 L716.5,764 Z" fill="url(#g61)"/>
<rect x="667" y="728.5" width="49.5" height="35.5" fill="url(#g62)" rx="6" opacity="0.10"/>
<rect x="565" y="745" width="11" height="14" fill="#484a54" rx="1"/>
<polyline points="553,730 566,728 599,730" fill="none" stroke="#2a2b30" stroke-width="1.6"/>
<polyline points="668,730 702,728 715,730" fill="none" stroke="#2a2b30" stroke-width="1.6"/>
</g>
<g filter="url(#soft2)">
<text x="702.3" y="752.8" font-family="&quot;Liberation Sans&quot;, sans-serif" font-size="16" font-weight="normal" fill="#f2f2f2" text-anchor="middle" stroke="#f2f2f2" stroke-width="0.3">C</text>
</g>
<g filter="url(#soft)">
<g transform="translate(270,800) scale(0.2)">
<polygon points="48,508 60,500 350,522 420,530 420,556 340,552 60,530" fill="#4a4c54"/>
<polygon points="480,530 640,500 720,486 735,500 650,520 500,556" fill="#45474f"/>
<path d="M640,500 Q700,455 750,470 Q760,490 700,496" fill="none" stroke="#3a3b41" stroke-width="7"/>
<rect x="84" y="482" width="22" height="30" fill="#44464d" rx="5"/>
<polygon points="18,612 40,598 340,538 420,528 440,560 380,596 70,642 22,644" fill="#565962"/>
<polygon points="40,598 340,538 420,528 424,540 345,550 46,612" fill="#6c6f79" opacity="0.7"/>
<polygon points="22,630 375,586 380,598 70,644 22,644" fill="#3a3c43"/>
<polygon points="470,528 520,530 900,588 955,596 960,626 920,636 700,610 480,570" fill="#565962"/>
<polygon points="470,528 520,530 900,588 955,596 955,604 900,598 520,544" fill="#6c6f79" opacity="0.6"/>
<polygon points="480,560 700,600 920,626 920,636 700,612 480,572" fill="#3a3c43"/>
<circle cx="44" cy="622" r="23" fill="#44464d"/>
<circle cx="44" cy="620" r="11" fill="#5c5f68"/>
<circle cx="932" cy="612" r="23" fill="#44464d"/>
<circle cx="932" cy="610" r="11" fill="#5c5f68"/>
<rect x="68" y="560" width="28" height="40" fill="#4a4c54" rx="6"/>
<rect x="864" y="548" width="26" height="42" fill="#45474e" rx="6"/>
<rect x="300" y="560" width="85" height="46" fill="#555861" rx="5"/>
<rect x="560" y="566" width="80" height="34" fill="#3f4148" rx="5"/>
<rect x="655" y="588" width="115" height="28" fill="#3a3c43" rx="5"/>
<ellipse cx="440" cy="552" rx="62" ry="32" fill="#4b4d55"/>
<circle cx="448" cy="552" r="24" fill="#3a3b41"/>
<circle cx="448" cy="552" r="12" fill="#5e6069"/>
<path d="M350,404 L500,404 L498,422 Q476,450 482,480 Q486,505 500,522 L352,522 Q366,505 370,480 Q374,450 352,422 Z" fill="url(#g63)"/>
<rect x="348" y="402" width="154" height="18" fill="#666871" rx="6"/>
<rect x="352" y="508" width="148" height="16" fill="#4a4c54" rx="5"/>
<polygon points="255,392 330,388 335,462 300,470 258,458" fill="#37383e"/>
<g clip-path="url(#c17)" opacity="0.8">
<circle cx="283.17" cy="440.97" r="7.76" fill="#1c1d20"/>
<rect x="269.45" y="408.45" width="9.44" height="8.54" fill="#26272b" rx="0.5"/>
<circle cx="261.97" cy="459.03" r="7.83" fill="#1c1d20"/>
<rect x="287.23" y="398.47" width="23.88" height="15.74" fill="#1c1d20" rx="0.5"/>
<rect x="268.01" y="464.71" width="19.22" height="8.24" fill="#26272b" rx="0.5"/>
<rect x="310.55" y="406.64" width="21.44" height="8.71" fill="#4a4b52" rx="0.5"/>
<circle cx="303.58" cy="416" r="8.12" fill="#5c5d65"/>
<rect x="264.54" y="429.96" width="15.44" height="9.71" fill="#1c1d20" rx="0.5"/>
</g>
<polygon points="498,130 660,122 695,478 498,468" fill="#2b2c30"/>
<polygon points="660,122 668,123 703,478 695,478" fill="#9a9ba3"/>
<polyline points="520,150 545,172 600,190" fill="none" stroke="#60626a" stroke-width="6"/>
<polyline points="545,150 520,215" fill="none" stroke="#666870" stroke-width="6"/>
<polyline points="610,150 530,190" fill="none" stroke="#666870" stroke-width="5"/>
<polyline points="500,215 560,232 600,236" fill="none" stroke="#4f5158" stroke-width="9"/>
<ellipse cx="535" cy="262" rx="26" ry="30" fill="#4c4e56"/>
<ellipse cx="535" cy="262" rx="14" ry="18" fill="#34363c"/>
<rect x="555" y="250" width="70" height="30" fill="#5a5c64" rx="8"/>
<ellipse cx="575" cy="268" rx="20" ry="24" fill="#44464d"/>
<ellipse cx="545" cy="330" rx="26" ry="32" fill="#54565e"/>
<ellipse cx="545" cy="330" rx="12" ry="16" fill="#33353b"/>
<polyline points="560,300 600,335 640,345" fill="none" stroke="#6a6c74" stroke-width="8"/>
<ellipse cx="590" cy="385" rx="18" ry="24" fill="#40424a"/>
<polyline points="520,390 560,420" fill="none" stroke="#3e4047" stroke-width="8"/>
<polygon points="290,160 305,142 380,134 470,142 500,160 505,330 500,402 290,402 285,330 300,320 282,250 288,200" fill="#4d5059"/>
<g clip-path="url(#c18)" opacity="0.8">
<rect x="466.87" y="322.52" width="22.01" height="10.02" fill="#2c2d33" rx="0.5"/>
<rect x="315.35" y="363.51" width="10.02" height="10.87" fill="#2c2d33" rx="0.5"/>
<rect x="471.09" y="339.89" width="29.92" height="12.14" fill="#80838d" rx="0.5"/>
<rect x="457.01" y="272.04" width="28.99" height="18.21" fill="#737680" rx="0.5"/>
<rect x="361.86" y="267.65" width="18.63" height="12.39" fill="#80838d" rx="0.5"/>
<rect x="309.31" y="139.81" width="21.63" height="16.57" fill="#202126" rx="0.5"/>
<rect x="341.84" y="334.63" width="12.08" height="14.91" fill="#202126" rx="0.5"/>
<rect x="479.44" y="268.03" width="19.38" height="11.24" fill="#202126" rx="0.5"/>
<rect x="288.87" y="200.41" width="14.45" height="18.79" fill="#737680" rx="0.5"/>
<circle cx="359.55" cy="213.99" r="5.07" fill="#737680"/>
<rect x="459.63" y="389.42" width="15.93" height="16.5" fill="#202126" rx="0.5"/>
<rect x="428.72" y="204.89" width="22.88" height="16.26" fill="#2c2d33" rx="0.5"/>
<rect x="412.49" y="366.42" width="17.01" height="13.69" fill="#737680" rx="0.5"/>
<rect x="305.5" y="342.31" width="13.04" height="12.38" fill="#62656f" rx="0.5"/>
<rect x="386.72" y="320.73" width="16.12" height="11.51" fill="#737680" rx="0.5"/>
<rect x="370.23" y="216.01" width="27.09" height="13.71" fill="#62656f" rx="0.5"/>
<rect x="427.14" y="198.68" width="15.75" height="8.79" fill="#2c2d33" rx="0.5"/>
<rect x="322.23" y="335.86" width="27.6" height="13.55" fill="#737680" rx="0.5"/>
<rect x="393.18" y="394.98" width="10.45" height="11.53" fill="#737680" rx="0.5"/>
<rect x="449.9" y="327.35" width="16.62" height="10.42" fill="#2c2d33" rx="0.5"/>
<rect x="416.49" y="182.91" width="15.32" height="16.83" fill="#2c2d33" rx="0.5"/>
<circle cx="302.91" cy="319.88" r="8.24" fill="#62656f"/>
<rect x="350.44" y="143.47" width="20.89" height="15.47" fill="#737680" rx="0.5"/>
<rect x="378.48" y="196.53" width="26.71" height="9.17" fill="#202126" rx="0.5"/>
<circle cx="475.47" cy="164.35" r="6.86" fill="#202126"/>
<rect x="405.07" y="232.99" width="26.84" height="11.17" fill="#2c2d33" rx="0.5"/>
<rect x="381.95" y="321.09" width="20.1" height="11.95" fill="#202126" rx="0.5"/>
<rect x="331.76" y="297.44" width="9.2" height="12.94" fill="#80838d" rx="0.5"/>
<rect x="452.3" y="161.35" width="20.06" height="13.03" fill="#737680" rx="0.5"/>
<rect x="467.05" y="214.12" width="24.45" height="20.2" fill="#62656f" rx="0.5"/>
<rect x="322.12" y="135.24" width="9.48" height="19.76" fill="#202126" rx="0.5"/>
<circle cx="393.38" cy="388.72" r="5.75" fill="#62656f"/>
<rect x="343.88" y="276.44" width="19.61" height="9.48" fill="#62656f" rx="0.5"/>
<rect x="414.23" y="281.5" width="15.87" height="12.36" fill="#737680" rx="0.5"/>
<rect x="460.96" y="228.93" width="21.6" height="17.32" fill="#80838d" rx="0.5"/>
<rect x="306.78" y="175.9" width="11.03" height="16.76" fill="#2c2d33" rx="0.5"/>
<rect x="316.83" y="307.16" width="15.94" height="13.23" fill="#80838d" rx="0.5"/>
<rect x="451.47" y="254.02" width="16.93" height="11.03" fill="#737680" rx="0.5"/>
<rect x="475.78" y="217.89" width="9.28" height="12.9" fill="#202126" rx="0.5"/>
<rect x="324.18" y="179.14" width="18.93" height="14.14" fill="#62656f" rx="0.5"/>
<rect x="311.43" y="293.28" width="13.69" height="16.38" fill="#62656f" rx="0.5"/>
<circle cx="393.88" cy="321.81" r="10.85" fill="#80838d"/>
<rect x="325.44" y="389.11" width="14.02" height="11.91" fill="#80838d" rx="0.5"/>
<rect x="349.66" y="166.73" width="22.78" height="17.66" fill="#737680" rx="0.5"/>
<rect x="294.65" y="379.97" width="20.1" height="10.13" fill="#2c2d33" rx="0.5"/>
<rect x="494.52" y="321.8" width="8.73" height="20.14" fill="#737680" rx="0.5"/>
<rect x="489.21" y="140.03" width="9.54" height="19.77" fill="#80838d" rx="0.5"/>
<circle cx="429.44" cy="271.77" r="7.07" fill="#62656f"/>
<rect x="287.44" y="222.11" width="27.77" height="12.4" fill="#2c2d33" rx="0.5"/>
<rect x="293.07" y="315.85" width="8.49" height="17.35" fill="#737680" rx="0.5"/>
<rect x="325.22" y="387.32" width="24.16" height="9.14" fill="#80838d" rx="0.5"/>
<rect x="457.04" y="322.88" width="14.18" height="20.04" fill="#62656f" rx="0.5"/>
<rect x="382.95" y="289.99" width="28.88" height="16.6" fill="#62656f" rx="0.5"/>
<circle cx="453.78" cy="350.96" r="7.98" fill="#62656f"/>
<circle cx="334.23" cy="313.73" r="9.75" fill="#202126"/>
<rect x="454.35" y="254.52" width="10.09" height="13.72" fill="#737680" rx="0.5"/>
<rect x="444.97" y="360.96" width="8.58" height="17.8" fill="#737680" rx="0.5"/>
<rect x="480.18" y="377.4" width="11.52" height="14.45" fill="#62656f" rx="0.5"/>
<rect x="384.53" y="264.77" width="11.39" height="19.94" fill="#62656f" rx="0.5"/>
<rect x="476.81" y="202.63" width="13.47" height="15.42" fill="#737680" rx="0.5"/>
</g>
<rect x="292" y="335" width="208" height="67" fill="#5a5d66"/>
<rect x="292" y="335" width="208" height="10" fill="#6a6d76"/>
<ellipse cx="325" cy="225" rx="42" ry="55" fill="#5e616b"/>
<ellipse cx="318" cy="222" rx="24" ry="36" fill="#4a4d56"/>
<polyline points="400,170 430,230 410,300" fill="none" stroke="#7a7d87" stroke-width="6"/>
<polyline points="440,180 470,250 460,330" fill="none" stroke="#353740" stroke-width="8"/>
<circle cx="500" cy="385" r="27" fill="none" stroke="#85878f" stroke-width="9"/>
<circle cx="500" cy="385" r="9" fill="#70727a"/>
<line x1="475" y1="385" x2="525" y2="385" stroke="#70727a" stroke-width="5"/>
<line x1="500" y1="360" x2="500" y2="410" stroke="#70727a" stroke-width="5"/>
<rect x="122" y="180" width="168" height="21" fill="url(#g64)" rx="8"/>
<rect x="262" y="172" width="30" height="38" fill="#3f4148" rx="6"/>
<rect x="134" y="222" width="118" height="42" fill="url(#g65)" rx="10"/>
<rect x="170" y="222" width="12" height="42" fill="#5c5e67"/>
<rect x="210" y="222" width="10" height="42" fill="#5c5e67"/>
<polygon points="118,262 150,256 290,262 300,322 250,300 215,318 200,290 160,280" fill="#50535c"/>
<rect x="668" y="215" width="110" height="26" fill="url(#g66)" rx="5"/>
<rect x="380" y="64" width="14" height="76" fill="#55575e"/>
<circle cx="387" cy="66" r="10" fill="#5a5c63"/>
<rect x="376" y="96" width="22" height="12" fill="#484a51" rx="4"/>
</g>
</g>
<g filter="url(#soft)">
<polygon points="520,907 522,905 534,905 584,903 606,902.5 606,911 584,911.5 550,912.5 524,912.5 520,911" fill="#2b2c30"/>
<polygon points="654,902.5 676,903 726,905.5 738,905.5 740.5,907.5 740,912 712,912 676,911.5 654,911" fill="#2b2c30"/>
<rect x="533.5" y="899.5" width="4" height="6.5" fill="#2e2f33" rx="1"/>
<rect x="723" y="899.5" width="4" height="6.5" fill="#2e2f33" rx="1"/>
<rect x="550" y="908" width="30" height="4.6" fill="#3f4046" rx="1"/>
<rect x="682" y="908" width="30" height="4.6" fill="#3f4046" rx="1"/>
<rect x="584" y="901" width="22" height="12" fill="#303135" rx="1"/>
<rect x="654" y="901" width="22" height="12" fill="#303135" rx="1"/>
<polygon points="604,899 658,899 658,914 654,918 640,919 641,927 636,930 627,930 623,927 624,919 608,918 604,914" fill="#2f3034"/>
<g clip-path="url(#c19)" opacity="0.8">
<rect x="634.18" y="905.48" width="3.67" height="2.52" fill="#45464c" rx="0.5"/>
<rect x="644.68" y="903.11" width="5.43" height="2.32" fill="#5e5f66" rx="0.5"/>
<rect x="644.29" y="907.79" width="4.32" height="1.84" fill="#1f2023" rx="0.5"/>
<circle cx="626.59" cy="918.63" r="1.82" fill="#45464c"/>
<rect x="631.02" y="903.43" width="1.95" height="2.61" fill="#1f2023" rx="0.5"/>
<circle cx="609.21" cy="920.57" r="1.38" fill="#1f2023"/>
<circle cx="637.54" cy="913.58" r="1.66" fill="#1f2023"/>
<circle cx="605.96" cy="922.01" r="2.27" fill="#5e5f66"/>
<circle cx="655.53" cy="917.35" r="1.38" fill="#5e5f66"/>
<rect x="623.31" y="913.1" width="4.08" height="3.25" fill="#1f2023" rx="0.5"/>
<circle cx="617.35" cy="923.24" r="0.88" fill="#1f2023"/>
<circle cx="614.26" cy="904.98" r="1.63" fill="#45464c"/>
<circle cx="617.28" cy="907.88" r="0.76" fill="#45464c"/>
<circle cx="625.8" cy="920.92" r="1.04" fill="#1f2023"/>
<circle cx="629.28" cy="899.68" r="1.95" fill="#1f2023"/>
<circle cx="625.89" cy="926.21" r="0.67" fill="#45464c"/>
<rect x="646.27" y="921" width="3.38" height="3.17" fill="#5e5f66" rx="0.5"/>
<rect x="628.52" y="904.19" width="4.96" height="3.74" fill="#45464c" rx="0.5"/>
<rect x="606.52" y="905.46" width="5.19" height="2.07" fill="#5e5f66" rx="0.5"/>
<rect x="610.04" y="919.25" width="5.98" height="2.87" fill="#45464c" rx="0.5"/>
<rect x="637.64" y="923.79" width="1.56" height="3.19" fill="#45464c" rx="0.5"/>
<rect x="636.59" y="926.69" width="5.44" height="2.67" fill="#1f2023" rx="0.5"/>
<rect x="605.13" y="911.97" width="4.46" height="3.28" fill="#45464c" rx="0.5"/>
<rect x="606.56" y="901.38" width="2.54" height="1.68" fill="#1f2023" rx="0.5"/>
<rect x="646.48" y="902.41" width="2.88" height="2.97" fill="#5e5f66" rx="0.5"/>
</g>
<rect x="624" y="907" width="16" height="9" fill="#77787e" rx="1"/>
<rect x="628" y="909" width="8" height="5" fill="#4a4b51"/>
<polygon points="586.5,822 624,822 624,866 644,866 644,822 672,822 677,897 674,898.5 584,898.5 581,897" fill="url(#g67)"/>
<rect x="586.5" y="822" width="37.5" height="1.6" fill="#2e2f33"/>
<rect x="644" y="822" width="28" height="1.6" fill="#2e2f33"/>
<polygon points="581,894 677,894 677,897 674,898.5 584,898.5 581,897" fill="#2a2b2e"/>
<polyline points="591,833 611,832.5 606,853 596,853 591,833" fill="none" stroke="#303135" stroke-width="1.2"/>
<line x1="608" y1="834" x2="602" y2="852" stroke="#2e2f33" stroke-width="1.6"/>
<circle cx="661" cy="842" r="2.6" fill="none" stroke="#34353a" stroke-width="0.8"/>
<rect x="623" y="824" width="22" height="44" fill="#26272a"/>
<ellipse cx="629.5" cy="829" rx="4.5" ry="6" fill="#3a3b40"/>
<ellipse cx="629" cy="841" rx="7.5" ry="13" fill="#2c2d31"/>
<circle cx="629" cy="840" r="7.4" fill="url(#g68)"/>
<circle cx="630" cy="852" r="4" fill="#55565c"/>
<circle cx="630" cy="852" r="2" fill="#77787e"/>
<polygon points="635,827 641,832 642,848 638,850" fill="#1f2023"/>
<circle cx="620.8" cy="860" r="5.4" fill="#2a2b2f"/>
<circle cx="620.8" cy="860" r="3.8" fill="#606167"/>
<circle cx="639.8" cy="861.5" r="5.6" fill="#2a2b2f"/>
<circle cx="639.8" cy="861.5" r="4" fill="#64656b"/>
<polygon points="624,866 638,866 637,880 625,880" fill="#222326"/>
<rect x="627.8" y="812" width="2.2" height="12" fill="#44454a"/>
<circle cx="628.9" cy="812" r="1.6" fill="#4a4b50"/>
<rect x="626.8" y="817" width="4.2" height="2" fill="#3a3b40"/>
</g>
<g filter="url(#soft2)">
<path d="M650,836.2 L649.9,835 L651,834.2 L650,833.4 L650.3,833 L652.2,833.6 L652.8,833 L655,833 L655.6,834.2 L656.4,835 L656.2,836.2 Z" fill="#f4f4f4"/>
<path d="M662,832.6 L662.6,833.6 L665.2,833.8 L665.2,834.9 L662.7,835 L662.6,836.4 L663.4,836.7 L663.4,837.3 L660.6,837.3 L660.6,836.7 L661.4,836.4 L661.3,835 L658.8,834.9 L658.8,833.8 L661.4,833.6 Z" fill="#f4f4f4"/>
</g>
<g filter="url(#soft2)">
<text x="266.3" y="151.2" font-family="&quot;Liberation Sans&quot;, sans-serif" font-size="12" font-weight="normal" fill="#1a1a1a" text-anchor="middle" stroke="#1a1a1a" stroke-width="0.25">20</text>
<line x1="265" y1="153.6" x2="265" y2="185" stroke="#000" stroke-width="1" opacity="0.55"/>
<text x="373.3" y="147.8" font-family="&quot;Liberation Sans&quot;, sans-serif" font-size="12" font-weight="normal" fill="#1a1a1a" text-anchor="middle" stroke="#1a1a1a" stroke-width="0.25">21</text>
<line x1="373.6" y1="149.6" x2="373.6" y2="181" stroke="#000" stroke-width="1" opacity="0.55"/>
<polyline points="673,190 638,190 618,219" fill="none" stroke="#000" stroke-width="1" opacity="0.58"/>
<text x="674.5" y="194.9" font-family="&quot;Liberation Sans&quot;, sans-serif" font-size="12.4" font-weight="normal" fill="#1c1c1c" text-anchor="start" stroke="#1c1c1c" stroke-width="0.5">H</text>
<rect x="685.9" y="184.9" width="32.6" height="11" fill="#fff" stroke="#111" stroke-width="1"/>
<rect x="702" y="184.4" width="17" height="12" fill="#000"/>
<g transform="translate(694.2,193.7) scale(0.86,1)">
<text x="0" y="0" font-family="&quot;Liberation Sans&quot;, sans-serif" font-size="9.3" font-weight="normal" fill="#222" text-anchor="middle" stroke="#222" stroke-width="0.25">18</text>
</g>
<g transform="translate(710.3,193.7) scale(0.86,1)">
<text x="0" y="0" font-family="&quot;Liberation Sans&quot;, sans-serif" font-size="9.3" font-weight="bold" fill="#fff" text-anchor="middle">28</text>
</g>
<polyline points="681,223 661,223 647,246" fill="none" stroke="#000" stroke-width="1" opacity="0.58"/>
<text x="681.5" y="227.7" font-family="&quot;Liberation Sans&quot;, sans-serif" font-size="12.4" font-weight="normal" fill="#1c1c1c" text-anchor="start" stroke="#1c1c1c" stroke-width="0.5">H</text>
<rect x="692.9" y="217.7" width="32.2" height="11" fill="#fff" stroke="#111" stroke-width="1"/>
<rect x="709" y="217.2" width="16.6" height="12" fill="#000"/>
<g transform="translate(701.2,226.5) scale(0.86,1)">
<text x="0" y="0" font-family="&quot;Liberation Sans&quot;, sans-serif" font-size="9.3" font-weight="normal" fill="#222" text-anchor="middle" stroke="#222" stroke-width="0.25">37</text>
</g>
<g transform="translate(717.1,226.5) scale(0.86,1)">
<text x="0" y="0" font-family="&quot;Liberation Sans&quot;, sans-serif" font-size="9.3" font-weight="bold" fill="#fff" text-anchor="middle">43</text>
</g>
<line x1="312.3" y1="330.5" x2="312.3" y2="374" stroke="#000" stroke-width="1" opacity="0.55"/>
<text x="289" y="387.5" font-family="&quot;Liberation Sans&quot;, sans-serif" font-size="12.4" font-weight="normal" fill="#1c1c1c" text-anchor="start" stroke="#1c1c1c" stroke-width="0.5">H</text>
<rect x="300.5" y="377.5" width="31" height="11" fill="#fff" stroke="#111" stroke-width="1"/>
<rect x="315.8" y="377" width="16.2" height="12" fill="#000"/>
<g transform="translate(308.4,386.3) scale(0.86,1)">
<text x="0" y="0" font-family="&quot;Liberation Sans&quot;, sans-serif" font-size="9.3" font-weight="normal" fill="#222" text-anchor="middle" stroke="#222" stroke-width="0.25">77</text>
</g>
<g transform="translate(323.7,386.3) scale(0.74,1)">
<text x="0" y="0" font-family="&quot;Liberation Sans&quot;, sans-serif" font-size="9.3" font-weight="bold" fill="#fff" text-anchor="middle">137</text>
</g>
<text x="621" y="372.2" font-family="&quot;Liberation Sans&quot;, sans-serif" font-size="12" font-weight="normal" fill="#1a1a1a" text-anchor="middle" stroke="#1a1a1a" stroke-width="0.25">21</text>
<line x1="618.6" y1="375" x2="618.6" y2="406" stroke="#000" stroke-width="1" opacity="0.55"/>
<text x="731.6" y="368.6" font-family="&quot;Liberation Sans&quot;, sans-serif" font-size="12" font-weight="normal" fill="#1a1a1a" text-anchor="middle" stroke="#1a1a1a" stroke-width="0.25">20</text>
<line x1="731.6" y1="372.5" x2="731.6" y2="411" stroke="#000" stroke-width="1" opacity="0.55"/>
<line x1="283" y1="508" x2="283" y2="554" stroke="#000" stroke-width="1" opacity="0.55"/>
<text x="261.5" y="568.5" font-family="&quot;Liberation Sans&quot;, sans-serif" font-size="12.4" font-weight="normal" fill="#1c1c1c" text-anchor="start" stroke="#1c1c1c" stroke-width="0.5">H</text>
<rect x="272.5" y="558.5" width="32.4" height="11" fill="#fff" stroke="#111" stroke-width="1"/>
<rect x="288.6" y="558" width="16.8" height="12" fill="#000"/>
<g transform="translate(280.8,567.3) scale(0.86,1)">
<text x="0" y="0" font-family="&quot;Liberation Sans&quot;, sans-serif" font-size="9.3" font-weight="normal" fill="#222" text-anchor="middle" stroke="#222" stroke-width="0.25">70</text>
</g>
<g transform="translate(296.8,567.3) scale(0.86,1)">
<text x="0" y="0" font-family="&quot;Liberation Sans&quot;, sans-serif" font-size="9.3" font-weight="bold" fill="#fff" text-anchor="middle">60</text>
</g>
<line x1="534" y1="527" x2="534" y2="568" stroke="#000" stroke-width="1" opacity="0.55"/>
<text x="506.5" y="580.5" font-family="&quot;Liberation Sans&quot;, sans-serif" font-size="12.4" font-weight="normal" fill="#1c1c1c" text-anchor="start" stroke="#1c1c1c" stroke-width="0.5">H</text>
<rect x="518" y="570.5" width="32.3" height="11" fill="#fff" stroke="#111" stroke-width="1"/>
<rect x="534" y="570" width="16.8" height="12" fill="#000"/>
<g transform="translate(526.25,579.3) scale(0.86,1)">
<text x="0" y="0" font-family="&quot;Liberation Sans&quot;, sans-serif" font-size="9.3" font-weight="normal" fill="#222" text-anchor="middle" stroke="#222" stroke-width="0.25">70</text>
</g>
<g transform="translate(542.2,579.3) scale(0.86,1)">
<text x="0" y="0" font-family="&quot;Liberation Sans&quot;, sans-serif" font-size="9.3" font-weight="bold" fill="#fff" text-anchor="middle">60</text>
</g>
<text x="485.5" y="697.6" font-family="&quot;Liberation Sans&quot;, sans-serif" font-size="12" font-weight="normal" fill="#1a1a1a" text-anchor="middle" stroke="#1a1a1a" stroke-width="0.25">11</text>
<polyline points="442,740.8 486.5,740.8 486.5,704" fill="none" stroke="#000" stroke-width="1" opacity="0.58"/>
<text x="735" y="599.6" font-family="&quot;Liberation Sans&quot;, sans-serif" font-size="12" font-weight="normal" fill="#1a1a1a" text-anchor="middle" stroke="#1a1a1a" stroke-width="0.25">8</text>
<polyline points="665,633.4 665,596 727,596" fill="none" stroke="#000" stroke-width="1" opacity="0.58"/>
<text x="737" y="638.4" font-family="&quot;Liberation Sans&quot;, sans-serif" font-size="12" font-weight="normal" fill="#1a1a1a" text-anchor="middle" stroke="#1a1a1a" stroke-width="0.25">6</text>
<line x1="684" y1="633.4" x2="731" y2="633.4" stroke="#000" stroke-width="1" opacity="0.58"/>
<text x="298" y="877.2" font-family="&quot;Liberation Sans&quot;, sans-serif" font-size="12" font-weight="normal" fill="#1a1a1a" text-anchor="middle" stroke="#1a1a1a" stroke-width="0.25">5</text>
<polyline points="296.6,880 296.6,895.4 342,895.4" fill="none" stroke="#000" stroke-width="1" opacity="0.5"/>
<polyline points="547,855 547,871 591,871" fill="none" stroke="#000" stroke-width="1" opacity="0.58"/>
<text x="518.5" y="849.5" font-family="&quot;Liberation Sans&quot;, sans-serif" font-size="12.4" font-weight="normal" fill="#1c1c1c" text-anchor="start" stroke="#1c1c1c" stroke-width="0.5">H</text>
<rect x="530.1" y="839.5" width="31.8" height="11" fill="#fff" stroke="#111" stroke-width="1"/>
<rect x="546" y="839" width="16.4" height="12" fill="#000"/>
<g transform="translate(538.3,848.3) scale(0.86,1)">
<text x="0" y="0" font-family="&quot;Liberation Sans&quot;, sans-serif" font-size="9.3" font-weight="normal" fill="#222" text-anchor="middle" stroke="#222" stroke-width="0.25">70</text>
</g>
<g transform="translate(554,848.3) scale(0.86,1)">
<text x="0" y="0" font-family="&quot;Liberation Sans&quot;, sans-serif" font-size="9.3" font-weight="bold" fill="#fff" text-anchor="middle">60</text>
</g>
</g>
</svg>
</body>
</html>
